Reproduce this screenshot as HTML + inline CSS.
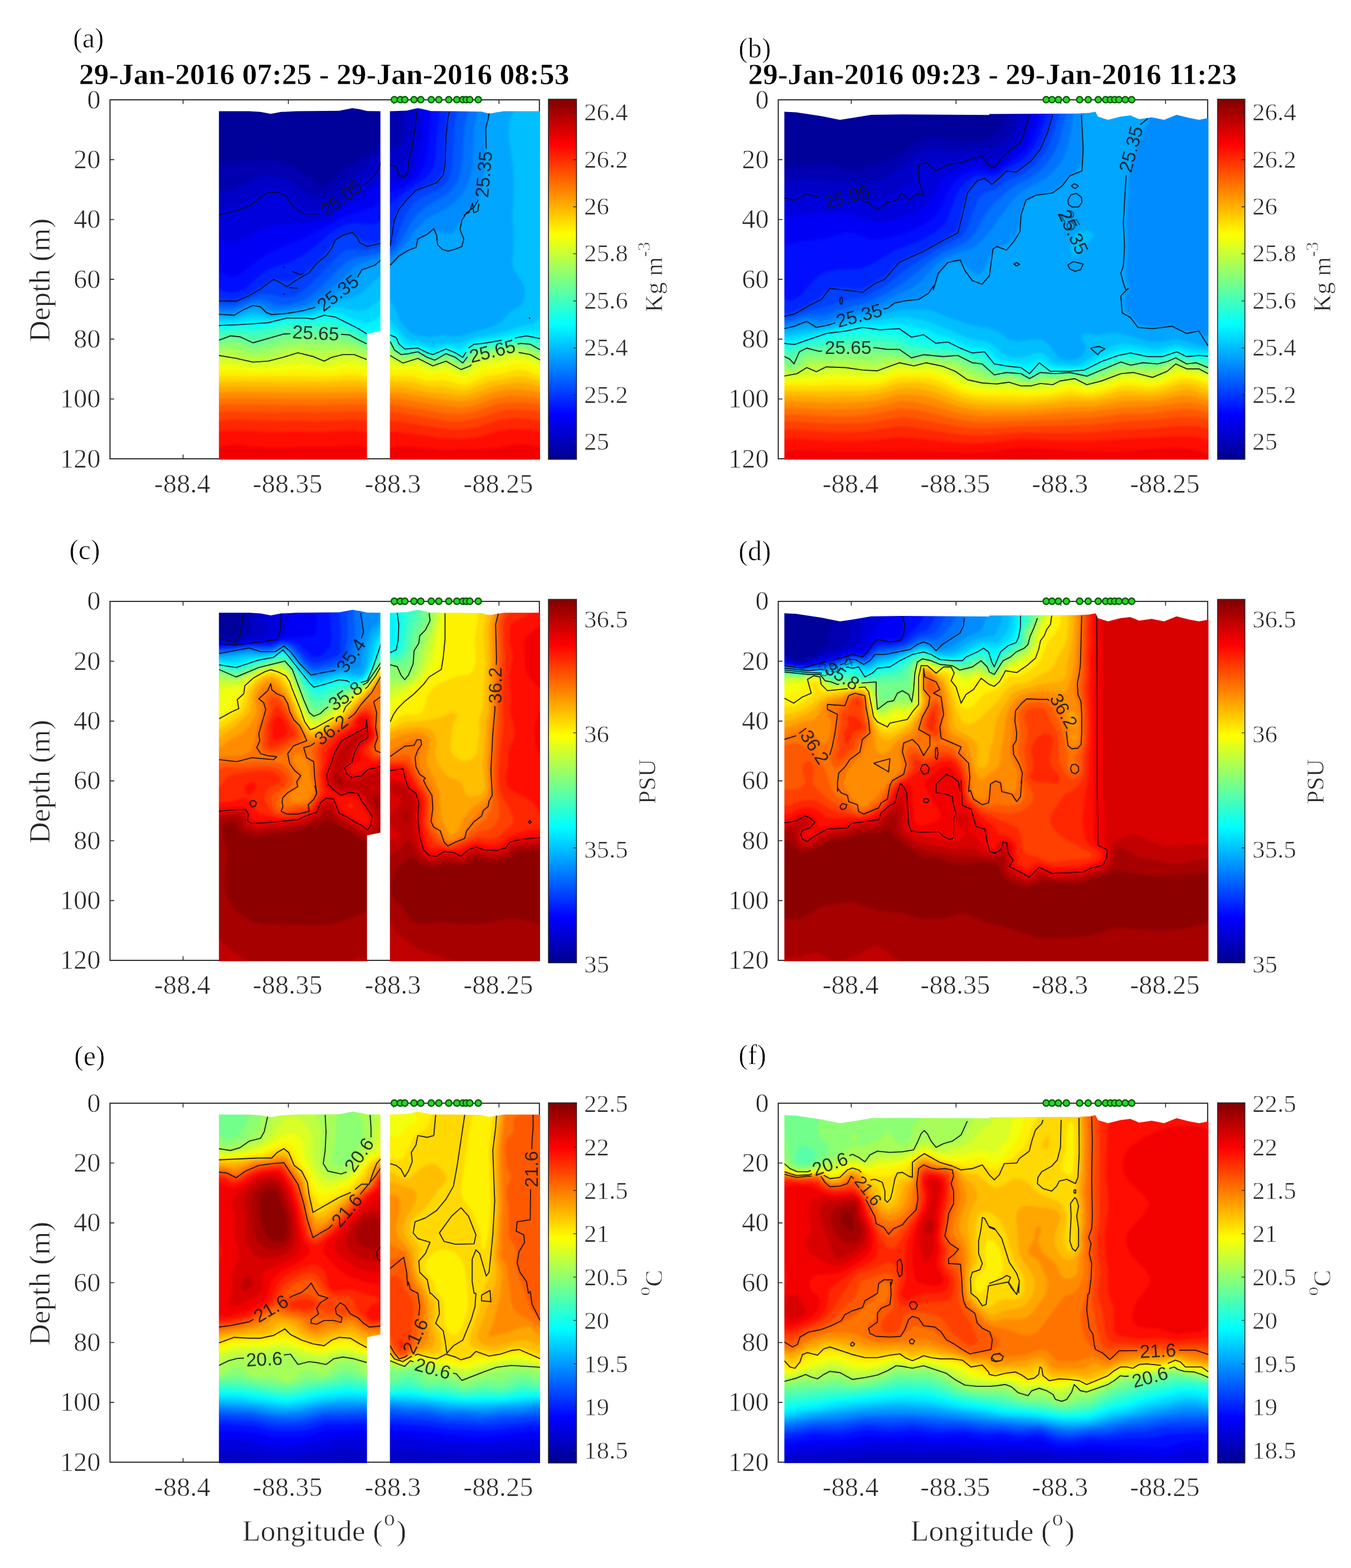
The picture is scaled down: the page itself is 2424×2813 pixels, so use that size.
<!DOCTYPE html>
<html lang="en"><head><meta charset="utf-8"><title>Figure</title>
<style>html,body{margin:0;padding:0;background:#fff}body{width:2424px;height:2813px;overflow:hidden}svg{display:block}text{white-space:pre}.t text{stroke:#fff;stroke-width:.75px;stroke-linejoin:round}.t text.b{stroke-width:.6px}</style></head><body>
<svg width="2424" height="2813" viewBox="0 0 2424 2813">
<defs><linearGradient id="jet" x1="0" y1="0" x2="0" y2="1"><stop offset="0" stop-color="#800000"/><stop offset="0.125" stop-color="#ff0000"/><stop offset="0.375" stop-color="#ffff00"/><stop offset="0.625" stop-color="#00ffff"/><stop offset="0.875" stop-color="#0000ff"/><stop offset="1" stop-color="#00008f"/></linearGradient>
<filter id="sm" x="-5%" y="-5%" width="110%" height="110%" color-interpolation-filters="sRGB"><feGaussianBlur stdDeviation="2.2"/></filter>
<clipPath id="ca0"><path d="M392.8 199.5L447.2 199.5L467.4 200.8L485.9 204.2L504.4 200.8L531.3 199.5L608.6 198.8L622.0 196.1L632.1 194.1L645.5 196.1L659.0 199.2L682.6 199.5L682.6 594.0L658.5 599.0L658.5 824.6L392.8 824.6Z"/></clipPath><clipPath id="ca1"><path d="M699.6 199.5L729.6 198.5L741.3 195.8L749.7 194.1L759.8 196.1L773.3 199.2L817.0 199.5L864.0 200.2L874.1 202.9L880.8 203.5L890.9 201.5L904.4 199.5L969.0 199.5L969.0 824.6L699.6 824.6Z"/></clipPath><clipPath id="caA"><path d="M392.8 199.5L447.2 199.5L467.4 200.8L485.9 204.2L504.4 200.8L531.3 199.5L608.6 198.8L622.0 196.1L632.1 194.1L645.5 196.1L659.0 199.2L682.6 199.5L682.6 594.0L658.5 599.0L658.5 824.6L392.8 824.6ZM699.6 199.5L729.6 198.5L741.3 195.8L749.7 194.1L759.8 196.1L773.3 199.2L817.0 199.5L864.0 200.2L874.1 202.9L880.8 203.5L890.9 201.5L904.4 199.5L969.0 199.5L969.0 824.6L699.6 824.6Z"/></clipPath><clipPath id="cb0"><path d="M1407.3 200.4L1428.6 201.5L1473.4 208.2L1507.0 214.9L1529.5 211.6L1563.1 206.0L1619.1 205.3L1775.1 206.2L1775.0 204.4L1864.6 204.0L1931.9 203.7L1954.3 202.6L1965.5 200.4L1970.0 209.3L1987.9 214.9L2010.3 209.3L2028.2 207.1L2043.9 213.8L2066.3 210.5L2088.7 214.9L2111.1 206.0L2133.5 211.6L2151.5 214.9L2168.3 211.6L2168.3 824.6L1407.3 824.6Z"/></clipPath><clipPath id="cbA"><path d="M1407.3 200.4L1428.6 201.5L1473.4 208.2L1507.0 214.9L1529.5 211.6L1563.1 206.0L1619.1 205.3L1775.1 206.2L1775.0 204.4L1864.6 204.0L1931.9 203.7L1954.3 202.6L1965.5 200.4L1970.0 209.3L1987.9 214.9L2010.3 209.3L2028.2 207.1L2043.9 213.8L2066.3 210.5L2088.7 214.9L2111.1 206.0L2133.5 211.6L2151.5 214.9L2168.3 211.6L2168.3 824.6L1407.3 824.6Z"/></clipPath><clipPath id="cc0"><path d="M392.8 1099.3L447.2 1099.3L467.4 1100.6L485.9 1104.0L504.4 1100.6L531.3 1099.3L608.6 1098.6L622.0 1095.9L632.1 1093.9L645.5 1095.9L659.0 1099.0L682.6 1099.3L682.6 1493.8L658.5 1498.8L658.5 1724.4L392.8 1724.4Z"/></clipPath><clipPath id="cc1"><path d="M699.6 1099.3L729.6 1098.3L741.3 1095.6L749.7 1093.9L759.8 1095.9L773.3 1099.0L817.0 1099.3L864.0 1100.0L874.1 1102.7L880.8 1103.3L890.9 1101.3L904.4 1099.3L969.0 1099.3L969.0 1724.4L699.6 1724.4Z"/></clipPath><clipPath id="ccA"><path d="M392.8 1099.3L447.2 1099.3L467.4 1100.6L485.9 1104.0L504.4 1100.6L531.3 1099.3L608.6 1098.6L622.0 1095.9L632.1 1093.9L645.5 1095.9L659.0 1099.0L682.6 1099.3L682.6 1493.8L658.5 1498.8L658.5 1724.4L392.8 1724.4ZM699.6 1099.3L729.6 1098.3L741.3 1095.6L749.7 1093.9L759.8 1095.9L773.3 1099.0L817.0 1099.3L864.0 1100.0L874.1 1102.7L880.8 1103.3L890.9 1101.3L904.4 1099.3L969.0 1099.3L969.0 1724.4L699.6 1724.4Z"/></clipPath><clipPath id="cd0"><path d="M1407.3 1100.2L1428.6 1101.3L1473.4 1108.0L1507.0 1114.7L1529.5 1111.4L1563.1 1105.8L1619.1 1105.1L1775.1 1106.0L1775.0 1104.2L1864.6 1103.8L1931.9 1103.5L1954.3 1102.4L1965.5 1100.2L1970.0 1109.1L1987.9 1114.7L2010.3 1109.1L2028.2 1106.9L2043.9 1113.6L2066.3 1110.3L2088.7 1114.7L2111.1 1105.8L2133.5 1111.4L2151.5 1114.7L2168.3 1111.4L2168.3 1724.4L1407.3 1724.4Z"/></clipPath><clipPath id="cdA"><path d="M1407.3 1100.2L1428.6 1101.3L1473.4 1108.0L1507.0 1114.7L1529.5 1111.4L1563.1 1105.8L1619.1 1105.1L1775.1 1106.0L1775.0 1104.2L1864.6 1103.8L1931.9 1103.5L1954.3 1102.4L1965.5 1100.2L1970.0 1109.1L1987.9 1114.7L2010.3 1109.1L2028.2 1106.9L2043.9 1113.6L2066.3 1110.3L2088.7 1114.7L2111.1 1105.8L2133.5 1111.4L2151.5 1114.7L2168.3 1111.4L2168.3 1724.4L1407.3 1724.4Z"/></clipPath><clipPath id="ce0"><path d="M392.8 1999.6L447.2 1999.6L467.4 2000.9L485.9 2004.3L504.4 2000.9L531.3 1999.6L608.6 1998.9L622.0 1996.2L632.1 1994.2L645.5 1996.2L659.0 1999.3L682.6 1999.6L682.6 2394.1L658.5 2399.1L658.5 2624.7L392.8 2624.7Z"/></clipPath><clipPath id="ce1"><path d="M699.6 1999.6L729.6 1998.6L741.3 1995.9L749.7 1994.2L759.8 1996.2L773.3 1999.3L817.0 1999.6L864.0 2000.3L874.1 2003.0L880.8 2003.6L890.9 2001.6L904.4 1999.6L969.0 1999.6L969.0 2624.7L699.6 2624.7Z"/></clipPath><clipPath id="ceA"><path d="M392.8 1999.6L447.2 1999.6L467.4 2000.9L485.9 2004.3L504.4 2000.9L531.3 1999.6L608.6 1998.9L622.0 1996.2L632.1 1994.2L645.5 1996.2L659.0 1999.3L682.6 1999.6L682.6 2394.1L658.5 2399.1L658.5 2624.7L392.8 2624.7ZM699.6 1999.6L729.6 1998.6L741.3 1995.9L749.7 1994.2L759.8 1996.2L773.3 1999.3L817.0 1999.6L864.0 2000.3L874.1 2003.0L880.8 2003.6L890.9 2001.6L904.4 1999.6L969.0 1999.6L969.0 2624.7L699.6 2624.7Z"/></clipPath><clipPath id="cf0"><path d="M1407.3 2000.5L1428.6 2001.6L1473.4 2008.3L1507.0 2015.0L1529.5 2011.7L1563.1 2006.1L1619.1 2005.4L1775.1 2006.3L1775.0 2004.5L1864.6 2004.1L1931.9 2003.8L1954.3 2002.7L1965.5 2000.5L1970.0 2009.4L1987.9 2015.0L2010.3 2009.4L2028.2 2007.2L2043.9 2013.9L2066.3 2010.6L2088.7 2015.0L2111.1 2006.1L2133.5 2011.7L2151.5 2015.0L2168.3 2011.7L2168.3 2624.7L1407.3 2624.7Z"/></clipPath><clipPath id="cfA"><path d="M1407.3 2000.5L1428.6 2001.6L1473.4 2008.3L1507.0 2015.0L1529.5 2011.7L1563.1 2006.1L1619.1 2005.4L1775.1 2006.3L1775.0 2004.5L1864.6 2004.1L1931.9 2003.8L1954.3 2002.7L1965.5 2000.5L1970.0 2009.4L1987.9 2015.0L2010.3 2009.4L2028.2 2007.2L2043.9 2013.9L2066.3 2010.6L2088.7 2015.0L2111.1 2006.1L2133.5 2011.7L2151.5 2015.0L2168.3 2011.7L2168.3 2624.7L1407.3 2624.7Z"/></clipPath>
</defs>
<rect width="2424" height="2813" fill="#fff"/>
<g id="panel-a">
<rect x="197.4" y="179.1" width="770.4" height="644" fill="#fff" stroke="#262626" stroke-width="2"/>
<path d="M197.4 286.4h7.5M967.8 286.4h-7.5M197.4 393.8h7.5M967.8 393.8h-7.5M197.4 501.1h7.5M967.8 501.1h-7.5M197.4 608.4h7.5M967.8 608.4h-7.5M197.4 715.8h7.5M967.8 715.8h-7.5M328.5 823.1v-7.5M328.5 179.1v7.5M517.4 823.1v-7.5M517.4 179.1v7.5M706.3 823.1v-7.5M706.3 179.1v7.5M895.3 823.1v-7.5M895.3 179.1v7.5" stroke="#262626" stroke-width="1.6" fill="none"/>
<g clip-path="url(#ca0)"><g filter="url(#sm)">
<rect x="370" y="173" width="334" height="674" fill="#00009a"/>
<path fill="#0000b1" d="M692 213l0 622 -310 0 0-548 15 6 10 2 10-1 30-6 15-1 20 0 20 2 15 5 15 8 39 28 6 2 5 0 5-2 5-4 18-16 13-10 16-10 23-13 10-7 6-10 9-33 5-14z"/>
<path fill="#0000c7" d="M692 267l0 568 -310 0 0-498 20 5 15-1 10-4 25-14 10-4 15-3 15 0 15 3 10 4 11 7 19 15 10 6 10 3 5 0 10-1 15-7 15-11 40-31 25-25 15-12z"/>
<path fill="#0000dd" d="M692 284l0 551 -310 0 0-459 20-1 25-6 15-6 30-19 10-3 10-1 10 2 10 5 5 3 15 16 13 9 7 2 10 1 15-2 10-4 20-13 48-34 15-15 13-20 9-6z"/>
<path fill="#0000f4" d="M687 325l5-4 0 514 -310 0 0-409 25 9 15-1 15-5 35-19 15-6 15-2 40 0 15-2 15-4 15-7 70-39 15-11 15-14z"/>
<path fill="#000dff" d="M687 360l5-3 0 478 -310 0 0-357 25 17 10 2 10-2 10-7 25-21 20-13 70-30 60-33 15-6 35-11 10-4 15-10z"/>
<path fill="#0026ff" d="M687 394l5-2 0 443 -310 0 0-324 15 10 10 3 10 1 10-2 16-8 28-25 11-7 10-4 30-9 20-11 25-18 23-21 17-11 15-7 10-1 10-1 25 3 10-3 10-6z"/>
<path fill="#0040ff" d="M622 419l10-1 5 2 15 13 5 2 5 1 15-3 15-8 0 410 -310 0 0-305 15 6 15 2 10-1 10-3 19-9 36-22 5-2 5 0 15 4 10-2 20-11 10-7 31-30 19-25 10-7 10-4z"/>
<path fill="#0059ff" d="M677 445l15-4 0 394 -310 0 0-294 15 4 20 1 10-3 30-12 15-4 15 1 20 5 10 0 10-2 12-6 13-10 55-56 10-8 10-4 30 2 20-4z"/>
<path fill="#0073ff" d="M692 450l0 385 -310 0 0-286 20 3 15 0 10-3 25-10 10-2 10 0 20 8 10 2 15 0 15-4 15-5 12-8 17-15 36-37 15-11 10-4 25-5 30-8z"/>
<path fill="#008cff" d="M682 460l10-2 0 377 -310 0 0-279 20 2 15 0 10-3 20-9 10-2 10 0 20 10 10 1 25-2 25-5 15-7 16-11 30-25 26-25 7-5 41-15z"/>
<path fill="#00a6ff" d="M687 469l5 0 0 366 -310 0 0-273 20 2 15 0 10-3 20-9 10-2 10 2 15 8 10 1 40-4 25-5 5-2 19-10 46-28 8-7 11-15 5-5 31-14 5-2z"/>
<path fill="#00bfff" d="M687 494l5-1 0 342 -310 0 0-267 35 1 10-2 20-7 10-2 5 1 17 6 8 1 55-6 15-2 40-15 32-8 13-5 10-7 20-20 15-9z"/>
<path fill="#00d9ff" d="M687 533l5-2 0 304 -310 0 0-261 40-1 25-6 10-1 22 4 13 0 25-4 40-3 25-8 15-3 15 0 30 6 10-1 6-2 9-5 20-17z"/>
<path fill="#00f2ff" d="M572 564l15-4 15 1 14 4 31 13 10 2 10-3 25-16 0 274 -310 0 0-256 40-1 35-4 30 1 30-5 40-3 15-3z"/>
<path fill="#0dfff2" d="M572 570l15-3 15 3 50 22 10 2 10-3 20-11 0 255 -310 0 0-250 100-5 35-7 40-1 15-2z"/>
<path fill="#26ffd9" d="M582 575l10 0 15 4 25 10 25 12 5 1 10-2 20-7 0 242 -310 0 0-244 35-3 45 0 20-3 35-7 45 0 20-3z"/>
<path fill="#40ffbf" d="M512 584l15-1 35 1 25-1 15 2 25 8 30 14 15 0 20-4 0 232 -310 0 0-237 35-5 35 3 10-1 20-3 30-8z"/>
<path fill="#59ffa6" d="M502 594l10-2 15-1 60 0 35 5 10 4 20 10 10 3 10 1 20-2 0 223 -310 0 0-230 35-6 15 1 20 4 10 0 40-10z"/>
<path fill="#73ff8c" d="M517 600l60-1 35 2 15 3 25 12 10 3 15 2 15-1 0 215 -310 0 0-223 35-7 10 1 20 6 10 2 10-2 35-9 15-3z"/>
<path fill="#8cff73" d="M512 610l30-3 75 2 10 2 35 14 15 3 15 0 0 207 -310 0 0-216 35-5 10 1 25 8 10 0 50-13z"/>
<path fill="#a6ff59" d="M512 620l25-4 45 3 35-1 15 3 35 12 25 3 0 199 -310 0 0-209 20-2 15-1 10 2 20 6 15 1 15-2 35-10z"/>
<path fill="#bfff40" d="M517 629l10-2 10-1 45 7 25-4 15-1 15 3 30 10 25 4 0 190 -310 0 0-201 15-2 15 1 35 7 15 1 20-2 35-10z"/>
<path fill="#d9ff26" d="M522 639l10-2 10 1 30 7 10 2 30-8 15-1 10 2 30 9 25 5 0 181 -310 0 0-192 10-1 10 0 45 7 15 1 25-2 35-9z"/>
<path fill="#f2ff0d" d="M622 650l15 1 30 7 25 5 0 172 -310 0 0-181 25-1 40 5 15 1 20-1 40-6 15-1 45 7 10-2 20-5 10-1z"/>
<path fill="#fff200" d="M392 665l20-1 35 2 20 1 45-2 35-1 35 3 15-1 20-4 15-1 60 11 0 163 -310 0 0-169 10-1z"/>
<path fill="#ffd900" d="M397 675l20-1 35 1 95 0 35 1 50-4 15 2 45 8 0 153 -310 0 0-159 15-1z"/>
<path fill="#ffbf00" d="M392 685l25-1 160 1 55-3 25 3 35 7 0 143 -310 0 0-149 10-1z"/>
<path fill="#ffa600" d="M387 695l30-2 155 2 65-2 25 2 30 7 0 133 -310 0 0-139 5-1z"/>
<path fill="#ff8c00" d="M392 704l25-1 155 2 70-2 20 2 30 8 0 122 -310 0 0-129 10-2z"/>
<path fill="#ff7300" d="M397 715l20-1 150 2 75-2 20 2 30 9 0 110 -310 0 0-118 15-2z"/>
<path fill="#ff5900" d="M627 725l30 1 10 3 25 10 0 96 -310 0 0-106 25-4 160 2 60-2z"/>
<path fill="#ff4000" d="M392 740l20-2 80 2 40-1 35 1 70-2 15 0 10 3 30 13 0 81 -310 0 0-93 10-2z"/>
<path fill="#ff2600" d="M397 755l20-2 75 2 40 0 35 1 70-3 20 2 13 5 22 13 0 62 -310 0 0-76 15-4z"/>
<path fill="#ff0d00" d="M397 774l20-2 75 3 40-1 40 1 60-3 20 2 6 1 9 5 25 16 0 39 -310 0 0-55 15-6z"/>
<path fill="#f20000" d="M407 799l20-1 35 4 15 1 115-1 35-3 15 0 15 4 10 6 25 21 0 5 -310 0 0-26 15-7 10-3z"/>
</g></g>
<g clip-path="url(#ca1)"><g filter="url(#sm)">
<rect x="678" y="173" width="314" height="674" fill="#0000b1"/>
<path fill="#0000c7" d="M720 185l260 0 0 650 -290 0 0-566 15-1 10-4 5-5 5-9 2-10 -2-25 -2-15 -4-15 1 0z"/>
<path fill="#0000dd" d="M745 185l235 0 0 650 -290 0 0-541 10-1 20 0 5-4 5-9 6-15 3-15 4-45 -2-20 4 0z"/>
<path fill="#0000f4" d="M760 185l220 0 0 650 -290 0 0-509 25 0 10-2 7-4 8-10 6-15 6-25 6-55 1-15 0-15 1 0z"/>
<path fill="#000dff" d="M775 185l205 0 0 650 -290 0 0-487 30-11 15-8 11-9 12-15 6-15 3-15 8-90z"/>
<path fill="#0026ff" d="M795 185l185 0 0 650 -290 0 0-462 29-23 43-30 8-7 5-8 4-10 2-10 4-50 6-50 4 0z"/>
<path fill="#0040ff" d="M810 185l170 0 0 650 -290 0 0-404 5-3 1-3 11-35 7-15 8-10 10-10 13-11 35-18 6-6 4-5 4-10 2-10 3-50 3-35 5-25 3 0z"/>
<path fill="#0059ff" d="M825 185l155 0 0 650 -290 0 0-388 10-3 5-4 3-5 17-45 6-10 9-12 15-13 35-17 9-8 7-10 3-10 2-10 5-75 4-20 4-20 1 0z"/>
<path fill="#0073ff" d="M845 185l135 0 0 650 -290 0 0-379 10-3 5-3 10-10 6-10 14-27 15-20 15-13 35-20 10-9 8-11 5-10 4-15 2-15 3-45 2-20 9-40 2 0z"/>
<path fill="#008cff" d="M865 185l115 0 0 650 -290 0 0-368 15-8 17-14 8-10 15-22 15-16 10-7 25-13 15-9 14-13 8-10 8-15 4-15 4-25 2-50 1-15 6-25 6-15 2 0z"/>
<path fill="#00a6ff" d="M890 185l90 0 0 650 -290 0 0-350 5-3 24-22 22-15 5-5 9-12 20-13 5-1 5 0 15 5 5 1 5-1 5-5 19-29 18-20 11-20 5-25 3-40 0-45 2-15 3-10 4-10 8-15 2 0z"/>
<path fill="#00bfff" d="M940 187l2-2 38 0 0 650 -290 0 0-306 5 3 5 6 7 12 11 25 7 10 10 10 10 6 25 4 25-4 20 2 10 0 61-18 9-5 5-4 15-16 16-10 5-5 4-7 2-13 -2-11 -5-11 -12-18 -4-10 3-45 -3-45 3-35 0-25 -2-30 -6-40 -2-20 1-15 3-10 2-5 4-5 18-13z"/>
<path fill="#00d9ff" d="M693 565l16 20 21 23 5 3 20 3 20 6 5 0 20-5 25 1 25-10 32-6 21-5 27-8 25-6 10-6 15-14 0 274 -290 0 0-273 3 3z"/>
<path fill="#00f2ff" d="M695 584l18 16 12 15 5 2 5 1 20 2 20 7 5 0 15-5 5-1 10 1 10 3 5 0 5-2 15-9 10-3 38-6 42-9 30-1 15-6 0 246 -290 0 0-255 5 4z"/>
<path fill="#0dfff2" d="M695 594l15 11 10 13 5 4 5 1 15-1 10 2 15 7 5 1 5 0 15-6 5-1 10 1 15 6 5-2 15-11 10-4 38-5 47-8 10 0 20 2 10-2 0 233 -290 0 0-244 5 3z"/>
<path fill="#26ffd9" d="M694 600l11 7 11 13 6 5 8 2 20-1 5 1 15 7 5 2 5 0 20-7 10 1 15 7 5-1 15-13 10-4 30-4 50-8 15 0 20 4 10 0 0 224 -290 0 0-237 4 2z"/>
<path fill="#40ffbf" d="M694 605l9 5 13 15 9 5 25-1 25 10 5 0 15-6 10-1 20 9 5 0 5-3 10-11 10-5 85-12 10 1 20 6 10 0 0 218 -290 0 0-231 4 1z"/>
<path fill="#59ffa6" d="M695 610l5 3 15 16 5 3 10 1 20-2 25 11 5 0 20-7 5 0 5 2 15 8 5 0 5-2 10-13 5-3 10-2 25-3 45-8 10 0 10 1 20 7 10 1 0 212 -290 0 0-226 5 1z"/>
<path fill="#73ff8c" d="M694 615l6 4 11 11 9 5 10 1 15-2 5 0 25 10 10-1 15-5 5 0 5 2 15 8 5 1 7-4 8-10 5-4 5-2 30-4 40-7 10 0 10 0 10 3 15 6 10 1 0 207 -290 0 0-221 4 1z"/>
<path fill="#8cff73" d="M691 620l4 2 17 13 8 4 5 0 20-2 5 0 25 10 10-1 15-5 5 0 20 11 5 1 6-3 14-15 5-2 30-4 40-7 10-1 10 1 10 3 15 7 10 2 0 201 -290 0 0-215 1 0z"/>
<path fill="#a6ff59" d="M930 625l10 1 10 2 20 9 10 2 0 196 -290 0 0-209 5 2 15 10 10 4 5 1 20-3 5 0 20 9 5 1 10-1 15-5 5 1 15 8 5 2 5 1 5-1 5-4 10-11 5-3 75-12z"/>
<path fill="#bfff40" d="M920 630l10-1 15 2 10 4 15 7 10 3 0 190 -290 0 0-202 5 1 25 12 5 1 20-4 5 1 20 8 5 2 10-1 15-5 8 2 12 7 10 3 5-1 5-3 11-11 9-4 25-4 35-7z"/>
<path fill="#d9ff26" d="M920 635l10 0 15 2 35 15 0 183 -290 0 0-195 10 3 20 8 5 1 20-4 5 0 20 9 5 1 5 0 20-5 7 2 13 7 10 3 5-1 5-2 15-13 5-2 30-5 30-7z"/>
<path fill="#f2ff0d" d="M910 645l15-3 15 1 10 3 20 10 10 4 0 175 -290 0 0-186 5 1 25 8 10-1 15-3 5 0 20 9 5 1 25-4 5 1 15 8 10 2 10-2 21-14 34-6 15-4z"/>
<path fill="#fff200" d="M915 654l10-2 15 1 10 3 20 10 10 2 0 167 -290 0 0-173 30 3 25-1 7 1 13 6 5 1 25-3 5 1 20 8 10 2 10-1 25-14 10-3 25-3 15-5z"/>
<path fill="#ffd900" d="M920 665l10-2 10 1 30 11 10 2 0 158 -290 0 0-161 50 1 25 8 10 0 20-1 10 2 20 6 10 0 10-3 25-12 10-2 20-2 20-6z"/>
<path fill="#ffbf00" d="M905 680l20-4 10 0 10 1 35 10 0 148 -290 0 0-151 40 1 10 1 25 7 30 1 35 6 15-3 30-12 30-5z"/>
<path fill="#ffa600" d="M905 690l20-3 15 0 40 9 0 139 -290 0 0-141 35 1 40 8 65 7 15-3 35-12 25-5z"/>
<path fill="#ff8c00" d="M910 699l15-1 15 1 15 2 25 5 0 129 -290 0 0-130 30 0 50 9 45 5 15 1 15-2 40-14 25-5z"/>
<path fill="#ff7300" d="M915 710l30 1 35 6 0 118 -290 0 0-119 15-1 15 1 65 11 40 4 20-2 45-15 25-4z"/>
<path fill="#ff5900" d="M895 724l15-2 25 0 25 2 20 5 0 106 -290 0 0-108 15-1 10 1 80 14 30 2 25-4 45-15z"/>
<path fill="#ff4000" d="M910 735l40 1 15 2 15 4 0 93 -290 0 0-94 15-2 9 1 81 14 30 2 25-4 15-4 30-10 15-3z"/>
<path fill="#ff2600" d="M920 750l35 2 25 6 0 77 -290 0 0-78 15-2 10 1 75 12 20 2 20 1 25-4 45-15 20-2z"/>
<path fill="#ff0d00" d="M915 770l20 0 20 1 10 2 15 6 0 56 -290 0 0-57 15-4 10 1 75 11 40 2 30-4 40-12 15-2z"/>
<path fill="#f20000" d="M915 799l20-2 15 1 15 3 15 7 0 27 -290 0 0-28 20-6 20 0 35 3 25 3 15 1 30-3 20 1 20-1 20-2 20-4z"/>
</g></g>
<g clip-path="url(#caA)"><path d="M392.8 385.7l30.9-7.4 26.9-10.1 16.8-15.1 13.4-7.7 16.8-.7 15.2 6.7 8.4 12.8 10.1 10.8 13.4 8.4 23.5 .6 5.4-1.6M654.1 331.3l4.9-3.4 13.4-13.4 8.4-15.2 3.4-11.7M392.8 539.7l30.9 .6 23.5-10 20.2-11.8 23.5-17.5 13.5 6.7 10.1 6.8 16.8-11.8 23.5-13.5 13.4-16.8 16.8-13.4 10.1-13.5 6.7-15.1 13.5-8.4 16.8-5 8.4 8.4 5 10.1 13.5 6.7 25.2-6.1M392.8 563.9l27.5 1.6 16.8-10 16.8-7.4 13.5 2.3 10.1 10.1 10.1 4 26.9-2.3 26.8-4.4 21.9-5.7 2.5-1.5M641.4 497.6l7.5-13.4 23.5-8.4 11.8-10.1M392.8 584l37.6-1.6 50.4-3.4 33.7-8.4 33.6 0 13.4 1.7 20.2-6.8 20.1 3.4 40.4 20.2 16.1 10.1M392.8 610.3l20.8-7.8 16.8 1.7 23.5 10.8 55.5-15.8 11.9-.6M611.9 599.7l15.2 1.1 15.1 8.4 16.1 7.8M392.8 637.8l30.9 5.1 30.2 6.7 26.9-1.7 26.9-6.7 26.9-8.4 26.9 6.7 20.2 8.4 13.4-6.7 20.2-5.1 20.2 0 22.8 9.1M700 296l11.1 3.3 5 13.5 10.1 5 5.1-6.7 1.6-20.2 6.8-26.9 5-33.6 3.4-30.2M700 440.5l7.7-45.4 8.4-20.1 16.8-20.2 13.5-13.5 37-13.4 11.7-13.4 3.4-20.2 1.7-47.1 3.3-33.6 2.7-13.4M700 475.8l16.1-16.8 16.8-10.1 13.5-5 3.3-15.2 16.9-8.4 11.7-10 5.1 11.7 1.6 16.8 8.4 8.4 10.1 3.4 13.5-3.4 11.7-5 3.4-13.5 -6.7-16.8 3.3-16.8 8.4-13.4 13.5-10.1 7.5-13.1M872.3 266.6l-.9-36.2 4.4-16.8 1.7-10.1M700 600.8l11.1 5.1 5 11.7 10.1 8.5 23.5-1.7 16.9 8.4 10 3.3 23.6-10 16.8 6.7 13.4 8.4 5.8-9.6M840.5 624.4l10.1-6.8 16.8-1.6 32.6-5.5M923.8 606.4l20.9-3.9 25.2 5.1M700 612.6l7.7 15.1 11.8 8.4 13.4-1.6 16.8-3.4 16.9 10.1 13.4 5 20.2-11.7 16.8 6.7 13.4 10.1 8.4-11.2M928.7 617l5.9-1 16.8 1.6 18.5 10.1M700 637.8l22.9 13.5 26.8-8.4 26.9 13.4 23.6-8.4 26.9 15.1 16.8-6.7 1.6-2.5M930.5 632.2l20.9 3.9 18.5 10.1M832.1 385.7l10.1-5 5.7-16.5M847.9 364.2l2 17.5 7.4-2.7 2-13.5M508.7 478.5l2.1 2M523.9 486.6l14.1 6 6.7-1.7M518.5 516.1l16.1 .7M508.7 526.2l2.4 2M949.1 569.9l2.3 2" fill="none" stroke="#0c0c14" stroke-width="1.9" stroke-linejoin="round" stroke-opacity="0.9"/></g>
<text transform="translate(611.9 354.8) rotate(-38)" font-size="33.5" text-anchor="middle" fill="#15151c" fill-opacity="0.88" stroke="none" font-family="'Liberation Sans','DejaVu Sans',sans-serif" y="12.1">25.05</text>
<text transform="translate(605.9 525.2) rotate(-38)" font-size="33.5" text-anchor="middle" fill="#15151c" fill-opacity="0.88" stroke="none" font-family="'Liberation Sans','DejaVu Sans',sans-serif" y="12.1">25.35</text>
<text transform="translate(867.4 312.8) rotate(-85)" font-size="33.5" text-anchor="middle" fill="#15151c" fill-opacity="0.88" stroke="none" font-family="'Liberation Sans','DejaVu Sans',sans-serif" y="12.1">25.35</text>
<text transform="translate(566.6 596.8) rotate(3)" font-size="33.5" text-anchor="middle" fill="#15151c" fill-opacity="0.88" stroke="none" font-family="'Liberation Sans','DejaVu Sans',sans-serif" y="12.1">25.65</text>
<text transform="translate(883.2 629.4) rotate(-14)" font-size="33.5" text-anchor="middle" fill="#15151c" fill-opacity="0.88" stroke="none" font-family="'Liberation Sans','DejaVu Sans',sans-serif" y="12.1">25.65</text>
<g class="t">
<text x="180.6" y="194.6" font-size="48.5" text-anchor="end" fill="#262626" font-family="'Liberation Serif','DejaVu Serif',serif">0</text>
<text x="180.6" y="301.9" font-size="48.5" text-anchor="end" fill="#262626" font-family="'Liberation Serif','DejaVu Serif',serif">20</text>
<text x="180.6" y="409.3" font-size="48.5" text-anchor="end" fill="#262626" font-family="'Liberation Serif','DejaVu Serif',serif">40</text>
<text x="180.6" y="516.6" font-size="48.5" text-anchor="end" fill="#262626" font-family="'Liberation Serif','DejaVu Serif',serif">60</text>
<text x="180.6" y="623.9" font-size="48.5" text-anchor="end" fill="#262626" font-family="'Liberation Serif','DejaVu Serif',serif">80</text>
<text x="180.6" y="731.3" font-size="48.5" text-anchor="end" fill="#262626" font-family="'Liberation Serif','DejaVu Serif',serif">100</text>
<text x="180.6" y="838.6" font-size="48.5" text-anchor="end" fill="#262626" font-family="'Liberation Serif','DejaVu Serif',serif">120</text>
<text x="327" y="883.6" font-size="48.5" text-anchor="middle" fill="#262626" font-family="'Liberation Serif','DejaVu Serif',serif">-88.4</text>
<text x="515.9" y="883.6" font-size="48.5" text-anchor="middle" fill="#262626" font-family="'Liberation Serif','DejaVu Serif',serif">-88.35</text>
<text x="704.8" y="883.6" font-size="48.5" text-anchor="middle" fill="#262626" font-family="'Liberation Serif','DejaVu Serif',serif">-88.3</text>
<text x="893.8" y="883.6" font-size="48.5" text-anchor="middle" fill="#262626" font-family="'Liberation Serif','DejaVu Serif',serif">-88.25</text>
<rect x="984" y="178" width="50.4" height="646" fill="url(#jet)" stroke="#262626" stroke-width="1.6"/>
<text x="1047.9" y="807.2" font-size="45" text-anchor="start" fill="#262626" font-family="'Liberation Serif','DejaVu Serif',serif">25</text>
<text x="1047.9" y="722.7" font-size="45" text-anchor="start" fill="#262626" font-family="'Liberation Serif','DejaVu Serif',serif">25.2</text>
<text x="1047.9" y="638.3" font-size="45" text-anchor="start" fill="#262626" font-family="'Liberation Serif','DejaVu Serif',serif">25.4</text>
<text x="1047.9" y="553.8" font-size="45" text-anchor="start" fill="#262626" font-family="'Liberation Serif','DejaVu Serif',serif">25.6</text>
<text x="1047.9" y="469.4" font-size="45" text-anchor="start" fill="#262626" font-family="'Liberation Serif','DejaVu Serif',serif">25.8</text>
<text x="1047.9" y="385" font-size="45" text-anchor="start" fill="#262626" font-family="'Liberation Serif','DejaVu Serif',serif">26</text>
<text x="1047.9" y="300.5" font-size="45" text-anchor="start" fill="#262626" font-family="'Liberation Serif','DejaVu Serif',serif">26.2</text>
<text x="1047.9" y="216.1" font-size="45" text-anchor="start" fill="#262626" font-family="'Liberation Serif','DejaVu Serif',serif">26.4</text>
<path d="M1034.4 793.2h-6M1034.4 708.7h-6M1034.4 624.3h-6M1034.4 539.8h-6M1034.4 455.4h-6M1034.4 371h-6M1034.4 286.5h-6M1034.4 202.1h-6" stroke="#262626" stroke-width="1.3" fill="none"/>
<text transform="translate(1187.7 497) rotate(-90)" font-size="44" text-anchor="middle" fill="#262626" font-family="'Liberation Serif','DejaVu Serif',serif">Kg m<tspan dy="-22" font-size="32.5">-3</tspan></text>
<text transform="translate(88.7 502.7) rotate(-90)" font-size="53.7" text-anchor="middle" fill="#262626" font-family="'Liberation Serif','DejaVu Serif',serif">Depth (m)</text>
<text x="131" y="85" font-size="50" text-anchor="start" fill="#000" font-family="'Liberation Serif','DejaVu Serif',serif">(a)</text>
<text x="581.6" y="150.6" font-size="53.5" text-anchor="middle" font-weight="bold" fill="#000" font-family="'Liberation Serif','DejaVu Serif',serif" class="b">29-Jan-2016 07:25 - 29-Jan-2016 08:53</text>
</g>
<g fill="#25d825" stroke="#0b5a0b" stroke-width="2.4"><circle cx="707.5" cy="178.8" r="5.6"/><circle cx="718.3" cy="178.8" r="5.6"/><circle cx="726.3" cy="178.8" r="5.6"/><circle cx="742.8" cy="178.8" r="5.6"/><circle cx="755" cy="178.8" r="5.6"/><circle cx="773.8" cy="178.8" r="5.6"/><circle cx="787.3" cy="178.8" r="5.6"/><circle cx="805.2" cy="178.8" r="5.6"/><circle cx="819.6" cy="178.8" r="5.6"/><circle cx="830.3" cy="178.8" r="5.6"/><circle cx="836.5" cy="178.8" r="5.6"/><circle cx="842.9" cy="178.8" r="5.6"/><circle cx="858.1" cy="178.8" r="5.6"/></g>
</g>
<g id="panel-b">
<rect x="1396.4" y="179.1" width="770.4" height="644" fill="#fff" stroke="#262626" stroke-width="2"/>
<path d="M1396.4 286.4h7.5M2166.8 286.4h-7.5M1396.4 393.8h7.5M2166.8 393.8h-7.5M1396.4 501.1h7.5M2166.8 501.1h-7.5M1396.4 608.4h7.5M2166.8 608.4h-7.5M1396.4 715.8h7.5M2166.8 715.8h-7.5M1527.4 823.1v-7.5M1527.4 179.1v7.5M1715.4 823.1v-7.5M1715.4 179.1v7.5M1903.3 823.1v-7.5M1903.3 179.1v7.5M2091.3 823.1v-7.5M2091.3 179.1v7.5" stroke="#262626" stroke-width="1.6" fill="none"/>
<g clip-path="url(#cb0)"><g filter="url(#sm)">
<rect x="1384" y="173" width="809" height="674" fill="#00009a"/>
<path fill="#0000b1" d="M1806 185l375 0 0 650 -785 0 0-534 10 1 10 0 30-7 20-2 20 2 35 8 15 0 30-8 40-13 12-7 23-19 10-5 10-3 10-2 15 0 55 8 21-4 19-7 10-7 5-6 5-10 3-10 0-10 -2-15 4 0z"/>
<path fill="#0000c7" d="M1826 185l355 0 0 650 -785 0 0-510 20 0 40-4 75 6 30-1 20-5 20-10 15-10 25-23 15-7 15-2 50 2 35-4 20 0 10-2 10-6 10-8 6-6 6-10 4-10 3-15 0-25 1 0z"/>
<path fill="#0000dd" d="M1846 185l335 0 0 650 -785 0 0-485 25 1 24-6 6 0 30 4 40 1 50 9 5 0 10-3 14-6 31-20 5-7 8-23 4-5 8-4 10-1 10 3 10 1 35-6 25-6 10-2 5 0 5 2 10 7 5 1 5-2 10-8 25-21 7-9 7-15 6-20 2-10 -1-20 4 0z"/>
<path fill="#0000f4" d="M1861 185l320 0 0 650 -785 0 0-446 25-1 45-5 45-2 20 3 35 12 15 2 25-4 20-6 15-5 15-9 10-9 7-10 12-25 9-10 13-10 19-8 20-7 10 0 20 7 5 0 5-2 44-35 9-10 6-15 9-30 2-25 5 0z"/>
<path fill="#000dff" d="M1871 185l310 0 0 650 -785 0 0-395 15-1 25-6 40-4 45-13 10 1 25 11 10 1 15 0 15-3 25-7 20-8 13-6 15-10 10-10 7-11 14-29 6-10 8-10 7-6 15-9 15-5 10 0 15 4 10-1 40-27 13-11 10-15 7-15 8-25 5-30 2 0z"/>
<path fill="#0026ff" d="M1881 185l300 0 0 650 -785 0 0-312 15 14 5 2 5 0 8-4 7-5 27-30 8-7 10-5 10-3 10-2 35 0 15-3 15-7 38-23 50-20 26-15 12-10 7-10 19-50 6-10 10-10 12-8 10-3 10 0 10 2 10-2 5-2 15-11 20-9 10-7 11-10 10-15 9-20 7-20 8-35z"/>
<path fill="#0040ff" d="M1896 185l285 0 0 650 -785 0 0-278 10 4 5 1 10-2 5-2 43-23 15-15 7-4 10-1 35 4 10-1 5-2 35-20 20-21 10-8 45-21 46-26 6-5 4-5 5-15 11-45 6-10 8-10 7-5 7-2 15 3 5 0 5-2 20-14 15-4 10-5 15-11 10-10 10-15 7-15 8-20 12-45 3 0z"/>
<path fill="#0059ff" d="M1906 186l0-1 275 0 0 650 -785 0 0-266 10 2 10-1 30-11 35-9 25-9 40-7 11-4 36-20 33-27 19-13 36-22 35-18 8-5 5-5 6-10 17-45 4-9 5-5 5-4 20-7 25-18 15-5 10-5 20-15 15-17 9-15 6-15 20-64z"/>
<path fill="#0073ff" d="M1921 185l260 0 0 650 -785 0 0-258 10 0 10-1 25-9 10-2 20 1 10-1 35-12 35-9 15-6 20-9 31-19 19-14 31-26 19-14 15-7 25-11 10-6 7-7 8-10 20-35 12-15 28-25 7-5 28-15 15-10 12-10 8-10 10-15 7-15 5-15 8-35 10-25z"/>
<path fill="#008cff" d="M1936 188l2-3 243 0 0 650 -785 0 0-252 10 0 10-1 30-9 5-1 20 4 10-1 100-31 25-13 25-11 10-6 11-9 27-30 17-13 15-6 30-9 10-6 12-11 17-20 28-40 13-16 15-12 40-22 12-10 13-15 6-10 7-15 5-20 6-40 4-10 7-12z"/>
<path fill="#00a6ff" d="M1971 190l13-5 27 1 23 9 19 10 6 5 2 5 0 5 -10 17 -10 25 -10 30 -5 23 -5 80 2 50 -3 45 1 9 5 16 -1 5 -5 10 -2 10 0 10 2 5 3 5 18 19 5 3 9 3 16 1 20-2 10 0 30 10 20 1 10 6 5 1 15-19 0 252 -785 0 0-246 20-1 30-8 20 4 15-2 60-18 45-11 25-11 40-8 10-6 9-8 4-5 12-25 8-10 7-6 10-4 12 0 8 5 15 14 5 2 5 1 5-2 5-5 2-5 13-30 5-5 20-7 9-8 6-7 5-13 6-30 4-10 7-10 7-5 6-3 30-8 7-4 8-6 15-15 17-14 3-4 3-11 2-15 0-55 1-10 3-5 6-5 20-10z"/>
<path fill="#00bfff" d="M1936 415l10-2 10 2 7 5 -1 5 -31 35 -5 0 -5-10 0-15 5-11 3-4 7-5zM1626 555l35 1 15 3 26 11 31 10 13 4 25 4 10 3 10 4 20 14 5 2 10 1 30-4 10 1 10 4 5 4 17 23 8 4 10 2 10 0 5-1 8-5 4-5 5-10 0-5 -7-10 -1-5 1-3 5-4 5-1 15 4 30-4 10 0 55 15 15 1 35-4 10 1 33 10 12 2 5 0 10-5 0 218 -785 0 0-239 20-1 30-6 15 1 10-1 19-4 51-14 45-8 25-6 15-2z"/>
<path fill="#00d9ff" d="M1606 570l20-1 35 6 45 18 30 13 10 3 25 4 10 5 19 17 11 5 10 1 15 0 6-1 14-6 10-1 5 1 5 3 8 8 7 5 10 3 15 1 10 1 15-3 30-19 10-5 15-7 15-4 20 1 30 6 10 2 11-1 19-5 10-1 10 2 15 4 25 3 10 0 10-2 0 209 -785 0 0-233 20 1 10-2 20-4 25-3 75-18 35-3 25-3z"/>
<path fill="#00f2ff" d="M1536 584l15-2 30 0 25-2 15 2 15 4 25 5 20 9 25 6 30 14 10 2 20 2 5 2 5 3 10 11 10 6 18 4 27 3 5 0 15-7 5-1 5 2 13 8 12 3 30 1 15-1 8-3 22-12 25-11 15-4 10-1 10 0 25 4 15 2 15-1 15-5 10-1 5 0 20 6 30 2 15-1 0 202 -785 0 0-226 20 1 10-1 60-14 50-11z"/>
<path fill="#0dfff2" d="M1541 590l10-1 30 2 30 0 5 2 20 9 20 1 25 10 15 1 10 2 35 14 25 3 5 3 15 14 5 2 40 6 15 4 5-1 10-6 5-1 18 6 7 1 40 1 15-1 30-14 20-8 10-3 15-2 10 0 30 4 15 0 10-1 15-5 10-1 5 0 15 6 5 0 15 1 15 1 15-1 0 197 -785 0 0-220 20 1 10 0 58-16 57-10z"/>
<path fill="#26ffd9" d="M1526 600l25-3 55 4 10 3 20 9 20 3 20 5 25 1 10 2 30 11 20 4 5 2 15 12 5 3 10 2 30 3 20 6 5-1 10-5 5-2 25 6 20-1 35 1 10-3 20-10 25-10 15-3 15 0 45 4 10-2 15-5 10-1 5 1 15 5 20 1 20 2 10 0 0 191 -785 0 0-213 25 0 25-7 40-10 40-5z"/>
<path fill="#40ffbf" d="M1506 610l45-4 45 4 15 2 20 9 10 3 70 6 10 2 20 8 20 5 5 2 15 12 5 3 40 3 20 7 5-1 15-7 5 0 20 4 20-1 30 1 10-1 50-20 15-3 60 2 10-1 15-5 10-2 20 7 20 1 15 3 15 0 0 186 -785 0 0-207 25 0 25-9 60-9z"/>
<path fill="#59ffa6" d="M1491 620l40-4 35 0 45 5 25 11 5 0 20-1 25 3 30 1 25 10 20 5 20 15 5 1 35 2 10 2 10 4 5 1 5-1 15-6 5-1 20 3 25-1 25 2 10 0 55-22 10-1 15 1 20 0 25 1 10-1 20-7 10 1 15 5 15 0 25 6 10 0 0 181 -785 0 0-200 25 0 25-11 25-1 20-3z"/>
<path fill="#73ff8c" d="M1541 625l25 0 40 2 10 3 20 9 25-3 25 3 30 1 25 10 20 7 20 13 10 1 15-1 15 1 10 3 10 4 5 1 5-1 15-7 5 0 20 2 30-2 30 3 10-3 45-18 10-1 15 2 20-1 25 1 10-2 20-7 5-1 5 2 15 5 20 1 15 5 15 2 0 176 -785 0 0-192 10 0 15 3 5-2 9-9 6-3 10-3 25 1 40-4 25-1z"/>
<path fill="#8cff73" d="M1511 635l95 0 10 2 20 7 25-3 50 4 10 3 20 9 15 5 25 13 5 1 20-2 10 0 10 2 15 6 5 0 5-1 15-5 5-1 20 1 30-2 30 4 10-3 40-15 10-3 65 1 10-2 20-8 5 0 20 6 20 1 15 6 15 2 0 172 -785 0 0-184 25 5 5-1 7-5 8-9 5-3 5-1 25 0 35-2z"/>
<path fill="#a6ff59" d="M1476 645l40-2 50 3 40-5 10 2 20 5 20-2 10-1 40 6 10 2 25 12 30 12 10 3 10 0 15-2 10 1 20 5 10 2 25-7 20 1 25-4 10 0 20 5 10 0 15-5 30-12 10-2 35 0 25 1 15-3 20-9 5 0 20 6 20 2 15 5 15 4 0 167 -785 0 0-175 20 2 10-1 5-2 15-11 5-2 25-1z"/>
<path fill="#bfff40" d="M1601 649l10-1 5 0 20 5 25-4 10 1 27 5 13 4 30 15 30 9 15 2 25-2 30 7 10-1 20-5 20 0 25-5 10 0 20 6 10 0 15-4 30-11 10-3 25-1 25 3 10 0 15-4 20-10 5-1 15 5 25 3 15 6 15 4 0 163 -785 0 0-168 15 1 15-1 5-2 15-8 5-2 50-3 65 4 10-1 25-6z"/>
<path fill="#d9ff26" d="M1606 655l10-1 20 3 25-3 10 1 22 5 13 5 27 15 15 5 18 4 15 1 30-1 30 5 10 0 20-4 15 0 20-5 15-2 10 1 15 5 10 1 15-4 35-12 10-2 20-1 25 5 10 0 15-5 20-11 5-1 15 4 20 2 5 1 15 6 15 5 0 158 -785 0 0-161 25-1 10-2 20-6 15 1 15-4 10-1 25 0 35 4 20 1 10-3 25-8z"/>
<path fill="#f2ff0d" d="M1601 664l15-4 20 3 30-2 20 4 10 4 35 19 15 5 30 3 35-1 30 4 30-3 15 0 25-7 10-1 10 1 15 5 10 1 20-5 30-11 15-2 15 0 25 5 10 0 15-5 25-12 5 0 33 5 32 13 0 152 -785 0 0-155 30-1 25-4 15 0 30-4 20 0 35 3 15 0 15-2 20-8z"/>
<path fill="#fff200" d="M1611 669l10-1 20 1 20-1 13 2 22 8 32 17 23 6 25 2 35-1 30 3 45-3 25-7 10-1 10 1 15 5 10 0 20-4 30-10 10-2 15 0 25 4 10 1 15-3 30-14 10 0 25 3 35 15 0 145 -785 0 0-149 10-1 60-1 35-3 45 2 20-1 20-4 25-9z"/>
<path fill="#ffd900" d="M1606 679l15-3 45 2 20 6 40 19 20 5 20 2 40 0 35 2 45-3 35-7 25 4 15 0 15-3 30-9 10-2 15 0 30 3 10 0 15-4 30-11 10-1 15 2 10 3 30 13 0 138 -785 0 0-141 15-2 50 1 40-2 55 1 25-4 25-9z"/>
<path fill="#ffbf00" d="M1606 689l10-2 15-1 20 0 15 3 15 4 45 19 25 5 20 2 65 1 45-3 40-6 25 2 15 0 15-3 30-8 10-2 15 0 25 3 15-1 15-3 30-10 10-1 15 2 40 15 0 130 -785 0 0-133 15-1 55 1 85-1 25-3 30-9z"/>
<path fill="#ffa600" d="M1606 699l10-2 15-1 15 1 15 2 20 6 40 15 15 4 15 2 20 1 60 1 45-3 40-5 45 0 15-2 40-8 50 0 15-1 40-10 10-1 10 2 40 14 0 121 -785 0 0-123 20-2 60 2 70-1 30-4 30-8z"/>
<path fill="#ff8c00" d="M1611 709l20-1 25 2 20 5 40 14 30 6 25 2 55 0 40-2 50-5 45-1 55-9 55-1 50-9 10 0 15 2 35 11 0 112 -785 0 0-112 25-3 70 3 50-1 30-3 40-10z"/>
<path fill="#ff7300" d="M1626 720l15 1 20 4 50 14 20 4 20 3 25 1 60-1 80-6 40-1 60-8 55-2 50-7 10 0 15 1 15 4 20 7 0 101 -785 0 0-101 25-3 70 4 45-1 25-2 50-11 15-1z"/>
<path fill="#ff5900" d="M1611 734l15 0 15 1 20 4 60 14 25 3 25 1 95-3 90-4 55-7 55-2 55-7 15 0 15 2 15 4 15 5 0 90 -785 0 0-89 15-2 15-1 65 4 40 0 35-4 45-9z"/>
<path fill="#ff4000" d="M1606 750l15-2 15 2 85 16 20 2 25 1 65-4 50 0 75-3 55-6 55-3 55-5 30 1 15 4 15 6 0 76 -785 0 0-76 15-3 10 0 70 4 40 0 30-2 45-8z"/>
<path fill="#ff2600" d="M2106 765l25-1 20 1 15 4 15 7 0 59 -785 0 0-61 20-4 20 1 60 4 30 0 30-2 50-7 15-1 25 3 70 11 25 2 20 0 25-1 45-4 60 1 65-1 55-5 50-2 45-4z"/>
<path fill="#ff0d00" d="M1611 785l25 1 75 8 35 2 35-2 50-6 65 3 60 0 150-8 35 0 20 4 20 10 0 38 -785 0 0-42 15-5 20-1 60 4 35 1 35-2 50-5z"/>
<path fill="#f20000" d="M1816 805l25-2 60 4 100 4 80-6 25-1 20 1 15 2 13 3 27 13 0 12 -785 0 0-19 15-6 15-2 95 3 125-2 90 3 40-2 40-5z"/>
<path fill="#d90000" d="M1801 825l25-3 20 0 113 8 38 5 -365 0 29-2 80-2 60-6zM2061 830l25-1 20 1 24 5 -113 0 44-5zM1461 835l16 0 -16 0z"/>
</g></g>
<g clip-path="url(#cbA)"><path d="M1405.9 354.8l19.7 4.4 21.8-11 23.3 5.9M1547 361l11.9 2.5 15.3 13.1 17.4-13.1 17.5-4.3 8.8-13.1 13.1 13.1 13.1-11 13.1 2.2 -8.8-26.2 0-28.4 13.2-4.4 17.4 15.3 21.9-10.9 26.2-4.4 17.5-6.5 17.5-4.4 13.1 17.5 8.7 2.2 13.1-15.3 13.1-13.1 21.9-17.5 15.3-48.1M1405.9 567.7l19.7-4.3 26.2-15.3 21.9-11 15.2-19.6 59 6.5 21.9-15.3 17.5-7.5 26.2-30.6 43.7-19.7 34.9-19.6 26.3-13.1 8.7-32.8 8.7-39.3 17.5-21.9 13.1-4.4 13.1 11 13.1-11 13.2-13.1 17.4 2.2 26.3-19.7 17.4-21.8 13.1-30.6 8.8-30.6M1405.9 589.6l19.7-4.4 21.8-8.7 17.5 10.9 21.9-4.4 11.6-3.9M1585.2 554.5l8.6-2.1 10.9-8.7 21.9-4.4 21.8-2.2 17.5-10.9 8.8-13.1 0 6.9 8.7-29.7 17.5-19.7 21.8-4.4 8.8 19.7 13.1 17.5 17.5 6.5 13.1-15.3 6.5-48 6.6-4.4 17.5 6.5 13.1-15.3 10.9-17.4 2.2-30.6 8.7-26.2 17.5-8.8 30.6-4.3 17.5-13.2 13.1-17.4 21.8-8.8 2.2-39.3 -3.1-61.2M2059.2 212.8l-13.1 10.9M2020.6 314l-5.1 84.5 2.2 43.7 -2.2 34.9 -4.4 13.2 4.4 17.4 4.4 12.3 4.3-2.5 -13.1 13.1 2.2 30.6 15.3 8.7 13.1 17.5 26.2 2.2 35-4.4 26.2 13.1 21.9-4.4 16.6 26.3M1405.9 615.8l19.7 2.2 56.8-19.7 35-4.4 30.5-6.5 30.6 4.4 35-2.2 21.8 15.3 21.9-4.4 21.8 15.3 21.9-2.2 21.8 10.9 21.9 8.8 21.8-2.2 17.5 21.8 26.2 4.4 21.9 2.2 15.3 10.9 17.4-19.6 19.7 15.3 35 0 26.2-2.2 30.6-15.3 30.6-11 21.8-4.3 30.6 6.5 26.2 0 26.2-8.7 17.5 8.7 21.9-2.2 16.6 1.4M1405.9 639l10.9 5.2 7.9 8.7 9.6-21.8 13.1-6.6 21.9 5.7 5.8-.6M1566.8 623.7l3 0 21.8 3 21.9 0 21.8 15.3 21.9-5.7 34.9 3.5 26.3-2.2 26.2 13.2 17.5 2.1 21.8 19.7 21.9-4.4 26.2 2.2 15.3 8.8 19.6-11 26.3 2.2 26.2-2.2 30.6 6.6 61.1-25.4 17.5 5.7 21.9-4.3 26.2 2.1 17.5-4.3 15.3-6.6 19.6 10.9 17.5-2.1 21 8.7M1405.9 674.8l24.1-4.4 17.4-10.9 17.5 7.4 17.5-8.7 35 1.3 30.5 4.4 26.3 1.3 39.3-14.4 26.2 5.6 21.9-5.6 30.5 6.5 21.9 8.8 21.8 15.2 26.3 5.7 26.2 1.8 21.8-3.1 21.9 6.6 17.5 0 17.4-4.4 21.9 2.2 13.1-6.6 26.2-4.3 21.9 10.9 26.2-6.6 34.9-13.1 21.9-2.2 34.9 8.8 26.3-10.9 15.3-13.2 19.6 8.8 21.9 0 16.6 8.7M1921.6 333.8l6.5-4.4 7 4.4 -6.1 4.4 -7.4-4.4M1915.9 359.2l5.7-9.7 10-2.6 8.7 7 .9 9.6 -6.5 7.9 -11 0 -6.5-4.4 -1.3-7.8M1915.9 475l10-5.7 17.5 4.3 -4.4 10.1 -10 3.1 -9.6-4.4 -3.5-7.4M1818.9 473.6l5.2-2.6 5.3 3.1 -5.3 3 -5.2-3.5M1507.3 535l2.6-2.2 2.2 6.5 -2.2 6.6 -2.6-2.2 0-8.7M1956.5 624.5l15.3-3 10.9 4.3 -8.7 5.3 -4.4 5.2 -13.1-11.8" fill="none" stroke="#0c0c14" stroke-width="1.9" stroke-linejoin="round" stroke-opacity="0.9"/></g>
<text transform="translate(1921.0 395.0) rotate(60)" font-size="33.5" text-anchor="middle" fill="#15151c" fill-opacity="0.5" stroke="none" font-family="'Liberation Sans','DejaVu Sans',sans-serif" y="12.1">25</text>
<text transform="translate(1519.5 352.6) rotate(-15)" font-size="33.5" text-anchor="middle" fill="#15151c" fill-opacity="0.88" stroke="none" font-family="'Liberation Sans','DejaVu Sans',sans-serif" y="12.1">25.05</text>
<text transform="translate(1925.9 416.0) rotate(65)" font-size="33.5" text-anchor="middle" fill="#15151c" fill-opacity="0.88" stroke="none" font-family="'Liberation Sans','DejaVu Sans',sans-serif" y="12.1">25.35</text>
<text transform="translate(2028.6 267.4) rotate(-75)" font-size="33.5" text-anchor="middle" fill="#15151c" fill-opacity="0.88" stroke="none" font-family="'Liberation Sans','DejaVu Sans',sans-serif" y="12.1">25.35</text>
<text transform="translate(1541.4 565.5) rotate(-15)" font-size="33.5" text-anchor="middle" fill="#15151c" fill-opacity="0.88" stroke="none" font-family="'Liberation Sans','DejaVu Sans',sans-serif" y="12.1">25.35</text>
<text transform="translate(1521.7 622.4) rotate(0)" font-size="33.5" text-anchor="middle" fill="#15151c" fill-opacity="0.88" stroke="none" font-family="'Liberation Sans','DejaVu Sans',sans-serif" y="12.1">25.65</text>
<g class="t">
<text x="1379.6" y="194.6" font-size="48.5" text-anchor="end" fill="#262626" font-family="'Liberation Serif','DejaVu Serif',serif">0</text>
<text x="1379.6" y="301.9" font-size="48.5" text-anchor="end" fill="#262626" font-family="'Liberation Serif','DejaVu Serif',serif">20</text>
<text x="1379.6" y="409.3" font-size="48.5" text-anchor="end" fill="#262626" font-family="'Liberation Serif','DejaVu Serif',serif">40</text>
<text x="1379.6" y="516.6" font-size="48.5" text-anchor="end" fill="#262626" font-family="'Liberation Serif','DejaVu Serif',serif">60</text>
<text x="1379.6" y="623.9" font-size="48.5" text-anchor="end" fill="#262626" font-family="'Liberation Serif','DejaVu Serif',serif">80</text>
<text x="1379.6" y="731.3" font-size="48.5" text-anchor="end" fill="#262626" font-family="'Liberation Serif','DejaVu Serif',serif">100</text>
<text x="1379.6" y="838.6" font-size="48.5" text-anchor="end" fill="#262626" font-family="'Liberation Serif','DejaVu Serif',serif">120</text>
<text x="1525.9" y="883.6" font-size="48.5" text-anchor="middle" fill="#262626" font-family="'Liberation Serif','DejaVu Serif',serif">-88.4</text>
<text x="1713.9" y="883.6" font-size="48.5" text-anchor="middle" fill="#262626" font-family="'Liberation Serif','DejaVu Serif',serif">-88.35</text>
<text x="1901.8" y="883.6" font-size="48.5" text-anchor="middle" fill="#262626" font-family="'Liberation Serif','DejaVu Serif',serif">-88.3</text>
<text x="2089.8" y="883.6" font-size="48.5" text-anchor="middle" fill="#262626" font-family="'Liberation Serif','DejaVu Serif',serif">-88.25</text>
<rect x="2184.6" y="178" width="49" height="646" fill="url(#jet)" stroke="#262626" stroke-width="1.6"/>
<text x="2247.1" y="807.2" font-size="45" text-anchor="start" fill="#262626" font-family="'Liberation Serif','DejaVu Serif',serif">25</text>
<text x="2247.1" y="722.7" font-size="45" text-anchor="start" fill="#262626" font-family="'Liberation Serif','DejaVu Serif',serif">25.2</text>
<text x="2247.1" y="638.3" font-size="45" text-anchor="start" fill="#262626" font-family="'Liberation Serif','DejaVu Serif',serif">25.4</text>
<text x="2247.1" y="553.8" font-size="45" text-anchor="start" fill="#262626" font-family="'Liberation Serif','DejaVu Serif',serif">25.6</text>
<text x="2247.1" y="469.4" font-size="45" text-anchor="start" fill="#262626" font-family="'Liberation Serif','DejaVu Serif',serif">25.8</text>
<text x="2247.1" y="385" font-size="45" text-anchor="start" fill="#262626" font-family="'Liberation Serif','DejaVu Serif',serif">26</text>
<text x="2247.1" y="300.5" font-size="45" text-anchor="start" fill="#262626" font-family="'Liberation Serif','DejaVu Serif',serif">26.2</text>
<text x="2247.1" y="216.1" font-size="45" text-anchor="start" fill="#262626" font-family="'Liberation Serif','DejaVu Serif',serif">26.4</text>
<path d="M2233.6 793.2h-6M2233.6 708.7h-6M2233.6 624.3h-6M2233.6 539.8h-6M2233.6 455.4h-6M2233.6 371h-6M2233.6 286.5h-6M2233.6 202.1h-6" stroke="#262626" stroke-width="1.3" fill="none"/>
<text transform="translate(2386.7 497) rotate(-90)" font-size="44" text-anchor="middle" fill="#262626" font-family="'Liberation Serif','DejaVu Serif',serif">Kg m<tspan dy="-22" font-size="32.5">-3</tspan></text>
<text x="1325" y="103" font-size="50" text-anchor="start" fill="#000" font-family="'Liberation Serif','DejaVu Serif',serif">(b)</text>
<text x="1780.6" y="150.6" font-size="53.5" text-anchor="middle" font-weight="bold" fill="#000" font-family="'Liberation Serif','DejaVu Serif',serif" class="b">29-Jan-2016 09:23 - 29-Jan-2016 11:23</text>
</g>
<g fill="#25d825" stroke="#0b5a0b" stroke-width="2.4"><circle cx="1877.1" cy="178.8" r="5.6"/><circle cx="1887.6" cy="178.8" r="5.6"/><circle cx="1899" cy="178.8" r="5.6"/><circle cx="1913.3" cy="178.8" r="5.6"/><circle cx="1937.1" cy="178.8" r="5.6"/><circle cx="1952.4" cy="178.8" r="5.6"/><circle cx="1970.5" cy="178.8" r="5.6"/><circle cx="1983.8" cy="178.8" r="5.6"/><circle cx="1992.4" cy="178.8" r="5.6"/><circle cx="2000" cy="178.8" r="5.6"/><circle cx="2007.6" cy="178.8" r="5.6"/><circle cx="2019" cy="178.8" r="5.6"/><circle cx="2030.5" cy="178.8" r="5.6"/></g>
</g>
<g id="panel-c">
<rect x="197.4" y="1078.9" width="770.4" height="644" fill="#fff" stroke="#262626" stroke-width="2"/>
<path d="M197.4 1186.2h7.5M967.8 1186.2h-7.5M197.4 1293.6h7.5M967.8 1293.6h-7.5M197.4 1400.9h7.5M967.8 1400.9h-7.5M197.4 1508.2h7.5M967.8 1508.2h-7.5M197.4 1615.6h7.5M967.8 1615.6h-7.5M328.5 1722.9v-7.5M328.5 1078.9v7.5M517.4 1722.9v-7.5M517.4 1078.9v7.5M706.3 1722.9v-7.5M706.3 1078.9v7.5M895.3 1722.9v-7.5M895.3 1078.9v7.5" stroke="#262626" stroke-width="1.6" fill="none"/>
<g clip-path="url(#cc0)"><g filter="url(#sm)">
<rect x="370" y="1072" width="334" height="674" fill="#00009a"/>
<path fill="#0000b1" d="M432 1088l1-3 259 0 0 650 -310 0 0-612 12 12 7 5 11 2 5 0 6-2 4-5 1-5 2-30 2-12z"/>
<path fill="#0000c7" d="M457 1086l0-1 235 0 0 650 -310 0 0-597 15 8 20 3 10-2 18-7 5-5 1-5 -1-15 1-10 6-19z"/>
<path fill="#0000dd" d="M482 1089l3-4 207 0 0 650 -310 0 0-589 15 5 25 1 36-7 16-5 8-5 0-5 -7-10 -3-10 2-10 8-11z"/>
<path fill="#0000f4" d="M537 1086l0-1 155 0 0 650 -310 0 0-584 15 4 25 0 25-4 35-4 11-2 11-5 7-5 3-5 5-20 13-16 5-8z"/>
<path fill="#000dff" d="M572 1085l120 0 0 650 -310 0 0-580 15 3 25 0 30-5 30-1 10-2 15-4 10-2 40-2 5-2 3-5 2-5 1-30 2-15 2 0z"/>
<path fill="#0026ff" d="M597 1085l95 0 0 650 -310 0 0-576 10 1 15 0 15 0 25-4 35 0 25-6 10 0 10 2 8 3 23 20 9 3 5-1 5-2 7-5 5-5 5-10 1-15 -4-40 2-15 4 0z"/>
<path fill="#0040ff" d="M612 1085l80 0 0 650 -310 0 0-573 15 1 20-1 35-4 30 2 5-1 15-6 10-1 10 3 8 5 17 18 10 8 10 3 17-4 23-9 3-6 2-35 -3-35 1-15 2 0z"/>
<path fill="#0059ff" d="M627 1085l65 0 0 650 -310 0 0-569 20 0 45-5 35 2 10-3 10-4 10-1 5 1 6 4 6 5 18 21 10 8 5 2 10 0 22-6 18-7 3-3 3-5 6-35 -1-40 2-15 2 0z"/>
<path fill="#0073ff" d="M642 1085l50 0 0 650 -310 0 0-566 20 0 45-6 35 3 10-3 10-5 10 0 6 2 6 5 18 22 15 13 5 2 5 0 30-6 20-10 5-6 3-5 9-25 2-10 1-10 -2-20 0-10 5-15 2 0z"/>
<path fill="#008cff" d="M662 1088l1-3 29 0 0 650 -310 0 0-562 20-1 45-6 25 2 10 0 10-2 10-5 5-1 5 0 5 2 5 5 20 24 15 14 5 2 5 1 30-7 25-11 6-5 3-5 12-25 5-15 2-10 0-20 0-5 1-5 11-12z"/>
<path fill="#00a6ff" d="M687 1085l5 0 0 650 -310 0 0-559 20-1 45-6 20 2 15 0 10-3 10-5 5-1 5 0 5 3 30 35 10 9 5 3 5 0 10-1 24-6 21-6 20 1 5-5 4-25 7-25 7-15 13-15 3-10 5-20 1 0z"/>
<path fill="#00bfff" d="M692 1111l0 624 -310 0 0-555 30-2 35-5 20 1 15-1 10-2 10-6 5-1 5 1 5 3 30 36 10 9 5 3 10 0 45-10 10 1 10 3 9 0 6-5 5-10 4-30 6-20 6-10 19-24z"/>
<path fill="#00d9ff" d="M687 1130l5-5 0 610 -310 0 0-552 35 0 30-5 35-2 10-3 10-5 5-2 5 2 5 3 30 37 10 9 5 3 10 1 40-10 10 1 10 3 10 1 5-1 5-3 5-7 5-13 9-37 6-13 10-12z"/>
<path fill="#00f2ff" d="M692 1136l0 599 -310 0 0-548 40 2 30-7 35-5 20-8 5 1 5 5 35 42 10 7 5 2 5 0 30-8 10-2 10 1 10 3 10 0 10-4 5-6 9-20 11-35 6-10 9-9z"/>
<path fill="#0dfff2" d="M687 1150l5-5 0 590 -310 0 0-545 15 0 20 4 10-1 30-8 30-6 20-7 5 1 5 5 35 44 10 8 5 1 5 1 30-10 10-2 20 4 5 0 13-4 7-6 10-19 15-37 5-8z"/>
<path fill="#26ffd9" d="M692 1154l0 581 -310 0 0-542 15 0 20 5 10 0 35-11 25-5 15-6 5-1 5 1 10 10 35 47 5 4 5 2 5 0 35-13 10 0 10 1 10 0 15-6 5-4 5-7 20-41 5-9 5-6z"/>
<path fill="#40ffbf" d="M692 1163l0 572 -310 0 0-539 15 0 20 5 10 0 35-11 25-6 15-6 5 0 5 2 5 4 9 11 31 46 5 4 5 2 5 1 5-2 20-10 10-3 10-2 15-1 10-2 10-5 5-4 5-6 15-29 10-16 5-5z"/>
<path fill="#59ffa6" d="M687 1175l5-5 0 565 -310 0 0-536 15 0 20 6 10 0 35-13 45-11 5 2 5 4 11 13 29 51 5 5 5 2 5 0 10-4 25-15 10-3 20-5 15-6 5-4 5-6 15-27 10-13z"/>
<path fill="#73ff8c" d="M687 1180l5-5 0 560 -310 0 0-532 10-1 5 0 20 6 10 0 40-15 35-9 5 0 5 2 5 5 10 12 7 12 13 29 10 18 5 6 5 2 5-1 5-3 35-23 30-11 15-9 7-8 13-23 10-12z"/>
<path fill="#8cff73" d="M692 1180l0 555 -310 0 0-527 10-3 5 1 20 6 10 0 43-17 32-7 5 0 5 2 5 4 9 11 7 15 19 44 5 9 5 5 5 1 10-5 35-26 35-17 10-6 5-5 19-30 6-7 5-3z"/>
<path fill="#a6ff59" d="M692 1183l0 552 -310 0 0-521 10-4 5 0 20 6 10 0 45-19 25-6 10 0 5 3 5 4 8 12 22 52 9 18 6 5 5 0 11-5 39-30 40-23 7-7 18-29 10-8z"/>
<path fill="#bfff40" d="M687 1189l5-3 0 549 -310 0 0-513 10-4 5-1 20 3 10 0 31-15 14-6 20-4 10-1 5 1 5 3 5 4 5 8 30 71 5 6 5 3 5 0 5-2 10-5 20-15 21-18 34-21 8-9 16-25 6-6z"/>
<path fill="#d9ff26" d="M692 1189l0 546 -310 0 0-500 10-7 7-3 8 0 10 1 10-1 30-17 20-8 15-2 10 0 5 1 8 6 7 10 24 60 6 12 5 5 5 2 5 0 11-4 23-15 28-25 28-19 10-11 15-24 5-4 5-3z"/>
<path fill="#f2ff0d" d="M687 1194l5-2 0 543 -310 0 0-475 6-5 9-15 6-5 4-1 15-1 5-1 24-17 21-11 15-3 15 1 5 1 5 4 6 8 5 10 22 55 5 10 7 7 5 2 5 0 15-7 25-16 21-21 29-22 8-8 17-26 5-5z"/>
<path fill="#fff200" d="M692 1195l0 540 -310 0 0-450 15-5 15-10 4-5 3-10 3-5 10-10 7-10 11-10 16-10 11-5 15-2 8 2 7 3 7 7 8 15 20 50 5 11 5 7 5 4 5 2 5-1 15-7 30-19 20-22 30-25 20-28 5-5 5-2z"/>
<path fill="#ffd900" d="M692 1198l0 537 -310 0 0-435 10-3 10-5 25-17 5-6 9-29 6-10 10-10 7-5 13-6 10-2 5 0 9 3 6 4 5 5 5 9 21 52 8 15 6 8 5 4 5 2 5-1 10-5 38-23 22-25 25-22 20-28 5-5 5-2z"/>
<path fill="#ffbf00" d="M687 1203l5-2 0 534 -310 0 0-422 15-6 15-9 22-18 5-5 2-5 7-30 4-8 6-7 6-5 13-8 10-2 5 1 8 4 7 6 10 16 18 43 8 15 9 13 5 4 5 1 5-1 10-5 40-25 24-27 22-20 19-27 5-5z"/>
<path fill="#ffa600" d="M692 1204l0 531 -310 0 0-407 10-4 30-20 24-24 4-10 2-20 5-14 9-11 11-8 10-2 5 1 6 4 5 5 14 20 17 40 5 10 13 18 5 4 5 1 5-1 10-5 42-27 27-30 20-20 16-23 5-5 5-3z"/>
<path fill="#ff8c00" d="M692 1208l0 89 -1 3 1 7 0 428 -310 0 0-391 10-3 10-5 13-11 17-8 10-9 13-18 4-10 1-10 -2-15 2-10 7-12 10-9 5-2 5-1 5 2 15 16 10 14 13 32 17 28 5 6 5 3 5 1 5-1 10-5 45-30 25-29 20-20 15-22 5-5 5-3z"/>
<path fill="#ff7300" d="M692 1213l0 55 -5 2 -2 5 -5 25 4 15 1 20 2 5 5 0 0 395 -310 0 0-375 15-3 25 0 10-1 15-6 5-5 5-16 4-24 8-25 1-10 -4-15 1-5 5-9 5-6 5-4 5 0 5 3 18 16 6 10 13 30 10 15 11 20 2 3 5 2 5-1 10-4 50-34 25-27 20-19 15-24 5-6 5-2zM529 1355l-3 5 0 5 5 10 9 10 2 5 0 5 -6 15 -15 15 -2 5 1 5 7 3 10 1 10-1 5-3 5-7 3-8 0-10 -4-20 0-15 -4-9 -10-11 -5-3 -5 0 -3 3z"/>
<path fill="#ff5900" d="M692 1219l0 26 -5-1 -5-4 -1-5 2-5 3-5 6-6zM487 1244l10 2 5 3 5 6 18 35 13 20 3 10 0 5 -3 5 -16 10 -10 8 -10 6 -15 1 -10-2 -5-3 -4-5 -2-10 2-30 9-30 -1-20 2-5 4-5 5-1zM657 1263l5-1 5 1 5 7 4 10 1 5 -2 15 5 15 0 5 -2 10 -4 10 0 5 3 3 5 2 10 0 0 385 -310 0 0-362 20-6 25 2 35-3 30 1 15 4 10 8 4 6 3 5 2 10 -1 5 -3 5 -20 20 -3 5 0 5 1 5 2 3 5 2 15-4 25-2 5-1 5-5 5-8 5-10 0-4 -3-26 1-20 -6-20 1-5 2-5 5-5 30-23 25-17 25-25 10-7z"/>
<path fill="#ff4000" d="M487 1253l5-1 5 1 7 7 19 35 10 15 2 5 0 5 -3 5 -25 16 -10 5 -10 2 -5-1 -5-3 -3-4 -1-5 2-35 9-25 0-15 1-5 2-2zM647 1275l5-4 5-1 5 1 5 3 4 6 1 5 0 15 4 15 0 5 -2 10 -6 10 -1 5 2 5 3 3 6 2 14 1 0 379 -310 0 0-346 15-10 10-3 20 2 50-3 10 1 10 2 10 6 5 6 3 5 1 5 -1 5 -4 5 -4 4 -15 9 -2 2 -2 5 0 5 2 10 2 5 4 5 6 3 5 0 10-2 17-6 18-1 5-4 3-5 9-15 2-5 -2-30 2-20 -3-20 1-5 2-5 4-5 24-20 23-15 15-16 10-9z"/>
<path fill="#ff2600" d="M497 1267l5 4 10 13 8 16 7 10 2 5 -2 5 -7 5 -23 13 -10 3 -5-2 -2-4 1-35 11-29 5-4zM647 1279l5-3 5 0 5 2 6 7 1 15 5 15 0 5 -2 6 -10 14 -1 5 1 5 5 7 5 2 20 2 0 374 -310 0 0-317 10-4 5-5 10-15 5-3 20-4 35-4 10 0 10 1 11 6 5 5 1 5 -2 5 -15 6 -5 3 -5 6 -2 5 0 10 11 20 6 5 5 2 10 1 15-1 10-2 10-4 10-1 6-5 17-25 1-5 -3-30 4-20 -1-20 1-6 3-4 22-21 25-17 13-17 7-6z"/>
<path fill="#ff0d00" d="M647 1283l5-2 5 1 5 3 2 5 1 10 6 15 0 5 -2 5 -13 15 -3 5 0 5 3 5 6 8 5 2 25 1 0 369 -310 0 0-295 10 0 20-2 13-3 7-3 10-1 10 10 10 17 35 9 20 1 15-2 25-9 5-5 10-17 9-10 1-5 -4-30 5-20 3-20 2-5 19-24 15-9 10-7 3-5 4-10 8-7zM624 1445l4 5 4 1 3-1 -1-5 -2-3 -5-2 -3 5zM497 1286l5 0 5 4 5 9 4 11 0 5 -5 5 -9 5 -10 3 -3-3 0-5 -1-20 4-9 5-5zM447 1404l5-1 5 1 1 1 2 5 -3 8 -5 6 -5 2 -5-1 -2-5 -1-5 1-5 7-6z"/>
<path fill="#f20000" d="M647 1288l5-1 5 3 2 10 8 12 1 3 -1 5 -5 7 -14 13 -3 5 -1 5 4 10 -1 5 -10 5 -7 5 -3 5 1 5 4 3 5 1 10-4 10-7 5-2 15-4 15-1 0 364 -310 0 0-284 45-4 10 0 5 3 5 5 5 15 5 3 20-2 25 1 20-1 15-2 22-9 6-5 7-13 5-6 5-4 10-4 5 1 5 3 8 18 7 7 35 22 5 1 5-5 1-5 -1-5 -20-31 -5-5 -5-1 -20 1 -15-7 -5-4 -5-7 -2-6 -2-10 1-10 4-10 5-20 5-10 9-14 5-6 30-20 1-5 -1-5 3-5 2-2z"/>
<path fill="#d90000" d="M652 1309l5 0 5 4 1 2 -1 5 -22 20 -4 10 -2 10 -3 5 -9 10 -3 5 1 5 2 5 5 4 5 2 5 0 10-3 11-8 9-4 15-3 10-1 0 358 -310 0 0-277 45-5 10 1 5 6 5 15 5 3 5 1 70-4 10-2 25-11 4-2 4-5 5-10 4-5 8-4 5 0 6 4 8 15 6 7 40 24 5 1 5-1 5-6 2-5 -1-10 -4-10 -11-15 -6-11 -5-5 -5-2 -5-1 -15 2 -5-1 -10-5 -5-4 -5-5 -3-8 -1-5 1-5 11-35 11-20 6-6 15-11 10-5 10-4z"/>
<path fill="#c00000" d="M642 1319l5-1 5 2 -3 5 -13 10 -7 15 -3 10 -3 5 -9 10 -1 5 0 5 6 10 3 3 5 3 10 2 10-4 15-10 5-2 15-4 10 0 0 352 -310 0 0-269 20-5 30-2 5 3 2 3 2 10 3 5 8 4 5 1 10 0 60-6 10-2 30-13 5-4 9-15 6-4 5 1 3 3 8 15 9 8 40 24 5 1 5 0 5-3 6-10 1-10 0-5 -4-10 -13-19 -5-12 -5-5 -10-4 -20 2 -5-1 -11-6 -5-5 -2-5 -1-5 1-5 5-10 4-15 4-12 12-18 23-16zM666 1410l-3 5 4 3 5-1 2-2 -2-5 -5-1 -1 1z"/>
<path fill="#a60000" d="M602 1391l5-1 5 7 4 8 -4 3 -7-3 -4-5 -1-5 2-4zM682 1393l5-1 5 0 0 343 -38 0 1-15 -3-4 -31 9 -8 5 -5 5 -80 0 -7-5 -9-3 -25 7 -15 0 -15-5 -15-7 -25-16 -15-12 -20-21 0-196 10-7 5-2 15-2 15-1 5 2 5 14 3 4 7 3 15 4 20-4 20-1 35-5 30-12 8-5 12-15 5 3 7 12 8 6 30 17 15 10 10 2 5-2 5-3 3-5 4-10 1-10 -3-15 -11-20 1-3 2-2 13-5 6-5 3-5 0-5 -3-5 -6-5 -3-5 3-2z"/>
<path fill="#8d0000" d="M692 1450l0 14 -1-9 1-5zM577 1475l10-4 5 1 34 18 26 18 15 2 5-1 5-2 5-6 3-6 7-19 0 147 -20 6 -36 16 -19 7 -25 6 -20 2 -15 0 -85-3 -15-3 -10-4 -10-6 -10-7 -10-11 -5-8 -5-10 -3-13 -1-20 6-40 -3-15 -7-30 0-5 3-5 10-4 5 0 5 2 7 12 3 3 10 4 20 4 20-4 20-1 35-7 35-12 5-2z"/>
</g></g>
<g clip-path="url(#cc1)"><g filter="url(#sm)">
<rect x="678" y="1072" width="314" height="674" fill="#00f2ff"/>
<path fill="#0dfff2" d="M695 1085l285 0 0 650 -290 0 0-574 10 1 6-2 3-10 1-15 0-15 -4-15 -6-8 -10-6 0-6 5 0z"/>
<path fill="#26ffd9" d="M720 1085l260 0 0 650 -290 0 0-564 10 1 9-2 6-5 2-5 2-10 4-40 -1-10 -4-15 2 0z"/>
<path fill="#40ffbf" d="M735 1085l245 0 0 650 -290 0 0-557 10 0 10-2 5-2 5-4 3-5 3-10 2-25 6-25 -2-20 3 0z"/>
<path fill="#59ffa6" d="M745 1085l235 0 0 650 -290 0 0-551 25-3 5-2 4-4 3-5 6-15 3-25 8-20 2-10 -2-15 1 0z"/>
<path fill="#73ff8c" d="M760 1085l220 0 0 650 -290 0 0-545 30-3 5-2 5-5 8-20 6-25 9-15 4-10 0-10 -2-15 5 0z"/>
<path fill="#8cff73" d="M765 1085l215 0 0 650 -290 0 0-536 10-3 5 0 10 2 10 5 5-3 5-6 18-54 8-15 5-10 1-10 -2-20z"/>
<path fill="#a6ff59" d="M775 1085l205 0 0 650 -290 0 0-520 10 0 20 5 5-1 8-4 7-10 5-11 6-24 9-25 10-22 3-8 1-10 -1-20 2 0z"/>
<path fill="#bfff40" d="M785 1085l195 0 0 650 -290 0 0-503 35-6 11-6 9-10 8-15 7-25 17-50 2-10 2-25 4 0z"/>
<path fill="#d9ff26" d="M790 1085l190 0 0 650 -290 0 0-489 25-9 20-10 10-7 8-10 8-15 11-35 12-45 4-30 2 0z"/>
<path fill="#f2ff0d" d="M800 1085l180 0 0 650 -290 0 0-472 10-5 48-33 10-10 10-15 7-15 5-20 5-30 8-40 4-10 3 0z"/>
<path fill="#fff200" d="M815 1086l1-1 164 0 0 650 -290 0 0-449 5-2 5-4 20-20 35-30 28-30 3-5 3-10 3-15 3-35 5-32 5-8 10-9z"/>
<path fill="#ffd900" d="M855 1085l125 0 0 650 -290 0 0-435 10-2 5-3 10-8 10-5 10-1 10 1 5 0 4-2 5-5 2-5 5-20 6-10 8-8 10-7 25-10 10-3 15-2 7-5 3-5 4-15 -2-40 6-35 -3-25z"/>
<path fill="#ffbf00" d="M875 1085l105 0 0 650 -290 0 0-426 10-2 25-11 10-1 20-1 10-2 25-5 20-9 5 0 3 2 2 5 -2 5 -5 10 -2 10 -3 30 2 10 3 5 6 5 11 5 10-1 5-1 5-4 5-7 2-7 1-15 2-15 -1-20 6-20 2-20 4-70 -3-50 5-35 -1-15 3 0z"/>
<path fill="#ffa600" d="M885 1085l95 0 0 650 -290 0 0-415 25-11 20-4 25 0 10 3 4 2 5 5 4 10 0 10 -2 15 1 10 4 10 9 14 10 10 15 6 7 5 3 5 5 15 5 3 5 1 10-1 10-4 2-4 2-5 0-10 -3-35 3-20 0-20 2-15 0-20 4-18 1-22 3-75 -2-50 5-35 0-10 3 0z"/>
<path fill="#ff8c00" d="M890 1085l90 0 0 650 -290 0 0-402 5-2 19-11 21-5 10-1 10 1 5 1 5 4 4 5 1 10 -4 25 1 10 3 9 8 16 10 25 2 15 1 30 1 5 8 15 5 12 5 2 7-4 4-5 10-20 7-10 10-10 22-18 4-7 2-10 -2-45 2-20 2-50 3-20 1-25 2-75 -1-55 7-40z"/>
<path fill="#ff7300" d="M900 1085l80 0 0 650 -290 0 0-387 10-1 5-2 15-10 20-8 10-2 5 3 2 2 1 5 -1 5 -5 15 0 15 3 10 12 20 11 25 2 15 -1 25 1 10 3 5 8 10 8 15 6 3 5 0 8-3 9-5 5-5 12-20 26-29 7-11 3-10 -1-55 7-95 3-90 -1-60 2-15 6-25 4 0z"/>
<path fill="#ff5900" d="M905 1085l75 0 0 650 -290 0 0-377 15 0 20-5 5 1 5 3 2 3 13 27 14 23 7 15 3 15 -1 30 2 12 17 23 8 7 5 2 5-1 20-8 7-5 13-14 21-16 9-15 3-10 2-15 -1-50 3-65 3-25 4-100 -2-65 1-10 3-10 7-20 2 0z"/>
<path fill="#ff4000" d="M910 1090l3-5 67 0 0 650 -290 0 0-370 35-1 5 2 5 4 15 29 11 16 7 15 1 10 -1 35 2 10 5 9 5 7 5 5 12 9 8 3 5-1 15-5 15-7 15-10 25-8 9-7 5-10 2-10 -1-15 -5-30 -1-30 4-70 3-20 -1-15 4-110 -2-50 4-15 4-8 5-7z"/>
<path fill="#ff2600" d="M930 1087l2-2 48 0 0 650 -290 0 0-364 30-2 5 1 5 3 5 7 10 21 14 19 4 10 2 10 -2 35 2 10 8 20 2 4 5 4 20 8 10 0 15-4 30-13 5-1 20 2 10-2 6-3 22-20 3-5 0-5 0-5 -10-20 -11-19 -2-6 -3-20 0-15 3-20 -1-15 7-50 -2-25 2-65 3-35 -3-25 0-30 1-7 5-10 20-16z"/>
<path fill="#ff0d00" d="M970 1087l2-2 8 0 0 650 -290 0 0-357 20-4 10 1 5 2 5 5 11 23 12 15 5 10 2 10 -2 35 2 13 8 27 4 5 3 2 5 1 10-1 15 3 20-2 20-9 10-3 25 4 10 0 10-4 10-9 10-5 15-4 15-6 15 1 6-3 3-5 0-5 -2-10 -7-15 -5-6 -10-9 -35-20 -5-7 -2-13 4-25 0-20 3-10 7-15 2-10 -1-10 -8-30 2-25 -2-20 -1-20 6-30 -1-10 -5-20 1-25 2-5 3-4 20-9 30-20z"/>
<path fill="#f20000" d="M980 1119l0 257 -9-16 -7-15 -3-10 -1-15 0-15 3-15 12-30 2-10 -4-10 -23-25 -5-8 -2-12 -3-35 1-10 2-5 4-5 18-14 15-7zM695 1384l15-2 10 2 5 6 12 20 13 15 3 5 2 10 -2 35 3 20 7 25 3 5 7 5 7 1 15-3 30 1 5-1 15-9 10-2 25 5 15-1 10-5 10-9 10-4 40-4 15-5 0 241 -290 0 0-349 5-2z"/>
<path fill="#d90000" d="M695 1398l5-1 5 0 15 4 5 2 9 12 10 10 3 5 2 10 -1 45 5 25 6 15 6 7 5 3 10 2 15-5 5 0 10 0 15 3 5-1 15-9 10-3 25 5 15 0 10-4 10-9 10-5 35-3 20-4 0 233 -290 0 0-334 5-3z"/>
<path fill="#c00000" d="M705 1407l5-2 5 0 5 2 21 23 3 10 -3 40 1 10 3 10 3 15 5 10 8 10 9 6 10 1 20-6 10 0 15 4 5 0 5-3 10-7 5-2 5 0 20 4 10 1 10-1 10-3 15-12 5-2 10-2 20-1 25-3 0 226 -290 0 0-227 20-1 5-2 2-5 -2-7 -10-8 -4-5 -2-5 0-5 3-10 13-13 4-7 0-5 -2-5 -12-7 -3-3 -2-5 2-5 3-3z"/>
<path fill="#a60000" d="M735 1438l0 6 -3-4 3-2zM730 1451l4 14 -1 5 -3 4 -5-2 -2-7 2-6 4-4 1-4zM735 1505l6 15 14 18 10 7 10 3 10-1 15-6 5 0 15 4 5 1 5 0 5-2 13-9 7-2 20 5 10 0 10 0 10-3 5-3 10-8 5-4 5-1 25 0 15-3 10 0 0 219 -34 0 -1-6 -4-4 -6-1 -15 0 -25 3 -15 1 -25-3 -25 0 -15-2 -60-18 -15-9 -20-16 -10-10 -15-20 -5-3 0-106 31-21 6-5 8-10z"/>
<path fill="#8d0000" d="M925 1529l10-3 20 1 15-1 10 1 0 134 -40-10 -20-3 -15 2 -35 6 -20 2 -20 0 -40-4 -30 4 -10-1 -10-5 -5-5 -11-17 -15-15 -7-10 -1-5 -1-10 5-16 8-14 8-10 9-8 5-2 5 0 20 12 15 4 10-2 15-5 5-1 20 5 10-2 15-9 5-2 25 6 25-2 10-6 10-9z"/>
</g></g>
<g clip-path="url(#ccA)"><path d="M392.8 1145.5l30.9 6.8 6.7-11.8 6.7-40.3M392.8 1154.6l30.9 2 40.3-4.3 33.6-5.1 5.1-16.8 1.7-30.2M392.8 1172.4l54.4-10 20.2 6.7 26.9 0 15.1-10.1 11.8 10.1 16.8 21.8 20.2 20.2 23.5-5 20.1-3.4M648.4 1145.3l3.9-11.5 -5.1-33.6M392.8 1192.6l30.9 5 40.3-13.4 26.9-5 16.8-13.5 10.1 11.8 37 47 8.4 8.4 18.5-5 26.9-8.4 13.4 1.7 5.4 2.7M647.2 1224.5l11.8-3.3 10.1-23.6 15.1-43.7M392.8 1201l30.9 13.5 40.3-16.9 47.1-11.7 13.4 15.1 20.2 53.8 10.1 23.5 8.4 6.7 11.8-5 6.7-6.7 7.2-5.4M651.3 1228.7l7.7-4.2 25.2-36.9M393.4 1289.4l22.5-12.6 12.5-5.4 -2.7-16.1 11.7-10.8 1.8-14.3 16.1-14.3 19.7-10.8 10.8-3.6 12.5 3.6 14.4 7.2 7.1 10.7 3.6 10.8 14.4 35.8 8.9 25.1 9.9 14.4 9.8-3.6 32.6-18.4M615.9 1277.9l4.3-10.1 10.3-10.2M655.4 1235.6l4.3-3.6 14.3-19.7 9-16.2M393.4 1362.9l31.4 3.5 26.9-7.1 39.4 3.6 5.4-5.4 -16.1-1.8 -12.6-3.6 -7.1-10.8 5.4-12.5 -1.8-12.6 12.5-43 -3.6-12.5 -8.9-7.2 16.1-14.3 5.4-12.6 1.8 10.8 8.9 7.1 12.6 5.4 7.1 12.6 3.6 14.3 7.2 14.3 10.8 10.8 7.1 14.3 5.4 12.6 -23.3 9 -10.8 14.3 3.6 17.9 9 12.6 10.8 8.9 -7.2 10.8 1.8 9 -18 10.7 -8.9 9 -1.2 7.7 1.6 8.4 -3.3 8.4 10.1 5 20.1 0 20.2-5 -1.7-11.8 10.1-10.1 5-10.1 -3.3-13.4 3.3 11.9 -3.6-26.9 -1.7-28.7 -12.6-7.1 -5.4-18 12.6-3.5 7.4-5.4M624.8 1289.4l11.6-9 12.5-17.9 17.9-19.8 16.2-28.6M392.8 1455.5l20.8-2.4 26.9-1 5 8.4 -1.6 11.8 6.7 5 30.2-1.7 53.8-5 13.5-6.7 20.1-6.8 6.8-16.8 10-8.4 13.5 1.7 10.1 25.2 13.4 6.7 13.5 8.4 13.4 6.8 10.1 8.4 6.7-8.4 1.7-16.8 -8.4-13.5 -10.1-13.4 -6.7-13.5 -16.8-1.7 -13.5 5.1 -13.4-10.1 -10.1-10.1 -2.2-17 8.9-21.5 5.4-17.9 12.6-21.5 43-23.3 1.8-14.4 1.8 32.3 -14.4 9 -8.9 17.9 -5.4 17.9 -12.6 9 3.6 10.8 9 7.1 17.9-3.6 10.8-10.7 23.3-5.4M683 1249.9l-12.6 9 5.4 19.7 -1.8 26.9 3.6 17.9 -5.4 14.4 1.8 8.9 9 3.6M712.8 1100.2l2.7 20.1 -1 26.9 -3.4 18.5 -11.1 5.1M769.9 1100.2l1.7 13.4 -8.4 16.8 -10.1 10.1 -1.7 13.4 -8.4 13.5 -1.7 23.5 -8.4 20.2 -6.7 8.4 -6.7-8.4 -6.7-15.1 -12.8-3.4M798.5 1100.2l0 47 -3.4 33.6 -3.3 20.2 -21.9 13.5 -10.1 13.4 -12.6 12.6 -4.2 4.2 -16.8 13.5 -13.4 13.4 -6.7 10.1 -6.1 13.4M894.3 1100.2l-5.1 20.1 1.7 60.5 -.4 11.9M888 1266.6l-.4 11.7 -3.4 37 -3.4 67.2 2.4 44.4 -5.7 10.1 -1.7 10.1 -8.4 6.7 -3.4 10.1 -13.4 10 -13.5 16.9 -3.3 13.4 -16.8 6.7 -13.5 6.7 -6.7-6.7 -6.7-20.1 -11.8-6.8 -5-10.1 3.3-23.5 -1.6-23.5 -8.4-13.5 -6.8-13.4 3.4-4 -10.1-6.8 -6.7-13.4 -1.7-16.8 5-13.5 6.8-10 -1.7-8.4 -6.7 0 -5.1 10 -16.8 1.7 -26.2 18.5M700 1382.5l22.9-3.3 5 20.8 5 13.4 13.5 10.1 5 16.8 -1.7 26.9 3.4 33.6 6.7 23.6 10.1 10.1 13.5 1.6 13.4-8.4 16.8 1.7 13.5 6.7 13.4-11.7 13.4-5.1 13.5 5.1 23.5 1.7 16.8-5.1 6.8-10.1 20.1-5 35.3-3.4M448.2 1442l2.4-5 5-1 4.4 4.3 -2 6.1 -5.7 1.3 -4.1-5.7M948.1 1474.6l2.3-2.7 2.7 2.7 -2.7 3 -2.3-3" fill="none" stroke="#0c0c14" stroke-width="1.9" stroke-linejoin="round" stroke-opacity="0.9"/></g>
<text transform="translate(629.4 1175.8) rotate(-55)" font-size="33.5" text-anchor="middle" fill="#15151c" fill-opacity="0.88" stroke="none" font-family="'Liberation Sans','DejaVu Sans',sans-serif" y="12.1">35.4</text>
<text transform="translate(619.3 1248.1) rotate(-35)" font-size="33.5" text-anchor="middle" fill="#15151c" fill-opacity="0.88" stroke="none" font-family="'Liberation Sans','DejaVu Sans',sans-serif" y="12.1">35.8</text>
<text transform="translate(593.8 1309.2) rotate(-38)" font-size="33.5" text-anchor="middle" fill="#15151c" fill-opacity="0.88" stroke="none" font-family="'Liberation Sans','DejaVu Sans',sans-serif" y="12.1">36.2</text>
<text transform="translate(887.6 1229.6) rotate(-90)" font-size="33.5" text-anchor="middle" fill="#15151c" fill-opacity="0.88" stroke="none" font-family="'Liberation Sans','DejaVu Sans',sans-serif" y="12.1">36.2</text>
<g class="t">
<text x="180.6" y="1094.4" font-size="48.5" text-anchor="end" fill="#262626" font-family="'Liberation Serif','DejaVu Serif',serif">0</text>
<text x="180.6" y="1201.7" font-size="48.5" text-anchor="end" fill="#262626" font-family="'Liberation Serif','DejaVu Serif',serif">20</text>
<text x="180.6" y="1309.1" font-size="48.5" text-anchor="end" fill="#262626" font-family="'Liberation Serif','DejaVu Serif',serif">40</text>
<text x="180.6" y="1416.4" font-size="48.5" text-anchor="end" fill="#262626" font-family="'Liberation Serif','DejaVu Serif',serif">60</text>
<text x="180.6" y="1523.7" font-size="48.5" text-anchor="end" fill="#262626" font-family="'Liberation Serif','DejaVu Serif',serif">80</text>
<text x="180.6" y="1631.1" font-size="48.5" text-anchor="end" fill="#262626" font-family="'Liberation Serif','DejaVu Serif',serif">100</text>
<text x="180.6" y="1738.4" font-size="48.5" text-anchor="end" fill="#262626" font-family="'Liberation Serif','DejaVu Serif',serif">120</text>
<text x="327" y="1783.4" font-size="48.5" text-anchor="middle" fill="#262626" font-family="'Liberation Serif','DejaVu Serif',serif">-88.4</text>
<text x="515.9" y="1783.4" font-size="48.5" text-anchor="middle" fill="#262626" font-family="'Liberation Serif','DejaVu Serif',serif">-88.35</text>
<text x="704.8" y="1783.4" font-size="48.5" text-anchor="middle" fill="#262626" font-family="'Liberation Serif','DejaVu Serif',serif">-88.3</text>
<text x="893.8" y="1783.4" font-size="48.5" text-anchor="middle" fill="#262626" font-family="'Liberation Serif','DejaVu Serif',serif">-88.25</text>
<rect x="984" y="1075.3" width="50.4" height="652" fill="url(#jet)" stroke="#262626" stroke-width="1.6"/>
<text x="1047.9" y="1744.8" font-size="45" text-anchor="start" fill="#262626" font-family="'Liberation Serif','DejaVu Serif',serif">35</text>
<text x="1047.9" y="1538.5" font-size="45" text-anchor="start" fill="#262626" font-family="'Liberation Serif','DejaVu Serif',serif">35.5</text>
<text x="1047.9" y="1332.1" font-size="45" text-anchor="start" fill="#262626" font-family="'Liberation Serif','DejaVu Serif',serif">36</text>
<text x="1047.9" y="1125.8" font-size="45" text-anchor="start" fill="#262626" font-family="'Liberation Serif','DejaVu Serif',serif">36.5</text>
<path d="M1034.4 1727.3h-6M1034.4 1521h-6M1034.4 1314.6h-6M1034.4 1108.3h-6" stroke="#262626" stroke-width="1.3" fill="none"/>
<text transform="translate(1176.1 1402.1) rotate(-90)" font-size="44" text-anchor="middle" fill="#262626" font-family="'Liberation Serif','DejaVu Serif',serif">PSU</text>
<text transform="translate(88.7 1402.5) rotate(-90)" font-size="53.7" text-anchor="middle" fill="#262626" font-family="'Liberation Serif','DejaVu Serif',serif">Depth (m)</text>
<text x="124.2" y="1003" font-size="50" text-anchor="start" fill="#000" font-family="'Liberation Serif','DejaVu Serif',serif">(c)</text>
</g>
<g fill="#25d825" stroke="#0b5a0b" stroke-width="2.4"><circle cx="707.5" cy="1078.6" r="5.6"/><circle cx="718.3" cy="1078.6" r="5.6"/><circle cx="726.3" cy="1078.6" r="5.6"/><circle cx="742.8" cy="1078.6" r="5.6"/><circle cx="755" cy="1078.6" r="5.6"/><circle cx="773.8" cy="1078.6" r="5.6"/><circle cx="787.3" cy="1078.6" r="5.6"/><circle cx="805.2" cy="1078.6" r="5.6"/><circle cx="819.6" cy="1078.6" r="5.6"/><circle cx="830.3" cy="1078.6" r="5.6"/><circle cx="836.5" cy="1078.6" r="5.6"/><circle cx="842.9" cy="1078.6" r="5.6"/><circle cx="858.1" cy="1078.6" r="5.6"/></g>
</g>
<g id="panel-d">
<rect x="1396.4" y="1078.9" width="770.4" height="644" fill="#fff" stroke="#262626" stroke-width="2"/>
<path d="M1396.4 1186.2h7.5M2166.8 1186.2h-7.5M1396.4 1293.6h7.5M2166.8 1293.6h-7.5M1396.4 1400.9h7.5M2166.8 1400.9h-7.5M1396.4 1508.2h7.5M2166.8 1508.2h-7.5M1396.4 1615.6h7.5M2166.8 1615.6h-7.5M1527.4 1722.9v-7.5M1527.4 1078.9v7.5M1715.4 1722.9v-7.5M1715.4 1078.9v7.5M1903.3 1722.9v-7.5M1903.3 1078.9v7.5M2091.3 1722.9v-7.5M2091.3 1078.9v7.5" stroke="#262626" stroke-width="1.6" fill="none"/>
<g clip-path="url(#cd0)"><g filter="url(#sm)">
<rect x="1384" y="1072" width="809" height="674" fill="#00009a"/>
<path fill="#0000b1" d="M1511 1085l670 0 0 650 -785 0 0-618 6 13 8 35 5 10 6 5 5 2 10 2 5-1 9-3 9-5 14-10 11-10 2-5 -1-15 1-3 10-14 15-33z"/>
<path fill="#0000c7" d="M1546 1085l635 0 0 650 -785 0 0-576 15 21 9 5 16 3 5-1 10-2 25-12 33-13 8-5 5-5 2-5 1-5 -2-15 2-10 18-30 3 0z"/>
<path fill="#0000dd" d="M1576 1085l605 0 0 650 -785 0 0-563 15 13 15 4 15 2 10-2 30-11 26-8 26-10 7-5 2-5 3-20 4-10 19-25 6-10 2 0z"/>
<path fill="#0000f4" d="M1601 1089l2-4 578 0 0 650 -785 0 0-556 9 6 12 5 19 2 10 0 60-17 20-7 20-3 5-5 10-20 13-15 27-36z"/>
<path fill="#000dff" d="M1641 1085l540 0 0 650 -785 0 0-552 15 7 25 4 10 0 55-13 25-9 20 0 5-2 15-17 10-6 30-2 5-2 5-3 3-10 1-20 3-5 13-15 2-5 3 0z"/>
<path fill="#0026ff" d="M1666 1085l515 0 0 650 -785 0 0-548 7 3 13 3 15 2 15 1 30-6 20-5 30-10 10 0 10 1 5 0 5-4 10-11 5-3 10-3 15 0 15-3 7-2 7-5 28-30 8-15 5-15z"/>
<path fill="#0040ff" d="M1686 1086l0-1 495 0 0 650 -785 0 0-546 15 5 25 3 10 0 19-2 31-7 30-10 10 0 10 2 5 0 5-3 10-10 10-6 25-2 19-4 9-5 17-13 15-6 5-4 8-12 9-20 3-9z"/>
<path fill="#0059ff" d="M1706 1085l475 0 0 650 -785 0 0-543 13 3 32 4 35-4 23-5 27-10 5 0 20 3 5-2 15-13 5-2 25-3 20-4 9-4 11-7 10-5 20-4 7-4 4-5 12-20 7-15 4-10 1 0z"/>
<path fill="#0073ff" d="M1726 1085l455 0 0 650 -785 0 0-541 15 2 35 4 42-5 18-5 20-8 10 1 15 3 5-1 15-13 5-2 25-3 20-4 8-3 17-10 10-3 20 1 5-1 10-7 13-15 20-40 2 0z"/>
<path fill="#008cff" d="M1746 1088l1-3 434 0 0 650 -785 0 0-540 45 6 40-3 20-4 25-9 10 0 15 4 5-1 15-11 5-2 20-3 25-6 10-3 20-10 10-1 20 7 5 0 7-4 26-20 6-10 6-16 15-21z"/>
<path fill="#00a6ff" d="M1776 1085l405 0 0 650 -785 0 0-538 50 5 35-2 10-2 13-3 22-8 10 1 15 4 5 0 20-13 20-3 25-7 25-10 10-2 10 1 15 8 5 1 10-2 12-5 28-18 17-7 6-5 4-5 6-15 3-10 2-15 2 0z"/>
<path fill="#00bfff" d="M1796 1085l385 0 0 650 -785 0 0-536 45 4 40-1 15-2 25-9 10-2 5 1 15 5 5 0 5-1 15-10 25-5 25-8 20-8 10-3 10 2 15 8 5 1 10 0 10-1 13-5 17-11 15-7 15-4 15-2 2-1 3-3 11-22 0-10 -3-20 2 0z"/>
<path fill="#00d9ff" d="M1811 1085l370 0 0 650 -785 0 0-535 45 4 45-1 15-3 20-7 10-1 10 2 10 5 5 0 5-1 15-9 25-6 45-17 10-2 10 2 20 9 15 1 15-2 40-21 10-2 20 3 8-4 12-15 5-10 2-10 0-5 -5-25 3 0z"/>
<path fill="#00f2ff" d="M1821 1085l360 0 0 650 -785 0 0-533 15 0 30 3 25-1 20 1 10-1 25-8 10-1 10 3 10 5 5 1 5-2 15-8 25-6 40-18 10-3 10 0 25 11 10 1 15 0 10-1 5-2 25-14 10-3 10 0 10 4 5 0 5-2 16-11 7-5 3-5 5-20 0-15 -3-20 2 0z"/>
<path fill="#0dfff2" d="M1831 1085l350 0 0 650 -785 0 0-532 15 0 30 3 25-1 25 2 10-2 20-5 10-1 5 1 15 8 5 0 10-3 10-6 25-6 36-18 14-5 5 0 10 2 20 8 30 3 10-2 25-13 10-3 5 0 5 2 10 7 5 0 15-12 18-12 3-5 7-30 -1-30 3 0z"/>
<path fill="#26ffd9" d="M1836 1085l345 0 0 650 -785 0 0-530 15-1 30 3 25-1 25 3 10-1 15-4 10-1 10 2 10 6 10 1 9-2 16-7 20-4 40-23 10-3 5-1 10 2 20 9 35 3 8-1 22-12 10-2 5 1 5 3 10 11 5-1 7-10 5-5 8-6 15-9 5-6 3-14 6-25 1-25z"/>
<path fill="#40ffbf" d="M1846 1085l335 0 0 650 -785 0 0-528 15-1 30 2 25-1 25 5 10 0 15-3 10 0 20 6 10 1 25-7 15-3 10-3 10-5 16-13 8-5 11-4 5-1 10 2 20 8 35 5 10-2 20-10 10-2 5 1 3 3 7 9 5 4 5-1 10-14 5-5 25-17 4-6 3-20 8-20 2-10 0-15 3 0z"/>
<path fill="#59ffa6" d="M1851 1085l330 0 0 650 -785 0 0-526 15-2 30 2 25-1 8 2 12 4 10 2 25-2 25 4 15 0 15-3 25-2 15-5 5-4 12-14 5-5 8-5 10-3 10 2 20 8 20 2 20 4 10-3 15-8 5-1 5-1 5 3 11 12 4 3 5-2 15-19 26-17 5-5 2-5 2-18 11-22 2-10 1-15 1 0z"/>
<path fill="#73ff8c" d="M1856 1085l325 0 0 650 -785 0 0-524 15-3 30 3 25-1 5 0 15 7 10 2 25 0 30 2 20 0 20 4 10-1 20-3 5-2 4-9 4-15 4-5 8-7 10-3 10 1 20 8 20 2 20 5 10-2 20-9 5 0 5 3 10 11 5 3 5-2 17-20 28-19 6-6 2-5 -1-15 2-5 8-10 4-10 3-10 1-15z"/>
<path fill="#8cff73" d="M1866 1085l315 0 0 650 -785 0 0-521 15-4 30 2 25-1 10 3 10 6 10 3 35 0 35 2 5 2 4 3 2 5 3 20 1 2 5 1 15-8 10-9 5-1 10 1 5-4 3-12 3-25 1-5 4-5 9-6 10-2 20 8 25 3 20 7 10-2 20-8 5 0 5 3 10 11 5 2 5-2 5-5 10-13 5-4 25-16 8-6 3-5 1-5 -1-15 3-5 8-10 5-10 2-10 2-15 4 0z"/>
<path fill="#a6ff59" d="M1871 1085l310 0 0 650 -785 0 0-518 15-5 30 2 20-2 10 1 4 2 11 8 10 3 50 0 15 1 5 3 4 5 6 30 5 5 5-1 10-7 15-5 5-1 10 2 5-1 2-2 3-6 4-49 2-5 4-5 5-4 5-1 5 0 20 7 25 2 20 9 10-1 20-7 5 1 15 12 5 1 5-1 20-22 30-18 8-8 4-10 0-15 8-12 6-13 4-10 2-15 3 0z"/>
<path fill="#bfff40" d="M1876 1085l305 0 0 650 -785 0 0-514 15-6 30 0 20-2 11 2 14 12 10 2 45-1 15 1 5 2 4 4 2 5 4 22 2 8 3 5 5 2 5-1 10-7 10-5 5-1 15 2 5-1 5-3 3-6 4-55 2-5 4-5 7-3 10 1 15 6 25 2 20 11 10 0 20-7 5 1 15 11 5 1 5-1 5-4 10-13 5-4 30-18 10-8 5-10 4-20 14-30 5-20 2 0z"/>
<path fill="#d9ff26" d="M1881 1085l300 0 0 650 -785 0 0-508 15-8 25-1 20-3 10 0 9 5 6 7 10 5 10 0 40-2 10 0 5 1 5 4 3 5 7 33 5 8 5 2 5-1 15-10 5-2 5-1 15 2 5-2 5-2 5-7 2-10 1-45 2-7 5-7 5-2 5 0 20 7 20 1 5 1 20 14 5 1 5-1 15-6 5 0 5 1 15 9 5 1 5-1 5-4 10-12 5-5 30-15 10-8 5-6 5-11 6-25 10-20 9-25z"/>
<path fill="#f2ff0d" d="M1891 1085l290 0 0 650 -785 0 0-498 15-10 5-2 15 0 25-8 5-1 5 1 5 3 5 7 5 5 5 2 15 1 40-3 10 0 5 2 5 6 2 5 4 25 4 10 5 6 5 3 5 0 5-2 10-7 5-3 20 0 10-5 5-5 3-7 2-10 1-45 1-5 3-6 5-3 5 0 5 1 15 7 22 1 8 5 10 11 5 3 5 1 5-1 15-7 5-1 5 1 15 9 5 1 5-1 5-3 10-13 5-5 20-8 10-5 10-7 5-5 8-15 7-28 3-7 9-15 10-25 3 0z"/>
<path fill="#fff200" d="M1896 1086l285-1 0 650 -785 0 0-482 15-8 20-3 5-3 9-14 9-5 7-1 6 1 9 13 5 3 5 2 15 0 40-5 10 2 5 3 5 9 4 23 3 10 3 6 5 6 5 3 5 2 5 0 15-7 15-3 5-2 10-8 5-5 5-7 2-10 0-25 1-25 1-5 4-5 7-2 5 1 15 8 5 1 10-1 10 3 4 5 6 14 5 6 5 4 5 1 5-1 5-4 10-10 5-1 20 9 5 0 5-1 5-3 4-4 11-13 5-3 15-3 5-2 15-9 10-10 8-15 11-35 9-15 12-29z"/>
<path fill="#ffd900" d="M1906 1085l275 0 0 650 -785 0 0-466 10-1 20-1 6-2 19-11 5-4 4-5 3-5 -6-10 0-5 4-1 3 1 2 4 1 6 7 5 7 2 15-1 35-5 15 0 5 1 4 3 3 5 7 35 6 12 10 11 5 3 5 1 5-1 30-12 5-4 16-20 2-5 2-10 -1-25 1-25 1-5 4-4 5-1 5 2 15 8 5 1 10 0 5 2 2 2 4 15 7 15 7 22 5 7 5 2 5 0 5-2 6-4 19-20 20-7 5-3 15-17 5-4 15-1 10-3 15-10 12-10 6-10 7-19 5-9 14-17 6-12 2-8 1-15 2-15z"/>
<path fill="#ffbf00" d="M1916 1085l265 0 0 650 -785 0 0-451 30-5 10-4 15-8 25-18 50-10 10-1 10 0 5 2 5 6 3 9 3 20 2 10 7 14 5 7 5 6 5 3 5 1 10-1 20-10 10-7 5-6 15-22 2-5 1-10 -2-20 0-25 1-5 2-5 6-2 5 1 15 10 10 3 5 3 10 25 10 34 10 21 5 3 5 1 10-2 10-6 35-34 12-17 8-8 10-5 19-2 6-2 35-20 9-8 21-39 2-6 4-30 -3-30 0-5 2 0z"/>
<path fill="#ffa600" d="M1926 1085l255 0 0 650 -785 0 0-438 35-9 19-8 11-8 15-15 10-5 20-4 20-7 10-1 7 0 8 3 4 7 7 35 4 12 10 21 5 6 5 4 5 0 5-1 10-5 25-16 9-11 12-20 4-10 1-5 -3-25 1-25 1-6 5-3 10 4 14 10 6 5 3 5 7 20 7 30 2 20 4 10 7 7 20 10 9 8 3 5 2 10 -2 20 0 5 3 6 5 2 5-2 6-6 2-5 2-20 7-20 2-20 3-15 8-15 15-24 5-6 10-6 40-11 10-2 25-2 5-3 5-5 2-6 4-30 6-30 2-35 -3-30 4 0z"/>
<path fill="#ff8c00" d="M1931 1085l250 0 0 650 -785 0 0-424 45-16 20-4 5-4 12-22 8-7 20-5 20-9 10-2 10 1 5 4 4 8 3 25 10 35 3 27 5 8 5 2 5 0 10-6 14-16 21-15 5-4 5-7 19-39 1-10 -5-20 1-20 0-5 3-5 6 0 7 5 11 10 7 10 5 17 4 23 1 10 0 15 2 10 3 6 5 6 20 13 4 5 4 10 7 30 5 14 5 9 5 1 26-19 4-5 3-5 2-25 5-25 4-35 6-15 10-15 10-7 15-5 30-3 30 5 5-2 5-7 7-21 4-20 4-54 1-26 -3-30 2 0zM1919 1280l-1 5 1 10 2 5 5 5 5-5 1-10 -1-5 -5-8 -5 0 -2 3zM1925 1320l0 5 1 2 5-2 -2-5 -3-2 -1 2zM1570 1395l1 1 1-1 -1-1 -1 1z"/>
<path fill="#ff7300" d="M1936 1085l245 0 0 650 -785 0 0-409 40-17 10-2 7 3 23 23 5 0 5-5 4-13 1-10 0-10 -7-20 2-6 5-4 10-3 10-4 9-8 6-3 10-3 10 2 4 4 3 5 1 20 8 30 0 10 -1 5 -8 15 -5 15 -3 5 -14 14 -11 16 -5 10 -1 5 1 10 16 25 15 12 5 0 20-16 10-11 15-20 18-15 3-5 1-10 -4-20 2-10 3-5 6-5 19-10 6-25 15-35 1-5 -1-5 -5-10 -1-10 2-18 5-3 8 6 8 10 3 5 10 40 1 10 -3 20 3 10 3 10 4 5 16 10 5 5 12 23 3 7 4 20 2 30 2 5 4 5 5 4 5 1 6 0 5-5 1-5 3-18 5-6 5-3 5 0 5 2 3 5 2 10 5 5 10 3 5-2 4-11 0-25 -3-10 -7-15 -3-15 5-25 -1-30 2-10 4-10 9-11 10-6 10-2 25 0 11 4 11 10 6 10 11 35 1 17 3 8 2 3 5 2 5-1 4-4 2-5 1-45 -3-20 -6-20 -1-10 5-30 3-45 2-45 -2-30z"/>
<path fill="#ff5900" d="M1946 1085l235 0 0 650 -785 0 0-385 4-5 5-5 6-4 5-2 10-1 10 2 20 13 11 12 16 25 6 25 7 13 8 7 37 25 10 0 5-2 10-8 10-5 23-35 7-7 12-8 3-3 4-7 1-5 -1-20 1-5 2-5 3-3 5-2 5 0 5 3 10 8 5 2 7-3 10-10 3-4 5-1 15 4 10 5 20 23 3 8 4 15 1 25 2 10 5 8 5 4 10 7 5 1 10 0 15-2 25 3 10-2 6-4 4-5 3-10 -5-30 0-20 -7-25 0-10 3-15 1-10 -4-30 1-5 3-7 5-6 5-4 10-3 20 0 5 0 5 3 7 7 8 15 10 26 4 24 6 20 -1 15 2 10 4 4 5 2 5-2 2-4 1-5 -5-15 1-5 11-20 2-10 0-30 -1-25 -6-35 4-30 2-75 1-15 -2-25 1-5 4 0zM1666 1220l5 0 8 10 2 5 -1 5 -4 5 -5 1 -5-3 -2-3 -2-5 1-5 3-10zM1531 1248l10 0 5 1 4 6 1 5 1 20 5 20 1 10 -2 6 -12 14 -7 15 -3 5 -23 23 -10 4 -5-1 -5-6 -1-10 6-20 2-10 4-30 0-20 1-5 13-11 5-9 6-5 4-2zM1676 1254l5 1 5 5 4 10 0 5 -2 25 2 15 0 5 -4 9 -5 5 -25-22 -3-7 1-10 12-27 5-9 5-5z"/>
<path fill="#ff4000" d="M1951 1085l230 0 0 650 -785 0 0-319 25 1 11-2 9-5 4-5 0-5 -5-15 0-10 3-5 3-3 5-2 5 3 4 7 0 10 -2 15 0 5 8 10 10 10 15 12 13 8 17 6 18 9 7 0 5-1 10-3 8-6 12-6 12-19 4-10 3-5 6-7 15-10 5-5 5-8 1-5 0-15 1-5 3-3 5-1 5 1 10 9 5 1 7-2 18-10 10-1 10 2 5 4 10 9 5 6 4 10 3 10 2 10 1 20 1 5 5 10 14 12 5 3 10 4 40 6 10-1 15-6 11-8 4-5 2-5 1-5 -2-10 -11-20 -1-5 3-20 -4-20 -1-10 5-25 1-10 -1-5 -5-15 -1-5 2-5 4-5 8-4 15-1 5 0 5 3 4 7 6 15 10 17 3 8 1 10 1 35 3 10 5 10 7 9 5 3 5 1 5-2 5-4 4-7 1-10 -1-20 6-20 1-15 -1-50 -4-35 3-25 0-35 2-20 -1-20 2-20 -2-20 2-10 3 0zM1531 1253l5-2 5 0 6 4 1 5 -1 20 6 20 1 5 -3 8 -9 7 -4 5 -7 15 -4 5 -16 15 -5 3 -5-1 -1-2 1-5 4-15 1-25 3-15 0-15 2-7 11-8 6-15 3-2zM1676 1263l5 2 3 5 1 5 -2 25 2 15 -4 6 -5 0 -14-11 -4-5 0-5 3-10 9-20 6-7z"/>
<path fill="#ff2600" d="M1956 1085l225 0 0 650 -785 0 0-293 15 3 5 0 20-8 10-2 10 0 10 3 25 14 10 4 20 3 15 5 5 1 20-4 10-7 10-4 5-5 9-15 6-15 4-5 6-6 14-9 10-10 5-10 0-10 1-3 5 1 5 4 5 2 5 0 10-3 15-7 10-2 5 0 10 5 5 4 5 7 4 7 6 20 2 25 4 10 4 5 20 17 10 5 44 18 9 5 4 5 2 5 4 15 2 16 5 7 5 2 15 2 20 9 10 1 30-4 25-2 7-1 7-5 -2-5 -17-8 -40-24 -8-8 -4-5 -4-10 -1-5 1-5 5-10 16-25 5-5 15-8 10-9 8-13 2-10 1-30 3-20 2-20 -1-45 -3-35 3-25 -1-35 2-20 -2-25 3-15 -2-15 0-5 3-10 2 0zM1536 1259l5-1 1 2 -1 6 -5 0 -1-6 1-1zM1676 1273l1 2 1 5 -2 31 -5-1 -5-4 -2-6 2-8 10-19zM1526 1284l10 3 5 4 5 6 1 8 -6 4 -10 3 -10 23 -5-2 -2-13 1-5 1-4 5-6 2-5 -3-10 1-4 5-2zM1871 1317l5-1 5 1 5 3 3 5 1 5 -1 5 -5 20 -1 10 3 10 3 5 7 7 5 8 0 8 -5 3 -15-3 -10 1 -10-1 -7-3 -5-5 0-5 5-10 1-5 -1-10 -4-15 1-9 5-10 5-7 5-4 5-3zM1846 1474l1 1 -2 0 1-1z"/>
<path fill="#ff0d00" d="M1961 1087l1-2 219 0 0 650 -785 0 0-278 15 4 5 0 5-2 15-9 10-2 10 2 10 3 15 12 10 3 10 1 20-3 20 3 20-4 5-2 20-13 13-20 7-15 10-10 10-5 25-18 15-4 20-11 7-2 8 0 5 1 6 4 4 5 5 10 6 15 2 25 3 10 3 5 26 26 21 14 4 5 5 11 10 1 5 2 10 6 4 5 3 5 1 15 2 15 2 5 7 5 6 2 5 0 9-7 6-2 5 0 25 8 45-2 30-9 7-5 2-5 -1-5 -3-4 -15-9 -7-7 -4-15 -3-20 4-40 8-50 0-30 3-40 -1-45 -2-35 2-25 -1-35 3-20 -2-25 2-15 -1-15 4-13z"/>
<path fill="#f20000" d="M1976 1085l205 0 0 650 -785 0 0-266 10 1 10 0 5-2 15-8 10-1 10 3 5 4 4 4 2 10 4 5 15-3 25-2 15-6 15-1 25-4 5-3 20-16 11-15 9-19 5-5 5-2 10-1 5 2 1 5 0 25 4 34 6 6 4 1 10-1 15-5 5-3 3-2 3-5 0-5 -2-5 -14-23 -11-22 -1-5 3-5 14-11 10-9 10-5 5 0 5 2 15 23 2 10 0 15 4 15 4 5 12 10 13 20 13 10 2 4 2 6 0 20 2 5 6 3 5-3 5-9 5-3 10 0 5 2 5 5 2 5 -1 10 2 20 2 5 5 4 15 7 5 0 15-10 5-1 25 8 40-2 10-1 30-10 7-5 3-5 1-5 -1-10 -5-6 -6-4 -5-5 -2-10 0-135 1-50 -1-80 1-30 -1-30 3-25 -3-20 2-15 0-15 3-5 8-10zM1456 1490l-8 5 2 5 9-5 4-5 -2-1 -5 1z"/>
<path fill="#d90000" d="M2001 1095l15 0 45 3 80-2 20 1 20 2 0 636 -785 0 0-258 15 0 10-2 15-8 5-1 5 0 5 2 3 2 3 5 -1 5 -5 4 -10 7 -3 4 0 5 3 6 5 3 5-1 25-15 10-4 30-3 15-7 40-6 5-3 29-30 11-20 5-2 5 4 1 3 1 55 3 9 5 5 10 4 30 4 22 8 8 1 7-1 10-5 10-10 -3-5 -4-2 -5-5 -5-8 -1-5 1-5 5-7 5-2 5 1 5 5 3 8 0 10 -3 10 4 5 11 5 5 4 9 16 4 5 7 4 5 1 5-1 5-4 5-10 5-2 7 2 4 5 0 10 2 10 -1 15 4 5 24 12 5 1 5-2 10-9 5-1 5 0 10 4 10 3 10 0 35-1 10-3 28-9 8-5 5-10 1-10 -2-10 -5-15 1-25 -3-85 2-40 -2-50 0-90 1-40 -3-60 2-10 4-5 8-3 10-2zM1706 1409l5 1 -5 3 -1-3 1-1z"/>
<path fill="#c00000" d="M1611 1443l5-2 4 4 1 3 0 7 -2 20 1 10 2 5 4 6 10 8 20 8 45 10 10 1 25-2 10 1 25 11 10 2 5 0 5-2 10-8 5 5 2 5 1 5 -2 15 2 5 2 3 5 4 25 11 5 0 5-1 10-8 5-3 5 1 10 4 10 2 10 0 30-1 10-1 35-12 8-4 4-5 4-10 2-20 2-6 5-5 10-5 15-6 10 0 10 3 34 14 16 3 40-3 30 0 15-3 0 223 -785 0 0-250 25-4 15-7 5-2 5 1 3 2 -2 5 -13 10 -2 5 0 5 1 5 3 4 5 4 5 2 5-1 35-19 30-3 20-9 35-4 7-4 13-15 20-17z"/>
<path fill="#a60000" d="M1601 1459l5-3 5 0 1 4 -2 20 2 10 3 5 8 10 18 12 10 5 10 3 50 10 40 2 30 4 5-1 10-3 5 0 2 3 -1 15 0 5 4 7 5 4 30 13 10-1 15-10 5 0 15 4 15 2 35-1 45-15 6-3 6-5 5-10 3-19 5-5 5-1 10 3 15 12 5 2 65 12 10 0 35-7 30-2 0 195 -329 0 -6-6 -10-3 -40 5 -10 0 -35-6 -15 2 -8 3 -8 5 -89 0 -12-10 -23-13 -15-11 -5-3 -5 0 -8 2 -32 16 -15 5 -10 2 -10 0 -10-2 -19-11 -6-1 -30 8 -15 1 -20-2 0-222 15-5 10 0 2 1 4 15 2 5 4 5 8 5 5 1 5-1 5-2 25-14 9-4 26-3 20-8 15-2 15-1 10-2 6-4 12-15 7-6z"/>
<path fill="#8d0000" d="M1586 1490l5-2 5 2 15 17 30 23 10 6 10 3 25 2 25 8 10 2 15 0 30-3 21 2 4 3 7 17 8 9 5 3 30 9 5 0 10-3 10-5 5-2 15 1 20 3 30 1 10-3 25-11 35-10 55 9 15 1 35-3 25 0 25-4 10 0 10 2 0 84 -50 13 -20 4 -50 1 -40-4 -15-1 -15 3 -30 10 -15 3 -60 3 -25-2 -45-14 -40-10 -15-5 -25-11 -5-2 -8 1 -22 6 -15 2 -25 1 -15-3 -25-7 -45-6 -15-4 -25-10 -10-1 -50 7 -10 5 -20 13 -15 5 -15 2 -10-2 -10-3 0-129 10-8 5-1 5 3 9 10 6 5 5 3 10 1 10-2 20-12 15-7 30-4 20-8 10-1 20 0 15-5z"/>
</g></g>
<g clip-path="url(#cdA)"><path d="M1407.3 1194.3l32.5 4.5 22.4-6.8 20.9-5.2M1495.1 1183.8l20.9-5.2 13.5-4.5 17.9 4.5 8.9-9 9-13.4 9-9 22.4 4.5 17.9-2.2 6.7-11.2 2.3-18 -4.5-14.5M1407.3 1198.8l43.7 4.4 25.2-2.8M1507.4 1192.7l8.6-2.9 4.5-6.7 13.4 0 15.7 8.9 11.2-6.7 9-11.2 17.9 0 44.8-8.9 13.5-9 11.2-4.5 11.2 4.5 11.2 11.2 11.2-11.2 31.4-20.2 6.7-13.4 1.1-13.5M1407.3 1202.1l43.7 4.5 23.3 .9M1517.8 1197.5l2.7-1 9 2.3 11.2-2.3 11.2 18 13.4-6.8 9-8.9 22.4-2.3 17.9-11.2 22.4-11.2 20.2-4.5 13.4 4.5 15.7 9 22.4 2.2 18 0 6.7-6.7 20.1-9 11.2-6.7 9 6.7 5.8 18 4.5 8.9 11.2-26.9 13.4-11.2 14.6-5.6 4.5-10.1 3.3-17.9 0-20.2M1407.3 1205.5l43.7 4.5 20.2 0 9 11.2 11.2 2.2 11.2 4.5 3.1-.4M1545.8 1225.4l26.2-2 0 22.4 2.3 26.9 17.9-13.4 11.2-2.3 6.7-13.4 9-4.5 11.2 6.7 5.6 13.5 3.4-22.4 2.2-29.2 4.5-20.1 8.9-5.6 15.7 3.3 15.7 6.7 22.4 2.3 13.5 7.8 22.4-5.6 15.7-11.2 11.2 11.2 3.5 9 9 4.5 15.6-24.7 13.5-6.7 10.1-9 14.5-6.7 6.8-6.7 3.3-13.5 7.9-17.9 5.6-15.7M1407.3 1252.5l16.8 9 15.7-11.2 15.7-6.7 -6.7-24.7 11.2-6.7 11.2 2.3 2.2 13.4 11.2 11.2 36.5-3.6M1540.7 1233.5l11.2-1.1 6.7 8.9 8.9 44.9 6.8 8.9 17.9 9 4.5-6.7 31.4-6.8 8.9-13.4 11.2-13.4 0-49.3 4.5-20.2 11.2 0 15.7 13.4 13.4-11.2 13.5 0 5.6 11.2 -5.6 13.5 8.9 11.2 9 29.1 9-15.7 13.4-8.9 13.5-20.2 14.7 11.2 9 3.4 8.9-7.9 6.7-11.2 4.5-9 20.2 3.4 17.9-12.3 15.7-13.5 5.6-15.6 3.4-15.7 6.7-9 4.5-11.2 6.7-9 2.2-15.7M1407.3 1326.5l21.3-6.7M1433.7 1315.9l12.8-9.6M1488.7 1354.8l4.9-17.1 4.5-22.4 4.5-33.6 -18-9 0-8.9 31.4 2.2 6.7-17.9 11.2-4.5 18 4.5 2.2 22.4 4.5 22.4 2.2 22.4 -13.4 11.2 -4.5 22.4 -17.9 13.5 -9 13.4 -11.2 11.2 -2.2 17.9 .4 15 -.4-6.5 6.7 9 11.2 4.5 2.2 11.2 15.7 5.6 2.3 12.3 8.9 4.5 26.9-11.2 4.5-9 11.2-6.7 4.5-24.6 4.5-8.6 20.1-11.2 4.5-17.9 -6.7-22.4 2.2-15.7 15.7-6.7 11.2 11.2 9 17.9 11.2-17.9 0-17.9 -20.2-11.2 6.7-22.4 11.2-20.2 2.3-15.7 -11.2-13.4 0-38.1 2.2 15.7 20.2 8.9 6.7 13.5 -11.2 6.7 13.5 6.7 4.4 31.4 -6.7 22.4 2.3 20.2 35.8 15.6 -4.5 11.2 18 18 2.2 24.6 -2.2 26.2 3.3-2 5.6 15.7 15.7 10.1 11.2-3.4 1.3-6.7 2.2-26.9 9-5.6 9 3.4 2.2 15.7 17.9 4.4 9 13.5 6.7-9 2.3-29.1 -1.2 4.9 2.3-17.9 -5.6-15.7 -10.1-17.9 -1.1-15.7 5.6-9 1.1-13.4 -3.4-22.4 1.2-17.9 11.2-13.5 8.9-7.8 22.4 1.1 15.7 0 2 2.2M1913.1 1311.9l3.1 25.8 6.7 5.6 11.2-1.1 5.6-6.7 1.1-20.2 0-33.6 -1.1-22.4 -5.6-13.5 -1.1-20.1 3.3-15.7 2.3-18 2.2-87.4M1967.7 1101.3l1.1 158 0 160.6 1.2 96.6 16.8 7.9 -1.2 14.5 -6.7 13.5 -20.1 4.5 -13.5 6.7 -26.9 2.2 -31.4 1.1 -22.4-11.2 -17.9 18 -13.4-7.9 -22.4-11.2 6.7-11.2 -9-13.4 -2.2-18 -6.8-1.1 -4.4 14.6 -11.2 4.5 -9-2.3 12.2 3.4 -11.2-3.4 -4.5-15.7 -4.5-24.6 -15.7-4.5 -9-31.4 -15.6-6.7 -2.3-44.8M1407.3 1476.2l21.3-3.4 15.7-8.9 9 3.3 8.9 7.9 -8.9 10.1 -13.5 4.4 -3.3 6.8 3.3 8.9 7.9 4.5 12.3-9 24.6-13.4 35.9-2.2 6.7-7.9 49.3-6.7 4.5-12.3 15.7-13.5 8.9-4.5 4.5-17.9 5.6-16.8 5.6 5.6 5.6 11.2 3.4 56 4.5 12.4 17.9 2.2 31.4-1.1 8.9 8.9 11.2 5.6 6.8-3.3 0-35.9 4.4-7.8 -4.4-14.6 -2.3-15.7 -11.2-4.5 -17.9-2.2 0-15.7 17.9-17.5 11.2 4.5 11.2 9 2.3 17.2M1567.5 1369.1l29.2-7.9 -2.3 23.6 -26.9-15.7M1678.5 1342.2l2.9-1.1 1.6 10 -1.6 11.3 -2.9-2.3 0-17.9M1651.6 1380.3l3.3-7.9 6.8-1.1 5.6 6.7 -2.3 9 -7.8 2.2 -5.6-8.9M1920.7 1379.2l2.2-6.8 6.7-1.5 5.6 4.9 0 7.8 -5.6 4.5 -6.3-2.2 -2.6-6.7M1507 1447.1l4.5-5.6 7.9 2.2 -2.3 6.7 -6.7 2.3 -3.4-5.6M1656.7 1435.9l2.7-3.4 5.6 .7 1.6 3.8 -3.8 3.3 -4.5-1.1 -1.6-3.3" fill="none" stroke="#0c0c14" stroke-width="1.9" stroke-linejoin="round" stroke-opacity="0.9"/></g>
<text transform="translate(1499.4 1193.2) rotate(-20)" font-size="33.5" text-anchor="middle" fill="#15151c" fill-opacity="0.45" stroke="none" font-family="'Liberation Sans','DejaVu Sans',sans-serif" y="12.1">35.4</text>
<text transform="translate(1511.5 1212.2) rotate(32)" font-size="33.5" text-anchor="middle" fill="#15151c" fill-opacity="0.88" stroke="none" font-family="'Liberation Sans','DejaVu Sans',sans-serif" y="12.1">35.8</text>
<text transform="translate(1462.2 1339.9) rotate(57)" font-size="33.5" text-anchor="middle" fill="#15151c" fill-opacity="0.88" stroke="none" font-family="'Liberation Sans','DejaVu Sans',sans-serif" y="12.1">36.2</text>
<text transform="translate(1909.0 1275.0) rotate(60)" font-size="33.5" text-anchor="middle" fill="#15151c" fill-opacity="0.88" stroke="none" font-family="'Liberation Sans','DejaVu Sans',sans-serif" y="12.1">36.2</text>
<g class="t">
<text x="1379.6" y="1094.4" font-size="48.5" text-anchor="end" fill="#262626" font-family="'Liberation Serif','DejaVu Serif',serif">0</text>
<text x="1379.6" y="1201.7" font-size="48.5" text-anchor="end" fill="#262626" font-family="'Liberation Serif','DejaVu Serif',serif">20</text>
<text x="1379.6" y="1309.1" font-size="48.5" text-anchor="end" fill="#262626" font-family="'Liberation Serif','DejaVu Serif',serif">40</text>
<text x="1379.6" y="1416.4" font-size="48.5" text-anchor="end" fill="#262626" font-family="'Liberation Serif','DejaVu Serif',serif">60</text>
<text x="1379.6" y="1523.7" font-size="48.5" text-anchor="end" fill="#262626" font-family="'Liberation Serif','DejaVu Serif',serif">80</text>
<text x="1379.6" y="1631.1" font-size="48.5" text-anchor="end" fill="#262626" font-family="'Liberation Serif','DejaVu Serif',serif">100</text>
<text x="1379.6" y="1738.4" font-size="48.5" text-anchor="end" fill="#262626" font-family="'Liberation Serif','DejaVu Serif',serif">120</text>
<text x="1525.9" y="1783.4" font-size="48.5" text-anchor="middle" fill="#262626" font-family="'Liberation Serif','DejaVu Serif',serif">-88.4</text>
<text x="1713.9" y="1783.4" font-size="48.5" text-anchor="middle" fill="#262626" font-family="'Liberation Serif','DejaVu Serif',serif">-88.35</text>
<text x="1901.8" y="1783.4" font-size="48.5" text-anchor="middle" fill="#262626" font-family="'Liberation Serif','DejaVu Serif',serif">-88.3</text>
<text x="2089.8" y="1783.4" font-size="48.5" text-anchor="middle" fill="#262626" font-family="'Liberation Serif','DejaVu Serif',serif">-88.25</text>
<rect x="2184.6" y="1075.3" width="49" height="652" fill="url(#jet)" stroke="#262626" stroke-width="1.6"/>
<text x="2247.1" y="1744.8" font-size="45" text-anchor="start" fill="#262626" font-family="'Liberation Serif','DejaVu Serif',serif">35</text>
<text x="2247.1" y="1538.5" font-size="45" text-anchor="start" fill="#262626" font-family="'Liberation Serif','DejaVu Serif',serif">35.5</text>
<text x="2247.1" y="1332.1" font-size="45" text-anchor="start" fill="#262626" font-family="'Liberation Serif','DejaVu Serif',serif">36</text>
<text x="2247.1" y="1125.8" font-size="45" text-anchor="start" fill="#262626" font-family="'Liberation Serif','DejaVu Serif',serif">36.5</text>
<path d="M2233.6 1727.3h-6M2233.6 1521h-6M2233.6 1314.6h-6M2233.6 1108.3h-6" stroke="#262626" stroke-width="1.3" fill="none"/>
<text transform="translate(2375.1 1402.1) rotate(-90)" font-size="44" text-anchor="middle" fill="#262626" font-family="'Liberation Serif','DejaVu Serif',serif">PSU</text>
<text x="1325" y="1005.2" font-size="50" text-anchor="start" fill="#000" font-family="'Liberation Serif','DejaVu Serif',serif">(d)</text>
</g>
<g fill="#25d825" stroke="#0b5a0b" stroke-width="2.4"><circle cx="1877.1" cy="1078.6" r="5.6"/><circle cx="1887.6" cy="1078.6" r="5.6"/><circle cx="1899" cy="1078.6" r="5.6"/><circle cx="1913.3" cy="1078.6" r="5.6"/><circle cx="1937.1" cy="1078.6" r="5.6"/><circle cx="1952.4" cy="1078.6" r="5.6"/><circle cx="1970.5" cy="1078.6" r="5.6"/><circle cx="1983.8" cy="1078.6" r="5.6"/><circle cx="1992.4" cy="1078.6" r="5.6"/><circle cx="2000" cy="1078.6" r="5.6"/><circle cx="2007.6" cy="1078.6" r="5.6"/><circle cx="2019" cy="1078.6" r="5.6"/><circle cx="2030.5" cy="1078.6" r="5.6"/></g>
</g>
<g id="panel-e">
<rect x="197.4" y="1979.2" width="770.4" height="644" fill="#fff" stroke="#262626" stroke-width="2"/>
<path d="M197.4 2086.5h7.5M967.8 2086.5h-7.5M197.4 2193.9h7.5M967.8 2193.9h-7.5M197.4 2301.2h7.5M967.8 2301.2h-7.5M197.4 2408.5h7.5M967.8 2408.5h-7.5M197.4 2515.9h7.5M967.8 2515.9h-7.5M328.5 2623.2v-7.5M328.5 1979.2v7.5M517.4 2623.2v-7.5M517.4 1979.2v7.5M706.3 2623.2v-7.5M706.3 1979.2v7.5M895.3 2623.2v-7.5M895.3 1979.2v7.5" stroke="#262626" stroke-width="1.6" fill="none"/>
<g clip-path="url(#ce0)"><g filter="url(#sm)">
<rect x="370" y="1973" width="334" height="673" fill="#0000b1"/>
<path fill="#0000c7" d="M387 1985l305 0 0 650 -27 0 -3-5 -5-4 -5-3 -10-2 -15-2 -15 1 -40 5 -35 2 -50 0 -60-5 -15 0 -15 2 -15 8 0-647 5 0z"/>
<path fill="#0000dd" d="M387 1985l305 0 0 647 -18-17 -12-8 -15-7 -15-3 -20 1 -30 7 -30 3 -35 5 -10 0 -25-4 -25-1 -25-6 -10-1 -15 1 -25 7 0-624 5 0z"/>
<path fill="#0000f4" d="M387 1985l305 0 0 623 -25-18 -10-6 -10-4 -10-1 -35 2 -35 7 -50 8 -10 0 -40-6 -30-6 -20-2 -15 1 -20 7 0-605 5 0z"/>
<path fill="#000dff" d="M387 1985l305 0 0 605 -30-22 -5-2 -10-2 -60 3 -35 9 -20 3 -40-1 -40-8 -45-3 -10 0 -15 5 0-587 5 0z"/>
<path fill="#0026ff" d="M387 1985l305 0 0 590 -25-17 -6-3 -9-2 -35 2 -32 0 -33 10 -20 2 -40 0 -15-3 -20-5 -55-4 -10 1 -10 3 0-574 5 0z"/>
<path fill="#0040ff" d="M387 1985l305 0 0 577 -25-14 -9-3 -6 0 -35 2 -35 0 -30 8 -20 3 -40 0 -40-9 -25 0 -30-2 -15 2 0-564 5 0z"/>
<path fill="#0059ff" d="M387 1985l305 0 0 567 -25-12 -15-3 -35 2 -35 0 -35 10 -20 2 -35-1 -40-8 -55-3 -15 2 0-556 5 0z"/>
<path fill="#0073ff" d="M387 1985l305 0 0 558 -25-10 -15-2 -70 2 -35 9 -25 2 -30-1 -40-7 -55-3 -15 1 0-549 5 0z"/>
<path fill="#008cff" d="M387 1985l305 0 0 550 -25-8 -15-2 -65 2 -10 1 -35 8 -25 3 -25-2 -40-7 -50-3 -20 1 0-543 5 0z"/>
<path fill="#00a6ff" d="M387 1985l305 0 0 543 -20-5 -15-3 -35 0 -40 2 -45 9 -25 2 -20-1 -40-7 -50-3 -20 1 0-538 5 0z"/>
<path fill="#00bfff" d="M387 1985l305 0 0 536 -35-6 -40-1 -35 3 -50 10 -20 1 -15-1 -35-6 -20-2 -35-2 -25 0 0-532 5 0z"/>
<path fill="#00d9ff" d="M387 1985l305 0 0 530 -40-6 -35-1 -35 4 -50 9 -20 2 -75-10 -25-2 -30 1 0-527 5 0z"/>
<path fill="#00f2ff" d="M387 1985l305 0 0 523 -50-5 -25 0 -40 4 -50 9 -15 2 -80-11 -20-1 -30 1 0-522 5 0z"/>
<path fill="#0dfff2" d="M387 1985l305 0 0 517 -55-5 -20 0 -25 2 -30 5 -35 7 -15 1 -80-11 -20-1 -30 1 0-516 5 0z"/>
<path fill="#26ffd9" d="M387 1985l305 0 0 511 -60-5 -15-1 -50 7 -40 8 -15 2 -15-2 -40-6 -25-3 -50-1 0-510 5 0z"/>
<path fill="#40ffbf" d="M387 1985l305 0 0 505 -25-2 -35-4 -15 0 -55 8 -35 8 -15 1 -15-1 -40-7 -30-4 -45 0 0-504 5 0z"/>
<path fill="#59ffa6" d="M387 1985l305 0 0 498 -30-1 -30-5 -15 0 -30 6 -30 4 -30 7 -15 1 -15-1 -70-11 -45 1 0-499 5 0z"/>
<path fill="#73ff8c" d="M387 1985l305 0 0 491 -35 0 -30-8 -10 0 -30 9 -35 4 -25 7 -15 2 -60-9 -25-5 -45 2 0-493 5 0z"/>
<path fill="#8cff73" d="M452 1985l240 0 0 484 -25 2 -10 0 -10-4 -15-8 -5-1 -10-1 -10 4 -20 10 -10 2 -25-1 -30 11 -10 1 -30-7 -30-2 -25-8 -10 0 -20 5 -15 0 0-451 15 19 5 3 5 2 5-1 5-2 10-7 13-15 3-5 3-10 2-20 4 0z"/>
<path fill="#a6ff59" d="M477 1985l133 0 -7 25 0 30 -5 30 -1 10 1 5 4 5 5 2 5 0 5-2 5-4 13-16 12-20 5-15 0-10 -4-15 -6-14 -7-11 57 0 0 477 -25 3 -10-1 -7-4 -8-9 -5-3 -10-3 -10-1 -8 1 -7 4 -10 11 -8 5 -10 0 -17-7 -5 0 -10 3 -18 14 -7 3 -10-1 -15-8 -10-2 -19 3 -6 0 -11-5 -9-8 -5-3 -5-2 -10 1 -20 12 -5 1 -10-1 0-419 16 9 9 2 10-1 15-6 23-15 6-5 3-5 11-40 2 0z"/>
<path fill="#bfff40" d="M502 1987l1-2 53 0 6 8 8 12 6 20 1 20 -2 35 2 10 5 8 5 5 5 3 10 1 14-2 9-5 17-20 22-30 3-10 3-35 1-20 21 0 0 469 -25 0 -5-2 -6-7 -8-5 -16-5 -10-1 -10-1 -9 2 -21 10 -5 0 -40-6 -15-9 -10-2 -45 5 -35 1 -10 1 -15 5 -20 12 -5 1 0-396 15 5 10 1 10 0 15-4 35-15 4-4 5-5 5-10 7-20 4-6 10-12z"/>
<path fill="#d9ff26" d="M692 1988l0 457 -10-1 -10-2 -17-7 -33-9 -15 0 -25 8 -10 0 -25-4 -25-9 -15-2 -40 4 -44 2 -11 3 -30 10 0-375 20 4 15 0 15-3 35-11 10-6 8-7 22-29 5-4 5-3 10 0 10 4 5 3 9 9 6 11 4 14 -1 25 2 10 3 10 7 13 6 7 4 4 5 2 5 1 10-1 19-6 8-5 23-28 20-21 4-11 2-20 14-37z"/>
<path fill="#f2ff0d" d="M692 2027l0 409 -10-1 -15-3 -45-13 -15 0 -25 8 -10 0 -20-3 -30-11 -15-2 -40 5 -45 1 -40 12 0-360 20 3 15-1 15-2 35-8 12-6 28-18 10-4 10 0 10 5 6 7 2 5 1 20 3 10 8 16 15 25 5 5 5 2 10 1 30-12 10-7 25-31 18-14 4-5 5-10 4-15 4-8z"/>
<path fill="#fff200" d="M507 2050l10 0 5 2 5 5 2 3 9 20 9 13 12 22 8 20 5 5 5 3 5 0 15-4 30-16 15-16 12-17 8-9 16-11 6-5 8-10 0 373 -30-3 -10-3 -25-10 -10-1 -10 1 -25 9 -15 0 -20-5 -30-12 -10-1 -40 6 -45 1 -40 11 0-347 20 1 15 0 50-8 5-1 35-16z"/>
<path fill="#ffd900" d="M507 2059l5 0 5 3 5 4 10 19 9 10 12 20 5 20 4 9 10 14 5 1 20-9 34-20 7-10 9-10 9-15 8-10 17-10 11-9 0 353 -25 0 -10-1 -25-12 -15-3 -15 2 -20 9 -5 1 -10-1 -20-5 -30-14 -5-2 -5 0 -20 6 -15 3 -50 1 -30 9 -10 2 0-335 40 0 15-2 20-4 15-1 15-7 20-6z"/>
<path fill="#ffbf00" d="M497 2069l10-3 5 1 5 3 10 17 12 13 11 20 4 20 7 15 1 13 5 7 5 1 5-1 5-3 52-37 13-15 6-5 3-5 4-10 7-10 5-4 20-13 0 338 -25 0 -10-1 -25-12 -10-2 -20 2 -20 9 -5 1 -10-1 -20-5 -12-7 -18-11 -5-2 -5 0 -5 1 -15 9 -10 3 -55 3 -40 9 0-324 35 1 10-1 30-6 15 0 25-8z"/>
<path fill="#ffa600" d="M497 2074l10-2 5 1 5 5 8 12 9 10 12 20 4 20 6 15 1 13 3 7 2 4 5 4 5 3 5 0 10-6 33-30 17-12 10-11 10-6 4-6 7-15 4-7 5-5 15-9 0 323 -30 0 -10-3 -20-11 -5-1 -30 5 -20 7 -5 1 -10-1 -15-5 -17-14 -8-4 -15-4 -10 2 -14 11 -6 2 -55 6 -40 8 0-313 20 0 20 2 35-9 16-1 24-6z"/>
<path fill="#ff8c00" d="M492 2080l15-3 5 2 21 26 9 15 1 5 4 15 5 15 2 15 3 9 10 15 5 3 5-1 10-6 40-40 20-17 12-8 4-5 13-25 6-6 10-6 0 311 -30 0 -10-4 -15-10 -5-2 -5-1 -20 7 -15 1 -20 7 -10 0 -6-2 -8-5 -11-11 -5-4 -25-6 -10-1 -8 2 -17 12 -15 5 -75 13 0-303 20 1 20 4 35-13 20-1 15-3z"/>
<path fill="#ff7300" d="M487 2085l15-3 5 0 5 3 20 26 8 14 8 30 4 21 10 25 5 7 5-1 17-12 44-45 19-17 12-8 16-30 7-5 5-3 0 300 -20 1 -10-1 -10-4 -15-12 -5-2 -5 0 -5 1 -15 7 -5 0 -10-3 -5 1 -15 8 -10 1 -5-2 -5-4 -7-8 -6-5 -22-4 -20-6 -5 0 -5 2 -25 16 -10 4 -35 7 -35 5 0-292 20 0 20 6 5-1 13-7 17-7 30-3z"/>
<path fill="#ff5900" d="M467 2090l35-4 5 0 5 4 15 20 9 15 8 30 5 20 9 30 4 9 5 2 5-2 20-15 25-25 31-34 19-14 14-26 6-6 5-3 0 290 -20 2 -10-1 -10-6 -15-12 -5-1 -10 0 -15 5 -15-3 -15 0 -10-4 -10 4 -5-1 -15-5 -20-4 -15-7 -5-1 -10 3 -30 19 -10 4 -30 7 -35 4 0-282 20 0 20 6 5 0 25-14 15-4z"/>
<path fill="#ff4000" d="M492 2090l10-1 5 2 5 4 17 25 4 10 8 25 13 55 3 6 5 4 5 1 5-2 25-19 25-25 31-35 14-10 4-5 11-21 5-6 5-3 0 281 -20 2 -10-1 -5-3 -20-16 -5-2 -5-1 -10 3 -5-1 -3-2 -2-3 -5-1 -5 4 -5 2 -8-2 -6-5 -1-2 -5 0 -10 5 -10 3 -30-5 -10-4 -10-10 -55 31 -35 8 -20 2 -10 0 0-272 10-1 10 1 15 6 5 1 5-1 20-11 15-6 30-5zM552 2295l-15 5 -15 9 -10 10 -3 6 3 3 30-6 15 1 10 5 10 11 5-2 7-7 -2-5 -10-10 -11-15 -4-3 -5-2 -5 0zM605 2335l-1 5 3 6 0-1 8-5 2-5 -5-1 -7 1z"/>
<path fill="#ff2600" d="M482 2095l20-2 5 2 5 6 12 19 6 10 9 30 13 55 5 8 5 3 5 0 5-2 31-24 28-30 22-25 5-5 13-10 11-20 5-7 5-4 0 272 -20 2 -5 0 -8-3 -19-20 -2-5 -2-10 -4-6 -5-3 -5-2 -20 0 -5-2 -9-7 -4-5 -7-12 -5-8 -5-4 -10-3 -10 1 -10 4 -20 11 -12 11 -13 25 -6 5 -39 24 -5 2 -35 6 -15 2 -10-1 0-262 15-2 5 1 15 7 5 1 5-1 20-12 11-5 9-3 15-2zM527 2335l15-4 10 0 10 4 3 5 -3 5 -5 2 -5 2 -10 0 -16-4 -9-5 10-5z"/>
<path fill="#ff0d00" d="M472 2100l25-3 5 1 4 2 4 5 13 20 4 10 9 30 11 51 5 9 5 5 5 3 5 0 5-2 12-11 13-9 10-9 30-32 21-25 13-10 5-5 7-15 4-6 5-5 0 258 -5 3 -10 3 -10 0 -5-2 -4-6 -1-5 3-5 7-8 13-7 0-5 -8-5 -10-2 -30-10 -10 0 -15 3 -5 0 -5-1 -5-5 -3-5 -3-15 -4-10 -5-5 -5-4 -10-2 -10 2 -10 3 -20 9 -11 7 -9 8 -5 7 -9 25 -4 5 -37 23 -5 3 -35 7 -15 1 -10-3 0-248 7-3 8-1 5 1 15 8 5 0 10-3 14-10 10-5 16-5z"/>
<path fill="#f20000" d="M472 2104l20-3 5 1 5 1 5 5 11 17 5 10 9 30 5 25 4 25 4 10 9 15 1 5 -2 5 -4 5 -6 5 -11 7 -26 13 -13 10 -6 10 -7 25 -3 6 -21 14 -14 8 -35 8 -10 0 -5-1 -7-5 -3-4 0-41 7-35 9-25 0-5 -8-30 -8-45 0-18 2-12 5-10 3-5 5-1 5 1 5 4 5 2 5 0 15-5 24-16 16-6zM692 2113l0 193 -35-6 -18-5 -14-5 -23-17 -16-18 -4-5 -2-5 2-10 6-10 19-16 45-49 14-15 11-8 4-7 6-11 5-6z"/>
<path fill="#d90000" d="M472 2110l15-3 10 1 5 3 5 6 8 13 12 34 5 21 4 30 3 15 -1 10 -5 10 -11 9 -46 21 -4 5 -1 20 -2 10 -3 5 -4 4 -15 7 -15 9 -10 2 -5 0 -4-2 -1-5 5-20 -1-25 2-10 9-20 1-10 -1-10 -6-20 -1-10 1-10 3-15 -1-5 -6-15 0-10 2-5 3-5 10-10 20-16 10-6 10-3zM692 2130l0 154 -25-2 -15-3 -10-4 -24-15 -6-5 -9-10 -2-5 -1-5 1-5 3-5 27-35 21-21 20-13 13-16 7-10z"/>
<path fill="#c00000" d="M477 2115l10-1 5 1 5 2 5 4 7 9 4 10 13 40 2 15 1 20 0 10 -2 10 -3 5 -4 5 -8 5 -10 4 -10 3 -10 1 -10-1 -10-2 -5-3 -5-6 -5-9 -4-12 -2-10 0-35 -4-20 1-10 2-5 11-15 12-10 14-5zM687 2169l5-3 0 95 -15 2 -10-1 -15-3 -10-4 -14-10 -6-10 -1-10 5-15 11-17 15-14 10-5 15-1 10-4zM442 2290l5 0 5 5 2 5 -1 5 -6 7 -5 3 -5 0 -4-5 -1-5 4-10 6-5z"/>
<path fill="#a60000" d="M477 2123l10-1 5 1 5 3 5 6 5 9 12 34 2 10 2 25 -1 9 -2 6 -3 6 -5 5 -5 3 -10 3 -15-1 -11-6 -9-10 -4-10 -2-10 -5-40 1-15 4-10 6-7 5-5 10-5zM662 2185l10 0 20 4 0 45 -15 5 -15 0 -10-2 -5-3 -5-5 -2-4 -2-10 2-10 2-5 4-5 5-5 11-5z"/>
<path fill="#8d0000" d="M477 2135l5-2 5 0 5 1 5 5 3 6 5 15 8 20 2 25 -1 10 -2 6 -5 5 -5 1 -10 0 -5-2 -5-4 -5-6 -5-11 -6-34 0-15 3-10 3-5 5-5z"/>
</g></g>
<g clip-path="url(#ce1)"><g filter="url(#sm)">
<rect x="678" y="1973" width="314" height="673" fill="#0000b1"/>
<path fill="#0000c7" d="M695 1985l285 0 0 649 -10-7 -5-3 -10-2 -10 0 -55 3 -30 1 -85-2 -50-3 -20 3 -15 6 0-645 5 0z"/>
<path fill="#0000dd" d="M695 1985l285 0 0 624 -20-7 -10-1 -20 1 -30 6 -35 0 -30 2 -35-4 -30-1 -30-6 -20-1 -10 2 -20 6 0-621 5 0z"/>
<path fill="#0000f4" d="M695 1985l285 0 0 604 -10-4 -10-2 -20 1 -55 6 -25 1 -55-2 -45-6 -40-3 -15 0 -15 4 0-599 5 0z"/>
<path fill="#000dff" d="M695 1985l285 0 0 588 -15-4 -10 0 -75 8 -20 1 -55-3 -40-6 -45-3 -15 0 -15 3 0-584 5 0z"/>
<path fill="#0026ff" d="M695 1985l285 0 0 576 -15-3 -10 0 -75 8 -20 0 -55-2 -45-6 -45-3 -10 0 -15 2 0-572 5 0z"/>
<path fill="#0040ff" d="M695 1985l285 0 0 566 -10-2 -10 0 -30 3 -30 2 -25 3 -15 0 -60-3 -40-6 -50-3 -20 2 0-562 5 0z"/>
<path fill="#0059ff" d="M695 1985l285 0 0 557 -15-2 -35 4 -30 1 -20 3 -15 1 -30-2 -35-1 -35-6 -30-1 -30-2 -15 1 0-553 5 0z"/>
<path fill="#0073ff" d="M695 1985l285 0 0 550 -15-2 -30 4 -35 1 -20 3 -15 1 -30-3 -35 0 -35-7 -30 0 -30-3 -15 2 0-546 5 0z"/>
<path fill="#008cff" d="M695 1985l285 0 0 543 -15-1 -30 4 -35 1 -20 3 -15 1 -30-3 -35 0 -35-7 -30 0 -30-3 -15 1 0-539 5 0z"/>
<path fill="#00a6ff" d="M695 1985l285 0 0 538 -15-2 -35 5 -30 0 -25 4 -15 0 -25-2 -30 0 -40-7 -30 0 -30-3 -15 1 0-534 5 0z"/>
<path fill="#00bfff" d="M695 1985l285 0 0 533 -15-1 -40 4 -65 4 -55-2 -40-6 -60-4 -15 1 0-529 5 0z"/>
<path fill="#00d9ff" d="M695 1985l285 0 0 528 -25 0 -75 6 -25 1 -45-2 -40-5 -35-3 -45-1 0-524 5 0z"/>
<path fill="#00f2ff" d="M695 1985l285 0 0 524 -30 0 -50 5 -65 1 -100-10 -45 0 0-520 5 0z"/>
<path fill="#0dfff2" d="M695 1985l285 0 0 520 -35-1 -45 6 -30 0 -35 1 -40-5 -30-2 -30-5 -45 2 0-516 5 0z"/>
<path fill="#26ffd9" d="M695 1985l285 0 0 515 -40-2 -40 7 -30-1 -35 3 -40-6 -30-1 -30-6 -10 0 -20 3 -15-1 0-511 5 0z"/>
<path fill="#40ffbf" d="M695 1985l285 0 0 511 -15-1 -25-3 -10 1 -20 6 -10 2 -30-2 -35 3 -10-1 -30-5 -30-1 -30-8 -10 0 -20 5 -15-1 0-506 5 0z"/>
<path fill="#59ffa6" d="M695 1985l285 0 0 506 -10 0 -25-5 -10 0 -10 2 -15 6 -10 2 -30-3 -35 5 -10-2 -20-5 -10-1 -30 0 -20-9 -10-3 -10 1 -20 7 -5 1 -10-1 0-501 5 0z"/>
<path fill="#73ff8c" d="M695 1985l285 0 0 500 -10 0 -20-7 -15-1 -10 2 -15 7 -10 4 -20-4 -10 0 -10 1 -20 5 -10 0 -25-8 -10-2 -10 1 -15 2 -5-1 -7-4 -13-10 -10-2 -15 2 -15 9 -5 1 -10-2 0-493 5 0z"/>
<path fill="#8cff73" d="M695 1985l285 0 0 492 -10-1 -20-8 -15-2 -15 3 -20 10 -15-2 -10-1 -15 3 -20 6 -10 1 -30-11 -10-2 -20 1 -5-2 -14-12 -6-2 -5-1 -15 3 -25 2 -10-2 0-475 5 0z"/>
<path fill="#a6ff59" d="M695 1985l285 0 0 481 -25-7 -20-2 -15 0 -40 8 -40 12 -10 1 -20-9 -14-4 -21-4 -28-11 -7 0 -10 4 -10 1 -10-1 -20-6 0-463 5 0z"/>
<path fill="#bfff40" d="M695 1985l285 0 0 472 -35-7 -20-1 -10 0 -34 6 -36 12 -10 3 -5-1 -24-9 -31-6 -28-9 -7 0 -10 5 -10 1 -10-1 -15-7 -5-1 0-457 5 0z"/>
<path fill="#d9ff26" d="M695 1985l285 0 0 466 -40-7 -20-1 -35 5 -40 12 -10 1 -30-7 -30-5 -25-7 -10 0 -15 6 -10 0 -5-1 -15-8 -5-2 0-452 5 0z"/>
<path fill="#f2ff0d" d="M695 1985l285 0 0 461 -15-2 -30-6 -15-1 -55 10 -25 6 -10 1 -25-6 -25-2 -30-8 -10 1 -15 7 -10 0 -5-2 -15-9 -5-2 0-448 5 0z"/>
<path fill="#fff200" d="M735 1985l245 0 0 456 -13-1 -32-8 -10-1 -45 8 -20 2 -25 6 -10 0 -20-5 -25-1 -25-6 -5 0 -10 2 -15 7 -5 1 -10-3 -15-10 -5-2 0-397 13 7 7 1 5-3 15-16 15-9 3-3 0-5 -3-6 -12-14 2 0z"/>
<path fill="#ffd900" d="M775 1985l205 0 0 450 -12 0 -33-10 -10 0 -45 8 -25-1 -15 6 -10 1 -5 0 -20-6 -25 3 -20-4 -10 0 -10 3 -15 7 -5 1 -5-1 -5-2 -15-12 -5-2 0-350 25 5 5-1 5-3 4-7 13-30 5-5 18-10 3-5 4-10 2-25 1 0zM860 1990l-5 3 -5 5 -3 7 -3 10 -15 105 -2 15 2 10 2 5 14 21 7 14 8 25 5 30 5 5 2-15 4-15 4-50 0-20 -3-80 6-55 -1-10 -7-7 -10-3 -5 0zM782 2245l-7 5 -10 10 -2 5 -1 10 3 7 14 18 4 15 10 15 2 5 2 10 -1 25 1 5 8 14 5 5 5 0 5-1 3-3 6-10 6-16 4-19 1-15 -4-40 -3-15 -3-11 -5-9 -5-5 -5-3 -10-4 -10-1 -5 0 -8 3z"/>
<path fill="#ffbf00" d="M890 1985l90 0 0 442 -10 1 -5-1 -25-9 -10-1 -10 1 -30 7 -15 0 -25-8 -4-2 -3-5 -1-5 1-10 16-45 8-35 4-10 8-15 2-10 -1-25 5-50 2-40 -2-100 6-55 -1-12 -4-13 4 0zM800 2045l0 5 0-5zM765 2090l10-3 5 1 5 3 10 10 3 4 3 5 0 5 -2 5 -14 17 -16 23 -9 10 -15 13 -5 7 -3 10 0 10 3 9 8 11 5 10 0 5 -2 20 1 15 3 7 9 13 6 17 8 13 4 10 1 10 -2 20 0 5 9 20 1 10 0 10 -1 5 -3 5 -7 3 -5 1 -15-1 -10 1 -25 11 -5 1 -5-1 -5-2 -10-9 -10-6 0-323 15 4 15 9 5 1 5 1 9-5 16-14 10-6z"/>
<path fill="#ffa600" d="M895 1985l85 0 0 429 -15-1 -15-7 -10-2 -10 1 -40 10 -15 0 -12-5 -5-5 -2-5 1-10 11-25 17-53 5-17 1-10 0-10 -4-15 -1-10 3-20 4-60 -4-105 7-55 -1-25zM695 2120l15 3 30 10 4 2 3 5 1 5 -2 10 -14 25 -6 15 -2 10 1 5 3 10 10 15 5 10 2 28 3 12 13 25 12 30 1 10 -1 25 7 25 -1 10 -4 7 -6 3 -19 5 -20 11 -10 3 -5-1 -5-2 -10-10 -10-7 0-299 5 0z"/>
<path fill="#ff8c00" d="M905 1985l75 0 0 413 -10-2 -5-3 -10-9 -5-3 -5-1 -10 1 -25 10 -15 4 -15 3 -5-3 8-15 3-10 11-45 3-30 1-10 -2-10 -7-20 -1-5 3-15 0-20 2-15 -1-15 2-15 -3-105 6-50 2-30 3 0zM695 2144l10-1 5 1 7 6 2 5 -2 20 -7 25 1 10 4 10 15 19 5 8 2 8 4 25 3 10 15 30 6 15 2 10 -1 30 4 20 -1 10 -3 5 -7 5 -29 18 -5 3 -5 1 -5-1 -5-3 -10-11 -10-7 0-270 5-1z"/>
<path fill="#ff7300" d="M910 1989l2-4 68 0 0 399 -10-2 -5-3 -15-11 -20-11 -7-7 -3-5 -3-10 -7-60 -3-10 -7-9 -2-6 3-15 -2-20 3-15 -1-15 2-15 -2-35 0-30 -2-15 0-30 6-45 1-15 4-11zM690 2225l30 17 8 8 4 10 4 25 3 10 5 10 10 15 6 20 0 10 -1 25 1 20 -1 5 -7 10 -14 15 -8 6 -10 4 -5-1 -5-4 -10-12 -10-9 0-184z"/>
<path fill="#ff5900" d="M945 1985l35 0 0 385 -5 0 -5-2 -4-3 -12-15 -5-10 -22-65 -2-10 2-15 -2-10 -2-5 -8-12 -3-8 1-15 -1-15 1-15 -3-15 -1-20 1-7 5-11 2-2 0-5 -7-14 -1-6 -3-30 4-17 11-13 1-5 -1-15 2-5 17-10 5-10zM700 2259l15-3 5 2 2 2 3 6 10 39 14 20 4 15 0 15 -4 35 -4 15 -4 10 -7 10 -9 6 -5 1 -5-1 -5-5 -20-27 0-137 10-3z"/>
<path fill="#ff4000" d="M975 1999l5-3 0 106 -10-9 -5-8 -1-5 2-5 9-15 3-10 -1-10 -9-20 -2-5 1-5 2-5 6-6zM975 2244l5-3 0 46 -5-7 -5-10 -2-10 0-5 1-5 6-6zM705 2289l5 0 5 1 4 5 8 20 12 15 3 10 0 15 -4 25 -2 25 -1 10 -3 5 -4 5 -8 3 -6-3 -9-15 -10-29 -5-9 0-78 15-5z"/>
<path fill="#ff2600" d="M720 2401l5 9 0 5 -5 5 -5-10 1-5 4-4z"/>
</g></g>
<g clip-path="url(#ceA)"><path d="M392.8 2060.7l20.8 3.3 16.8-5 16.8-11.8 20.2-5 6.7-11.8 6.7-30.2M583.4 2000.2l1.6 30.2 -1.6 33.6 -3.4 23.6 8.4 13.4 23.5 5.1 10.1-3.4M665.7 2040.5l0-16.8 -1.7-23.5M392.8 2080.8l71.2-3.3 23.6 0 10-10.1 11.8-6.7 8.4 6.7 10.1 23.5 13.4 10.1 10.1 20.2 3.4 23.5 6.7 30.3 47.1-26.9 20.9-9M636.9 2134.1l12-9.6 13.5 0 6.7-20.1 6.7-16.8 8.4-10.1M392.8 2102.7l14.1 1.7 16.8 8.4 16.8-11.8 23.5-10.1 23.6-3.3 21.8-1.7 25.2 38.6 10.1 33.7 6.7 30.2 10.1 31.9 13.5-8.4 15.1-8.4 6.4-6.4M646.3 2142.5l26.1-31.4 11.8-16.8M392.8 2380.7l20.8-2.7 33.6-6.7 7.6-4.6M519.3 2328.3l5.2-3.1 16.8-6.7 10.1-8.4 6.8-8.4 6.7 11.7 6.7 10.1 16.8 5.1 -13.4 8.4 -5.1 7.5 -1.7 2.6 3.4 10 -13.4 10.1 0 6.7 10 1.7 13.5-6.7 16.8 0 13.4 3.4 1.7-8.4 -10.1-6.8 -1.7-10 8.5-10.1 8.4 5 10 15.1 13.5 6.8 10.1 10 10.1 6.8 21.8-1.7M392.8 2409.2l27.5-10 26.9 1.6 20.2 0 23.5-5 20.2-11.8 10.1 10.1 20.1 10.1 20.2 6.7 20.2 3.4 13.4-10.1 13.5-5 20.1 1.6 16.8 10.1 12.8 6.7M392.8 2449.6l17.5-8.4 15.1-4.1 12.2-.6M509.4 2430.7l11.8-1.3 13.4 18.5 20.2-5 13.4 1.6 16.8 3.4 13.5-10.1 16.8-3.3 20.2 3.3 22.8 6.7M781.7 2000.2l-3.4 36.9 -11.7 3.4 -16.9-3.4 -3.3 16.8 -8.4 13.5 1.7 16.8 -6.8 16.8 -6.7 10.1 -6.7-13.5 -8.4-6.7 -11.1-3.3M833.8 2000.2l-13.5 90.7 -6.7 37 -13.4 23.5 -16.8 20.2 -20.2 13.4 -18.5 6.8 -3.4 20.1 8.4 10.1 21.9 6.7 -8.4 20.2 -11.8 13.5 1.7 20.1 13.5 13.5 5 24.2 1.7 0 13.4 13.4 1.7 23.5 -6.7 16.8 13.4 13.5 3.4 16.8 3.3 23.5 11.8-13.4 16.8-10.1 15.1-37 6.8-23.5 1.6-23.5 -3.3 0 -3.4-20.9 0-40.3 6.7-16.8 6.8 6.7 11.7 40.3 5.1-6.7 6.7-67.2 3.4-60.5 -3.4-90.8 5-40.3 1.7-23.5M827.1 2166.6l-16.8 15.1 -21.9 30.2 8.4 15.2 20.2 5 33.6-.7 3.3-16.1 -13.4-33.6 -13.4-15.1M956.5 2000.2l0 23.5 -1.7 20.2 -.6 17.9M952 2133.5l-.6 54.9 -23.5 3.4 -1.7 16.8 13.5 6.7 1.6 13.4 -10 16.8 -3.4 20.2 5 16.8 11.8 16.8 3.4 20.9 3.3-3.4 3.4 23.5 15.1 30.3M700 2275.8l24.5-20.2 5.1 26.9 1.7 23.6 1.6-6.1 3.4 13.4 13.4 6.8 3.4 23.5 -1.7 16.8M731.3 2431.1l-5.1 3.4 -10.1 3.3 -8.4-10.1 -7.7-13.4M700 2427.7l7.7 10.1 15.2 5.1 13.4-8.4 2.7-1.1M744.4 2431.4l5.3-2 16.9 5.1 16.8 3.3 16.8-8.4 16.8 5.1 10.1 5 16.8-5 10-10.1 23.6 8.4 20.1-3.4 20.2-6.7 13.5-1.7 38.6 16.8M700 2441.2l16.1 6.7 10.1 3.4 10.1-10.1 5.8 1.9M812.7 2463.3l6 1.4 10 11.8 38.7-15.2 23.5-8.4 26.9-3.3 52.1 3.3M864 2323.5l15.2-8.4 1.6 20.2 -16.8-1.7 0-10.1M684.2 2235.5l-8.4 10 1.7 13.5 6.7 3.4" fill="none" stroke="#0c0c14" stroke-width="1.9" stroke-linejoin="round" stroke-opacity="0.9"/></g>
<text transform="translate(643.9 2071.4) rotate(-55)" font-size="33.5" text-anchor="middle" fill="#15151c" fill-opacity="0.88" stroke="none" font-family="'Liberation Sans','DejaVu Sans',sans-serif" y="12.1">20.6</text>
<text transform="translate(622.0 2170.9) rotate(-50)" font-size="33.5" text-anchor="middle" fill="#15151c" fill-opacity="0.88" stroke="none" font-family="'Liberation Sans','DejaVu Sans',sans-serif" y="12.1">21.6</text>
<text transform="translate(953.1 2097.6) rotate(-90)" font-size="33.5" text-anchor="middle" fill="#15151c" fill-opacity="0.88" stroke="none" font-family="'Liberation Sans','DejaVu Sans',sans-serif" y="12.1">21.6</text>
<text transform="translate(485.9 2347.1) rotate(-30)" font-size="33.5" text-anchor="middle" fill="#15151c" fill-opacity="0.88" stroke="none" font-family="'Liberation Sans','DejaVu Sans',sans-serif" y="12.1">21.6</text>
<text transform="translate(474.1 2437.8) rotate(-3)" font-size="33.5" text-anchor="middle" fill="#15151c" fill-opacity="0.88" stroke="none" font-family="'Liberation Sans','DejaVu Sans',sans-serif" y="12.1">20.6</text>
<text transform="translate(744.7 2396.8) rotate(-65)" font-size="33.5" text-anchor="middle" fill="#15151c" fill-opacity="0.88" stroke="none" font-family="'Liberation Sans','DejaVu Sans',sans-serif" y="12.1">21.6</text>
<text transform="translate(776.6 2454.6) rotate(15)" font-size="33.5" text-anchor="middle" fill="#15151c" fill-opacity="0.88" stroke="none" font-family="'Liberation Sans','DejaVu Sans',sans-serif" y="12.1">20.6</text>
<g class="t">
<text x="180.6" y="1994.7" font-size="48.5" text-anchor="end" fill="#262626" font-family="'Liberation Serif','DejaVu Serif',serif">0</text>
<text x="180.6" y="2102" font-size="48.5" text-anchor="end" fill="#262626" font-family="'Liberation Serif','DejaVu Serif',serif">20</text>
<text x="180.6" y="2209.4" font-size="48.5" text-anchor="end" fill="#262626" font-family="'Liberation Serif','DejaVu Serif',serif">40</text>
<text x="180.6" y="2316.7" font-size="48.5" text-anchor="end" fill="#262626" font-family="'Liberation Serif','DejaVu Serif',serif">60</text>
<text x="180.6" y="2424" font-size="48.5" text-anchor="end" fill="#262626" font-family="'Liberation Serif','DejaVu Serif',serif">80</text>
<text x="180.6" y="2531.4" font-size="48.5" text-anchor="end" fill="#262626" font-family="'Liberation Serif','DejaVu Serif',serif">100</text>
<text x="180.6" y="2638.7" font-size="48.5" text-anchor="end" fill="#262626" font-family="'Liberation Serif','DejaVu Serif',serif">120</text>
<text x="327" y="2683.7" font-size="48.5" text-anchor="middle" fill="#262626" font-family="'Liberation Serif','DejaVu Serif',serif">-88.4</text>
<text x="515.9" y="2683.7" font-size="48.5" text-anchor="middle" fill="#262626" font-family="'Liberation Serif','DejaVu Serif',serif">-88.35</text>
<text x="704.8" y="2683.7" font-size="48.5" text-anchor="middle" fill="#262626" font-family="'Liberation Serif','DejaVu Serif',serif">-88.3</text>
<text x="893.8" y="2683.7" font-size="48.5" text-anchor="middle" fill="#262626" font-family="'Liberation Serif','DejaVu Serif',serif">-88.25</text>
<rect x="984" y="1978.5" width="50.4" height="646.1" fill="url(#jet)" stroke="#262626" stroke-width="1.6"/>
<text x="1047.9" y="2617.2" font-size="45" text-anchor="start" fill="#262626" font-family="'Liberation Serif','DejaVu Serif',serif">18.5</text>
<text x="1047.9" y="2539.4" font-size="45" text-anchor="start" fill="#262626" font-family="'Liberation Serif','DejaVu Serif',serif">19</text>
<text x="1047.9" y="2461.7" font-size="45" text-anchor="start" fill="#262626" font-family="'Liberation Serif','DejaVu Serif',serif">19.5</text>
<text x="1047.9" y="2383.9" font-size="45" text-anchor="start" fill="#262626" font-family="'Liberation Serif','DejaVu Serif',serif">20</text>
<text x="1047.9" y="2306.1" font-size="45" text-anchor="start" fill="#262626" font-family="'Liberation Serif','DejaVu Serif',serif">20.5</text>
<text x="1047.9" y="2228.4" font-size="45" text-anchor="start" fill="#262626" font-family="'Liberation Serif','DejaVu Serif',serif">21</text>
<text x="1047.9" y="2150.6" font-size="45" text-anchor="start" fill="#262626" font-family="'Liberation Serif','DejaVu Serif',serif">21.5</text>
<text x="1047.9" y="2072.8" font-size="45" text-anchor="start" fill="#262626" font-family="'Liberation Serif','DejaVu Serif',serif">22</text>
<text x="1047.9" y="1995.1" font-size="45" text-anchor="start" fill="#262626" font-family="'Liberation Serif','DejaVu Serif',serif">22.5</text>
<path d="M1034.4 2602.2h-6M1034.4 2524.4h-6M1034.4 2446.7h-6M1034.4 2368.9h-6M1034.4 2291.1h-6M1034.4 2213.4h-6M1034.4 2135.6h-6M1034.4 2057.8h-6M1034.4 1980.1h-6" stroke="#262626" stroke-width="1.3" fill="none"/>
<text transform="translate(1187.7 2301.6) rotate(-90)" font-size="45" text-anchor="middle" fill="#262626" font-family="'Liberation Serif','DejaVu Serif',serif"><tspan dy="-22" font-size="33">o</tspan><tspan dy="22">C</tspan></text>
<text transform="translate(88.7 2302.8) rotate(-90)" font-size="53.7" text-anchor="middle" fill="#262626" font-family="'Liberation Serif','DejaVu Serif',serif">Depth (m)</text>
<text x="434.8" y="2764.2" font-size="53.7" text-anchor="start" fill="#262626" font-family="'Liberation Serif','DejaVu Serif',serif">Longitude (<tspan dx="2" dy="-27.5" font-size="40">o</tspan><tspan dx="2.5" dy="27.5">)</tspan></text>
<text x="133" y="1910.8" font-size="50" text-anchor="start" fill="#000" font-family="'Liberation Serif','DejaVu Serif',serif">(e)</text>
</g>
<g fill="#25d825" stroke="#0b5a0b" stroke-width="2.4"><circle cx="707.5" cy="1978.9" r="5.6"/><circle cx="718.3" cy="1978.9" r="5.6"/><circle cx="726.3" cy="1978.9" r="5.6"/><circle cx="742.8" cy="1978.9" r="5.6"/><circle cx="755" cy="1978.9" r="5.6"/><circle cx="773.8" cy="1978.9" r="5.6"/><circle cx="787.3" cy="1978.9" r="5.6"/><circle cx="805.2" cy="1978.9" r="5.6"/><circle cx="819.6" cy="1978.9" r="5.6"/><circle cx="830.3" cy="1978.9" r="5.6"/><circle cx="836.5" cy="1978.9" r="5.6"/><circle cx="842.9" cy="1978.9" r="5.6"/><circle cx="858.1" cy="1978.9" r="5.6"/></g>
</g>
<g id="panel-f">
<rect x="1396.4" y="1979.2" width="770.4" height="644" fill="#fff" stroke="#262626" stroke-width="2"/>
<path d="M1396.4 2086.5h7.5M2166.8 2086.5h-7.5M1396.4 2193.9h7.5M2166.8 2193.9h-7.5M1396.4 2301.2h7.5M2166.8 2301.2h-7.5M1396.4 2408.5h7.5M2166.8 2408.5h-7.5M1396.4 2515.9h7.5M2166.8 2515.9h-7.5M1527.4 2623.2v-7.5M1527.4 1979.2v7.5M1715.4 2623.2v-7.5M1715.4 1979.2v7.5M1903.3 2623.2v-7.5M1903.3 1979.2v7.5M2091.3 2623.2v-7.5M2091.3 1979.2v7.5" stroke="#262626" stroke-width="1.6" fill="none"/>
<g clip-path="url(#cf0)"><g filter="url(#sm)">
<rect x="1384" y="1973" width="809" height="673" fill="#00009a"/>
<path fill="#0000b1" d="M1401 1985l780 0 0 650 -448 0 -42-1 -50 1 -245 0 0-650 5 0z"/>
<path fill="#0000c7" d="M1401 1985l780 0 0 650 -183 0 -32-4 -120-9 -50 2 -40-4 -50-3 -65 2 -45-2 -80 3 -50 4 -45 1 -10 1 -5 2 -10 6 0-649 5 0z"/>
<path fill="#0000dd" d="M1401 1985l780 0 0 644 -15-7 -15-2 -15 1 -40 6 -15 0 -105-11 -65-1 -65-7 -50 2 -40-4 -50-2 -65 1 -55-2 -60 3 -65 4 -30 1 -15 2 -20 6 0-634 5 0z"/>
<path fill="#0000f4" d="M1401 1985l780 0 0 625 -20-6 -15-2 -15 1 -35 9 -10 1 -35-4 -30-2 -60-5 -35 3 -20-1 -50-8 -55 0 -80-5 -35 0 -115-1 -135 8 -20 3 -20 6 0-622 5 0z"/>
<path fill="#000dff" d="M1401 1985l780 0 0 608 -20-7 -10-1 -30 3 -10 3 -15 5 -10 2 -35-4 -60 0 -35-3 -25 4 -15 1 -15-1 -10-2 -25-9 -5-1 -35 3 -30-3 -35 0 -30-5 -45 2 -20-1 -25-3 -45 3 -40-3 -45 7 -50 0 -45 7 -20 6 0-611 5 0z"/>
<path fill="#0026ff" d="M1401 1985l780 0 0 592 -15-6 -10-1 -40 3 -25 1 -15 4 -15 2 -35 0 -35 4 -35-2 -25 5 -15 1 -20-2 -10-3 -16-8 -9-1 -20 3 -15 0 -30-5 -20 2 -15 0 -30-6 -40 3 -20-1 -30-5 -45 4 -40-4 -10 1 -25 6 -15 2 -15 0 -30-2 -25 5 -25 4 -15 4 0-600 5 0z"/>
<path fill="#0040ff" d="M1401 1985l780 0 0 579 -13-4 -7-1 -45 2 -25 0 -35 8 -35 1 -20 4 -15 2 -30-1 -25 5 -15 1 -20-2 -25-10 -10-1 -30 3 -10-1 -25-4 -20 1 -15 0 -30-5 -40 1 -15-1 -35-5 -45 3 -40-3 -10 1 -25 5 -15 2 -15 1 -30-2 -25 6 -25 2 -15 4 0-591 5 0z"/>
<path fill="#0059ff" d="M1401 1985l780 0 0 570 -15-4 -10-1 -60 2 -10 2 -30 6 -35 2 -30 7 -15 1 -20 0 -25 4 -15 1 -20-2 -25-9 -10-1 -35 2 -30-4 -30 0 -35-5 -45-1 -45-5 -45 2 -40-2 -50 8 -45 0 -25 5 -25 3 -15 3 0-584 5 0z"/>
<path fill="#0073ff" d="M1401 1985l780 0 0 562 -15-4 -10-1 -20 0 -20 1 -30 3 -35 7 -30 3 -35 7 -30 2 -35 5 -20-2 -35-9 -40 0 -30-3 -30-1 -35-5 -40-2 -55-5 -85 1 -45 7 -45 2 -65 10 0-578 5 0z"/>
<path fill="#008cff" d="M1401 1985l780 0 0 554 -30-5 -15 0 -15 0 -100 16 -45 9 -55 6 -20-2 -35-7 -45-2 -160-15 -35-2 -75 2 -50 6 -40 2 -65 10 0-572 5 0z"/>
<path fill="#00a6ff" d="M1401 1985l780 0 0 547 -35-6 -25 0 -55 10 -100 20 -40 4 -20-1 -40-7 -40-2 -45-4 -110-13 -55-3 -40 1 -40 3 -80 9 -60 9 0-567 5 0z"/>
<path fill="#00bfff" d="M1401 1985l780 0 0 541 -35-8 -10 0 -15 0 -30 7 -30 5 -35 9 -25 4 -40 10 -35 2 -20 0 -50-8 -65-4 -120-17 -60-3 -35 2 -55 5 -75 9 -35 7 -15 1 0-562 5 0z"/>
<path fill="#00d9ff" d="M1401 1985l780 0 0 534 -35-8 -10-1 -15 1 -35 8 -30 5 -30 9 -30 5 -35 10 -10 2 -20 1 -25-1 -50-7 -60-4 -30-5 -40-5 -55-9 -55-4 -35 2 -70 7 -45 7 -30 3 -25 6 -15 1 0-557 5 0z"/>
<path fill="#00f2ff" d="M1401 1985l780 0 0 527 -35-9 -15-1 -15 1 -60 14 -35 11 -25 4 -40 13 -15 1 -35 0 -50-7 -60-4 -30-6 -35-4 -60-12 -50-4 -30 2 -85 8 -20 3 -20 5 -30 2 -25 6 -15 1 0-551 5 0z"/>
<path fill="#0dfff2" d="M1401 1985l780 0 0 520 -30-9 -20-1 -15 1 -65 15 -30 10 -30 6 -35 13 -30 2 -25-1 -40-6 -62-5 -28-6 -40-5 -60-14 -40-3 -25 1 -55 5 -60 7 -30 6 -25 2 -25 6 -15 1 0-545 5 0z"/>
<path fill="#26ffd9" d="M1401 1985l780 0 0 513 -15-6 -10-2 -25-2 -20 1 -60 14 -30 10 -25 6 -40 15 -10 2 -30 2 -15-1 -35-5 -65-7 -25-5 -50-7 -55-15 -15-2 -25-1 -25 0 -75 10 -35 3 -35 5 -30 3 -25 6 -10 0 0-537 5 0z"/>
<path fill="#40ffbf" d="M1401 1985l780 0 0 506 -20-6 -25-3 -25 0 -65 15 -45 13 -15 5 -30 14 -10 2 -35 3 -15-2 -30-5 -35-3 -50-9 -45-6 -20-4 -35-12 -15-4 -40-2 -15 0 -35 7 -40 5 -45 2 -55 7 -40 6 0-529 5 0z"/>
<path fill="#59ffa6" d="M1401 1985l780 0 0 501 -15-5 -20-3 -30-3 -10 1 -20 5 -45 10 -35 9 -20 8 -30 15 -45 6 -15-1 -25-5 -35-3 -50-11 -55-6 -15-4 -35-14 -20-4 -45-2 -10 2 -35 8 -30 4 -15 1 -35 0 -50 5 -45 6 0-520 5 0z"/>
<path fill="#73ff8c" d="M1401 1985l780 0 0 497 -35-9 -35-4 -10 1 -25 7 -40 7 -25 6 -30 13 -25 13 -40 8 -10 1 -10-1 -25-7 -35-2 -40-11 -45-3 -20-3 -15-5 -35-16 -20-5 -20 1 -25-2 -10 2 -30 9 -30 5 -20 1 -30-2 -25 3 -30 2 -45 5 0-511 5 0zM1436 2055l-5 6 -3 9 0 10 2 5 6 3 5 1 5-1 8-3 7-5 2-5 1-5 -2-5 -6-5 -10-5 -5-1 -5 1z"/>
<path fill="#8cff73" d="M1401 1985l3 0 1 35 9 40 3 20 3 5 5 5 6 3 10 1 15-3 12-6 7-5 5-5 6-10 1-5 -1-6 -5-6 -11-8 -3-5 0-5 0-10 4-11 5-9 11-15 694 0 0 493 -35-8 -20-3 -15-3 -10 0 -35 9 -50 8 -40 17 -20 11 -5 1 -15 2 -20 7 -10 1 -10-1 -15-6 -10-2 -25 0 -10-1 -10-3 -15-7 -10-3 -50-1 -20-3 -15-6 -30-16 -15-5 -10-2 -20 1 -30-1 -35 12 -20 4 -15 2 -15 1 -20-5 -10-1 -25 5 -30 0 -45 7 0-504 5 0z"/>
<path fill="#a6ff59" d="M1676 1985l505 0 0 490 -15-3 -20-6 -20-2 -15-4 -10-1 -35 9 -55 7 -20 11 -35 15 -10 2 -15-1 -15 10 -10 3 -10-2 -15-8 -10-4 -10 0 -15 3 -5 1 -15-4 -20-10 -10-1 -35 1 -25-3 -15-5 -32-18 -15-5 -13-3 -25 2 -25-3 -10 3 -25 11 -35 6 -15 0 -20-7 -10-1 -10 1 -20 7 -20-2 -35 7 -15 1 0-425 5 7 8 16 8 10 9 5 5 2 10 0 13-2 28-10 10-5 37-25 2-2 5-1 6 3 9 1 26-11 4-3 10-9 5-1 5 2 3 11 4 5 8 2 10-1 6-6 5-20 5-10 9-10 20-15 5-5zM1531 2034l5 1 2 5 -2 6 -5 0 -3-6 1-5 2-1z"/>
<path fill="#bfff40" d="M1751 1985l430 0 0 487 -15-3 -20-6 -20-2 -15-5 -6-1 -24 6 -15 3 -55 6 -20 12 -35 14 -10 1 -15-6 -5 0 -15 14 -5 1 -5 0 -23-11 -12-3 -10 2 -10 3 -10 0 -10-3 -15-8 -5-2 -35 2 -35-4 -10-4 -30-17 -20-6 -15-3 -25 2 -20-3 -10 0 -35 14 -20 3 -15 2 -10-2 -20-8 -15-1 -7 1 -18 7 -20 0 -25 6 -25 3 0-401 15 15 8 5 12 4 10 1 10-2 20-5 16-3 9-3 20-9 10-3 10 1 15 5 5-1 10-7 10-3 30-1 20-3 12-6 13-11 5-2 5-1 5 2 15 8 10 0 25-8 10-7 5-5 7-11 7-15 3-10 2-15 1 0z"/>
<path fill="#d9ff26" d="M1786 1985l395 0 0 484 -15-2 -20-7 -20-2 -15-6 -5 0 -25 6 -45 6 -25 2 -25 14 -30 12 -10 0 -15-6 -5-1 -5 2 -10 6 -5 2 -5 1 -35-9 -25 4 -5 0 -5-2 -15-7 -10-3 -30 2 -35-5 -10-3 -30-16 -40-10 -25 4 -20-5 -10 0 -35 12 -15 3 -15 1 -10-1 -25-9 -15-2 -25 7 -20 3 -20 7 -15 2 -15 0 0-385 17 11 12 5 11 2 10-1 25-5 21-1 9-3 15-7 10-3 10 1 15 5 5 0 20-9 25-1 15-3 20-7 15-10 5-2 5 0 5 1 15 7 10 2 30-7 10-3 10-6 5-5 15-18 18-12 5-10 2-20z"/>
<path fill="#f2ff0d" d="M1821 1985l360 0 0 481 -10-1 -20-7 -25-3 -15-6 -5 0 -25 6 -25 2 -25 4 -20 1 -5 2 -20 12 -30 12 -10 0 -15-6 -5-1 -5 1 -15 6 -10 1 -30-7 -20 3 -10-1 -15-6 -10-3 -10 0 -20 2 -10-1 -35-9 -20-11 -10-3 -45-10 -25 4 -20-5 -10-1 -35 10 -15 3 -10 0 -15-2 -25-9 -15-1 -40 10 -25 11 -10 1 -20-2 0-373 23 11 12 3 15 0 25-5 20 3 10-2 15-9 10-3 10 1 15 5 5 1 5-1 15-6 20-1 15-2 15-5 30-17 5 0 5 1 15 7 15 3 30-2 25-7 10-2 5 1 15 5 5-1 20-22 5-10 3-10 1-10 1-30 5 0z"/>
<path fill="#fff200" d="M1841 1989l0-4 340 0 0 477 -10 0 -20-6 -20-2 -20-8 -5 0 -20 5 -30 2 -25 4 -20 1 -5 2 -25 15 -20 8 -10 2 -5-1 -15-6 -5-1 -20 5 -15 1 -25-6 -20 3 -5 0 -20-8 -8-2 -7 0 -20 2 -10 0 -20-7 -15-4 -20-10 -10-3 -50-9 -25 4 -10-2 -10-3 -10-2 -35 9 -20 1 -15-2 -35-10 -10-1 -5 1 -19 6 -16 4 -18 11 -7 3 -10 1 -20-5 0-361 25 10 14 2 11 0 25-5 5 1 15 5 5 0 5-1 20-12 10-2 10 3 15 6 5 0 15-4 25-2 20-6 30-19 5-2 5-1 5 2 20 9 14 3 31 3 20-6 10 0 5 1 15 8 5 0 5-2 5-4 18-20 11-15 8-20 8-36z"/>
<path fill="#ffd900" d="M1871 1985l310 0 0 473 -10 1 -20-7 -20-1 -15-7 -10-2 -20 6 -30 1 -25 4 -20 1 -10 5 -20 12 -25 9 -5 1 -5-1 -15-6 -5 0 -35 3 -10-1 -10-5 -5-1 -15 3 -10 0 -15-6 -10-2 -35 2 -6-2 -14-8 -20-3 -20-10 -10-3 -45-6 -10 0 -20 4 -5-1 -15-5 -10-1 -35 6 -20 0 -15-3 -35-10 -10-2 -10 2 -15 7 -15 1 -5 2 -15 15 -5 2 -5 1 -5-1 -10-4 -10-3 0-349 28 9 7 2 15-1 25-4 5 1 15 7 5 1 5-1 5-3 15-10 10-2 10 3 20 12 30 1 5-1 15-8 15-4 9-13 5-5 11-7 5-2 5 0 5 1 20 9 30 7 15 5 10 0 15-4 5 0 5 2 10 6 5 2 5 0 5-2 15-13 15-9 15-15 6-10 9-24 15-31 4-10 1 0zM1917 2015l-2 5 -2 15 -1 30 -6 25 -1 5 2 5 4 4 5 3 5 0 5-8 2-59 -2-23 -5-4 -4 2zM1773 2225l-2 1 -3 4 -2 10 0 10 4 15 -1 10 -4 5 -13 10 -2 5 -1 10 2 10 5 5 5 0 10-17 16-8 6-5 6-10 1-10 -2-15 -5-15 -7-11 -5-3 -5-2 -3 1z"/>
<path fill="#ffbf00" d="M1921 1985l260 0 0 469 -10 1 -20-6 -20-2 -15-7 -10-1 -20 6 -35 0 -20 4 -20 1 -10 5 -20 11 -25 9 -5 1 -5-1 -10-3 -10-2 -30 1 -10-1 -9-5 -6-7 -5-4 -5 1 -10 7 -5 2 -25-5 -35 2 -5-1 -16-10 -24-3 -15-7 -15-4 -50-7 -25 5 -25-8 -10 1 -25 3 -20 1 -15-3 -35-11 -15-3 -10 2 -15 7 -20 3 -6 4 -14 13 -5 1 -15-5 -10-2 0-338 35 9 15 0 25-4 5 2 10 6 10 3 10-3 17-12 8-1 5 1 9 5 11 12 17 13 13 25 5 3 5 0 5-3 4-10 5-20 3-5 3-3 10-3 5-3 7-21 3-5 6-5 9-4 5-1 5 1 20 9 25 6 9 4 11 7 25 7 20 17 10 4 10-1 20-13 5-2 10 1 10 4 22 21 8 4 25 10 5 3 8 8 4 10 1 10 -5 30 0 15 4 10 3 4 5 2 5-1 4-5 2-5 0-20 2-20 -2-15 1-20 -5-25 6-30 2-50 -1-45 -4-9 -14-16 4 0zM1763 2175l-7 5 -3 5 -2 10 -1 25 3 45 -8 15 -3 10 0 20 2 10 2 4 10 11 5 5 5 3 5 2 5 0 5-3 10-8 5-2 5-1 20 0 5-1 5-3 5-7 2-5 1-10 -3-15 -19-35 -11-40 -10-22 -6-8 -9-8 -10-3 -8 1zM1881 2033l1 2 0 20 -3 5 -3 2 -5-3 0-8 5-9 3-2 2-7z"/>
<path fill="#ffa600" d="M1936 1985l245 0 0 464 -10 0 -15-3 -20-3 -25-7 -10 0 -12 4 -8 1 -30-1 -40 6 -25 11 -20 5 -10 4 -10 2 -20-4 -35 0 -8-4 -12-14 -5-2 -8 1 -17 7 -50 1 -5-1 -20-8 -20-1 -30-11 -50-9 -10 0 -20 3 -25-5 -35 2 -15 0 -15-3 -36-10 -19-3 -10 1 -18 7 -17 5 -20 13 -5 1 -25-4 0-328 35 8 15-1 20-3 5 0 5 3 10 7 10 2 10-2 15-11 5-2 5-1 5 2 8 6 20 25 12 21 5 7 5 4 5 2 5 0 5-1 5-3 5-5 4-10 6-20 4-5 6-4 5-6 6-25 4-5 5-3 5-2 5-1 20 8 25 6 10 4 29 28 6 10 2 5 0 10 -12 25 -3 10 -2 10 1 15 4 25 3 20 -1 10 -6 25 0 15 2 15 5 10 12 14 15 11 10 5 20-9 25-4 10-4 5-4 8-9 7-15 1-10 -3-15 -5-10 -18-25 -3-10 -5-65 3-8 5-5 5-3 10-1 40 5 10 4 5 5 2 8 -2 7 -7 18 -2 10 1 15 4 10 9 11 5 3 5 2 5-1 5-3 5-7 5-9 1-6 0-20 2-15 0-35 -4-30 4-30 2-50 -1-45 -3-10 -5-15 4 0z"/>
<path fill="#ff8c00" d="M1941 1985l240 0 0 457 -15 1 -30-5 -20-6 -10 0 -20 4 -35-1 -30 4 -10 2 -15 7 -10 3 -10-1 -10-5 -5 1 -15 9 -5 1 -45 0 -5-1 -5-3 -10-13 -5-3 -5-1 -10 1 -20 6 -30 3 -10 0 -30-7 -20 0 -5-1 -25-10 -50-12 -10-1 -20 2 -25-2 -30 1 -15 0 -15-3 -30-9 -30-3 -15 2 -25 9 -10 5 -10 7 -10 4 -5 0 -20-4 0-318 10 1 25 5 15 0 20-3 5 1 15 10 10 3 10-2 5-2 10-9 5-2 5-1 5 2 7 7 17 25 11 20 10 13 5 4 10 2 10-2 5-2 5-5 5-6 4-9 5-20 10-20 4-20 3-5 4-4 5-2 5 0 20 6 20 4 10 4 7 7 6 10 7 15 2 10 0 15 -9 30 -2 15 1 10 9 20 3 15 1 20 -3 20 0 20 2 15 3 10 12 15 21 21 7 4 3 1 5 0 15-5 25 1 10-2 5-1 10-8 13-16 10-15 4-10 2-10 -1-10 -14-30 -4-5 -14-10 -2-5 1-5 9-15 2-5 0-10 1-5 3-4 5 0 2 4 -2 9 -4 6 0 5 7 20 4 5 3 3 16 12 4 5 6 15 4 5 5 3 10 1 5-2 6-7 1-5 1-20 7-20 1-5 -2-15 4-25 0-30 -3-30 3-30 1-65 -1-30 -3-20 0-5z"/>
<path fill="#ff7300" d="M1951 1985l230 0 0 451 -15 1 -45-8 -15-1 -20 2 -35 0 -30 2 -10 3 -20 8 -5 1 -5-2 -10-5 -10-3 -10 1 -20 7 -25 1 -10-2 -15-15 -5-3 -10-2 -5 1 -19 8 -6 1 -35 3 -30-2 -25 1 -10-3 -60-24 -10-3 -15-1 -40 5 -35 1 -15-3 -30-13 -15-2 -25 1 -25 6 -15 6 -10 6 -10 8 -10 4 -5 0 -20-6 0-307 10 0 25 5 35-3 5 1 15 11 10 3 10-1 5-2 15-10 5-1 6 4 11 15 9 15 14 25 10 14 5 4 5 2 10 0 10-4 5-3 9-8 6-8 4-12 4-25 4-15 3-15 5-9 5-3 5 0 20 5 15 3 10 3 7 6 3 5 5 25 1 15 -3 15 -7 25 -2 20 1 5 3 5 8 10 5 10 2 25 1 50 3 15 6 10 14 15 13 17 10 6 10 3 20 3 25 10 10 2 10-1 9-5 13-15 33-46 5-4 15-5 7-5 3-5 7-20 2-10 -2-25 3-15 -1-20 4-25 0-25 -2-35 3-30 -1-15 1-35 0-40 -2-20 0-10 3 0z"/>
<path fill="#ff5900" d="M1961 1985l220 0 0 442 -15 2 -20-4 -35-2 -85 2 -15 2 -20 8 -5 0 -24-15 -5-5 -8-10 -4-10 -3-10 -2-25 2-15 9-31 4-29 0-15 -3-15 1-20 -2-15 5-20 0-10 0-55 1-80 -1-55 2-15 3 0zM1656 2093l5-1 5 1 34 7 8 5 2 5 4 30 -1 15 -2 10 -5 15 -5 25 0 10 5 12 10 13 1 5 -1 10 1 5 4 8 3 12 2 35 2 15 7 15 13 15 9 15 9 8 17 12 4 5 4 5 1 5 -2 5 -8 5 -6 2 -25 4 -10 0 -14-6 -28-15 -23-17 -30-9 -5 0 -5 2 -15 14 -10 4 -10 1 -15 0 -10-2 -11-3 -6-5 -3-5 0-5 4-5 6-4 4-6 6-20 15-10 4-10 1-10 -1-10 -4-4 -5-1 -5 2 -4 3 -3 5 -3 18 -5 6 -10 6 -15 15 -30 18 -17 7 -46 15 -8 5 -9 9 -5 4 -5 1 -5-1 -20-6 0-296 10-1 25 4 35-1 5 2 15 11 10 2 15-2 15-8 5 0 5 4 5 6 12 17 23 46 5 5 5 4 10 3 10-2 10-6 15-15 7-10 3-6 2-9 1-25 4-25 3-8 5-4z"/>
<path fill="#ff4000" d="M1971 1985l210 0 0 432 -15 3 -25-2 -125 0 -25 4 -5-2 -5-4 -5-6 -4-10 -6-25 -7-45 5-50 0-10 -4-20 1-15 -1-15 4-20 1-15 -1-70 1-65 -1-45 4-20 3 0zM1656 2098l5-2 5 1 25 5 10 3 4 5 2 30 0 10 -1 10 -7 20 -4 35 1 7 8 18 0 5 -4 15 1 5 3 5 11 10 2 5 3 15 0 30 3 15 5 10 8 10 16 30 2 10 -2 5 -6 4 -5 0 -10-4 -19-15 -16-22 -10-10 -10-4 -25-5 -15 0 -5 1 -9 5 -3 5 -4 15 -3 5 -6 5 -10 1 -10-2 -4-4 -1-5 2-10 6-10 12-10 2-5 0-5 0-15 2-30 -4-7 -5-3 -5-1 -10 2 -35 13 -4 6 -4 15 -6 10 -21 19 -14 16 -11 8 -15 7 -25 8 -25 16 -5 0 -20-5 0-284 10-2 25 3 31-1 4 1 5 3 15 10 10 3 10-1 20-5 5 0 10 9 8 10 6 10 16 39 5 7 15 17 5 2 5 0 5-3 10-9 20-25 8-13 3-10 2-10 -1-25 1-10 2-10 5-7z"/>
<path fill="#ff2600" d="M1981 1990l3-5 197 0 0 420 -10 4 -10 2 -20-1 -30 2 -35-2 -35 1 -20-2 -20 1 -5-1 -5-2 -5-7 -3-10 -4-35 -8-25 -1-10 4-40 -1-10 -4-20 1-15 -1-15 4-25 1-20 -1-60 1-60 -1-40 2-15 6-10zM1656 2105l5-4 5 0 24 4 8 5 2 5 2 20 0 15 -8 30 -4 35 1 7 5 18 1 5 -3 20 2 6 11 14 3 5 2 10 -1 18 -5 11 -5 5 -5 1 -30 1 -35 7 -10 0 -5-3 -3-5 -4-10 1-10 4-20 0-5 -3-10 -5-9 -5-5 -5-2 -5 1 -21 10 -29 10 -7 5 -5 5 -13 20 -10 14 -16 26 -9 10 -7 5 -8 5 -20 7 -25 12 -10 0 -15-4 0-270 15-4 20 3 30 0 5 1 15 11 10 3 10 1 25-3 5 0 5 3 5 5 8 10 18 45 19 35 5 6 5 4 5 0 5-2 5-5 38-63 3-10 2-10 -2-30 1-10 3-5z"/>
<path fill="#ff0d00" d="M2026 1986l1-1 154 0 0 404 -10 7 -9 4 -51 5 -35-5 -35 2 -35-6 -6-6 -1-10 -1-35 -7-20 -2-10 -1-15 1-20 -5-30 -2-30 7-50 0-20 -4-40 2-80 1-10 3-6 3-4 5-5 22-14 5-5zM1666 2105l10 1 14 4 5 5 1 5 2 10 -1 15 -7 35 -4 40 5 25 -3 15 1 10 2 5 9 15 2 5 0 10 -2 5 -3 5 -6 4 -10 1 -20 0 -10 3 -16 7 -9 2 -5-2 -4-5 -1-5 8-20 1-5 0-10 -2-25 2-20 3-15 6-15 22-45 2-10 1-10 -3-20 0-10 2-5 3-4 5-1zM1401 2125l10-4 5-1 15 2 25 1 8 2 17 10 10 3 10 1 25-2 5 1 5 2 6 5 6 10 8 23 15 37 4 20 0 10 -1 5 -7 10 -7 5 -29 15 -40 30 -4 5 -2 20 -3 10 -5 10 -6 7 -12 8 -33 14 -10 2 -8-1 -12-4 0-253 5-3z"/>
<path fill="#f20000" d="M2111 2020l25-1 20 3 10 4 15 14 0 97 -7 13 -3 10 4 40 1 20 -1 20 -5 45 1 10 7 20 2 10 0 10 -1 10 -8 25 -5 10 -5 6 -10 4 -20 1 -20 3 -35-11 -30-1 -5-2 -5-4 -4-6 -1-10 5-18 5-9 18-23 5-10 0-5 -1-5 -7-10 -23-25 -7-10 -5-12 0-13 3-10 3-5 28-30 6-10 0-5 -1-5 -7-10 -27-25 -4-5 -5-10 -2-15 1-10 3-10 6-10 6-5 20-13 20-11 20-7 20-4zM1666 2110l10 1 10 3 5 5 2 6 -1 15 -8 40 1 20 -3 20 3 25 -5 20 2 10 9 15 1 5 -1 6 -5 5 -5 1 -25-3 -10-4 -5-9 -4-21 0-30 3-20 7-25 12-25 3-10 2-15 -4-25 1-6 5-4zM1411 2129l10-2 25 1 10 2 15 7 20 6 10 0 25-2 10 3 5 4 5 9 7 23 9 25 3 10 1 10 -1 10 -3 10 -6 8 -10 8 -30 18 -10 4 -15 3 -25 1 -5 2 -5 4 -4 7 0 5 1 5 3 5 12 10 3 5 1 5 -3 10 -6 10 -4 5 -7 5 -22 10 -9 3 -5 0 -10-3 -10-5 0-64 12-6 4-5 0-5 -9-25 -5-20 0-15 3-25 -1-10 -4-11 0-34 9-15 6-6z"/>
<path fill="#d90000" d="M1666 2120l5-4 10 2 5 5 1 7 -5 15 0 15 -4 15 2 25 -5 25 1 15 -1 5 -4 8 -10 12 -5-5 -4-15 -2-15 0-15 1-10 2-10 4-10 6-10 5-10 4-20 0-5 -5-15 -1-5zM1461 2149l15-3 25 3 25-3 5 0 5 2 6 7 6 25 10 25 1 10 -1 15 -5 10 -7 8 -25 17 -10 5 -5 1 -10 0 -16-6 -24-15 -5-5 -5-10 -1-5 1-5 9-15 1-5 -4-20 1-20 2-10 4-5 2-1zM1416 2324l10-1 5 2 5 5 5 13 4 7 0 5 -3 5 -10 5 -11 3 -5 0 -6-3 -8-10 -5-10 0-5 2-5 4-5 8-5 5-1z"/>
<path fill="#c00000" d="M1486 2155l20 0 20-4 5 0 5 2 4 7 3 20 10 25 1 5 -1 10 -2 5 -5 9 -10 9 -25 13 -5 1 -5-1 -5-6 -5-10 -5-15 -6-15 -6-20 -2-15 2-10 2-5 5-3 5-2zM1666 2188l5 2 4 10 -1 5 -3 7 -5 3 -5-3 -2-7 2-10 5-7z"/>
<path fill="#a60000" d="M1521 2159l5-2 5 1 3 2 2 5 3 20 8 20 -1 10 -2 5 -3 4 -5 5 -5 2 -10-1 -9-5 -6-5 -10-15 -5-15 0-10 1-5 4-5 7-5 18-6z"/>
<path fill="#8d0000" d="M1516 2174l5-1 5 2 2 5 4 20 -1 6 -5 2 -5-2 -5-4 -5-7 -2-5 0-5 1-5 6-6z"/>
</g></g>
<g clip-path="url(#cfA)"><path d="M1407.3 2087.6l10.1 8.9 13.5 5.6 17.9 0 5.7-2.1M1524.1 2073l5.4-2.2 11.2 5.6 11.2 7.8 8.9-12.3 13.5-6.7 22.4 2.2 22.4-1.1 20.2-3.4 6.7-13.4 6.7-15.7 5.6-5.6 5.6 5.6 6.7 13.4 9 11.2 13.4-6.7 15.7-4.5 15.7-11.2 11.2-24.6M1407.3 2102.1l21.3 6.8 22.4-1.2 6-1.8M1477.9 2108.4l11.2 6.1 17.9-2.3 13.5-13.4 9-3.4 11.2 3.4 4.4 4.4M1561.7 2116.9l8.1-1.3 13.4 5.6 4.5 15.7 0 15.6 4.5 4.5 5.6-6.7 3.4-13.4 4.4-22.4 4.5-10.1 9-1.2 11.2 6.8 6.7 2.2 0-26.9 11.2-8.9 10.1-6.8 28 15.7 22.4 6.7 15.7 6.8 20.2-2.3 17.9-6.7 12.5 17.9 9 9 8.9-9 9-20.1 22.4-1.2 4.5-7.8 17.9-13.4 4.5-18 6.7-20.1 11.2-11.2 2.3-6.8M1407.3 2106.6l21.3 5.6 27.7-2.6M1473 2110.4l7.2 10.8 8.9 7.8 17.9-1.1 13.5-4.5 6.7-13.4 4.5 4.5M1553.4 2151.6l16.4 31.2 2.2 12.3 13.5 6.7 8.9 12.4 9-10.1 15.7-6.7 9-11.2 15.6-15.7 3.4-20.2 -2.2-26.9 3.3-26.9 9-6.7 13.4 5.6 11.2 2.2 13.5-1.1 13.4 2.3 2.3 11.2 -4.5 13.4 4.5 13.5 0 22.4 -9 17.9 -2.2 17.9 -4.5 22.4 8.9 13.5 15.7 10.1 -8.9 10 -9 6.8 0 8.9 21.3 1.2 2.2 25.7 1.2 26.2 2.2 13.7 4.5 11.2 15.7 11.2 4.4 17.9 9 9 13.5 6.7 4.4 13.5 -2.2 17.9 -38.1 7.9 -13.4-7.9 -13.5-9 -15.7-8.9 -8.9-13.5 -11.2-8.9 -20.2-2.3 -9-13.4 -11.2-3.4 -6.7 5.6 -6.7 18 -7.9 12.3 -19 1.1 -24.7-1.1 -11.2-5.6 -2.2-9 15.7-11.2 0-15.7 6.7-8.9 15.7-6.8 2.2-17.9 -1.1-22.4 1.1 4.9 2.3-8.9 -15.7 0 -9 6.7 -2.2 17.5 -22.4 13.4 -4.5 12.3 -17.9 5.6 -13.5 6.8 -6.7 11.2 -17.9 8.9 -18 6.8 -22.4 4.4 -15.7 9 -4.4 13.4 -9 4.5 -14.6-8.9M1827.7 2319.9l1.1-21.7 -4.5-13.4 -13.4-20.2 -13.5-42.6 -11.2-15.7 -11.2-4.5 9.9 2.3 -11.2-4.5 -6.7-13.4 -4.5-2.3 -2.2 20.2 -4.5 22.4 0 22.4 6.7 17.9 -4.5 11.2 -13.4 4.5 -3.4 11.2 1.1 26.5 11.2 8.9 9 13.5 6.7-2.3 4.5-33.6 34.9-6.7 6.7 11.2 9 11.2 4.5-22.4M1903.9 2009.1l-1.2 49.3 -5.6 22.4 -10.1 11.2 -17.9 10.1 -6.7 10.1 -1.1 11.2 10.1 9 15.6 4.5 9-9 4.5-9 13.4-3.3 15.7 7.8 4.5-11.2 2.2-42.6 -.4-63.8M1928.5 2148.1l-7.8 11.2 1.1 22.4 -2.3 44.8 4.5 13.4 5.6 4.5 5.6-8.9 0-31.4 -3.3-22.4 3.3-17.9 -3.3-11.3 -3.4-4.4M1958.8 2003.5l1.1 43.7 -1.1 67.3 1.1 67.2 -1.1 22.4 -5.6 15.7 4.4 11.2 -3.3 17.9 4.5 17.9 -1.2 26.9 -3.3 26.2 -2.3 2.5 -2.2 26.9 4.5 33.6 6.7 11.2 2.2 17.9 2.3 9 13.4 6.7 12.3 11.2 7.9-6.7 9-9 32.4-.1M2115.8 2422.3l28.9-.2 23.6 7.9M1407.3 2441.2l10.1 11.2 9 2.2 8.9-11.2 4.5-13.4 9-3.4 17.9 4.5 11.2-11.2 11.2-3.4 40.4 13.5 22.4 5.6 22.4 0 22.4-4.5 17.9-2.2 11.2 7.8 11.2 4.5 11.2-4.5 9-4.5 13.4 3.4 15.7 2.2 22.4 0 18 2.3 15.6 12.3 20.2-3.4 11.2 12.3 1.3 4.5 11.2 2.3 17.9-4.5 18-2.3 11.2 5.6 11.2 7.9 11.2-2.3 7.8-6.7 2.3-13.4 3.3 2.2 2.3 13.5 11.2 8.9 17.9-3.3 17.9 1.1 17.9 2.2 13.5 6.8 38.1-15.7 11.2-9 11.2-6.7 11.2 0 11.2 2.2 11.2-6.7 13.5-1.1 25.7 2.8M2095.4 2445.9l13.5-5.8 9 3.3 8.9 9 29.2 0 12.3 8.9M1407.3 2478.2l21.3-5.7 16.8-6.7 10.1 4.5 11.2 3.4 11.2-7.9 11.2-5.6 17.9 2.3 22.5 12.3 22.4-3.4 22.4-4.5 17.9-7.8 15.7-9 11.2 1.2 17.9 3.3 20.2-4.5 40.3 13.5 15.7 11.2 17.9 10.1 22.4 2.2 21.5 0 13.4-1.1 15.7-2.2 11.2 4.4 11.2 10.1 18 5.6 6.7-8.9 13.4-4.5 13.5 4.5 11.2 6.7 4.5 8.9 11.2 3.4 8.9-3.4 9-13.4 4.5-13.4 11.2 11.2 11.2 2.2 38.1-13.4 11.2-6.8 11.2-8.9 9 1.1 5.8-.5M2097.9 2455.1l8.8-2.7 6.7 4.5 11.2 3.3 17.9 1.1 13.5 4.5 12.3 5.6M1610.1 2262.4l5.6-3.4 3.4 12.3 -1.1 15.7 -4.5 3.4 -3.4-10.1 0-17.9M1631.4 2341.5l3.4-6.1 6.7 0 4.5 6.1 -3.4 6.7 -6.7 .7 -4.5-7.4M1526.1 2410.9l3.4-3.3 4 3.3 -2.9 3.8 -3.8-.4 -.7-3.4M1631.4 2405.3l4.5-3.3 5.2 3.3 -3 5.6 -4.9-.6 -1.8-5M1795 2427.7l-12.3 2.3 -3.4 5.6 5.6 5.6 10.1 .4M1778.4 2435.6l4.4-5.6 10.1-1.1 7.2 4.4 -2.7 6.8 -10.1 2.9 -7.8-2.3 -1.1-5.1M1775 2302.7l22.4-9 9-5.6 6.7 3.4 -3.4 8.9 10.1 15.7M1926.9 2134.6l3.2 0 0 5.6 -3.2 0 0-5.6" fill="none" stroke="#0c0c14" stroke-width="1.9" stroke-linejoin="round" stroke-opacity="0.9"/></g>
<text transform="translate(1558.0 2136.0) rotate(52)" font-size="30" text-anchor="middle" fill="#15151c" fill-opacity="0.88" stroke="none" font-family="'Liberation Sans','DejaVu Sans',sans-serif" y="10.8">21.6</text>
<text transform="translate(1489.1 2087.6) rotate(-20)" font-size="33.5" text-anchor="middle" fill="#15151c" fill-opacity="0.88" stroke="none" font-family="'Liberation Sans','DejaVu Sans',sans-serif" y="12.1">20.6</text>
<text transform="translate(2077.5 2422.8) rotate(-3)" font-size="33.5" text-anchor="middle" fill="#15151c" fill-opacity="0.88" stroke="none" font-family="'Liberation Sans','DejaVu Sans',sans-serif" y="12.1">21.6</text>
<text transform="translate(2063.0 2469.9) rotate(-15)" font-size="33.5" text-anchor="middle" fill="#15151c" fill-opacity="0.88" stroke="none" font-family="'Liberation Sans','DejaVu Sans',sans-serif" y="12.1">20.6</text>
<g class="t">
<text x="1379.6" y="1994.7" font-size="48.5" text-anchor="end" fill="#262626" font-family="'Liberation Serif','DejaVu Serif',serif">0</text>
<text x="1379.6" y="2102" font-size="48.5" text-anchor="end" fill="#262626" font-family="'Liberation Serif','DejaVu Serif',serif">20</text>
<text x="1379.6" y="2209.4" font-size="48.5" text-anchor="end" fill="#262626" font-family="'Liberation Serif','DejaVu Serif',serif">40</text>
<text x="1379.6" y="2316.7" font-size="48.5" text-anchor="end" fill="#262626" font-family="'Liberation Serif','DejaVu Serif',serif">60</text>
<text x="1379.6" y="2424" font-size="48.5" text-anchor="end" fill="#262626" font-family="'Liberation Serif','DejaVu Serif',serif">80</text>
<text x="1379.6" y="2531.4" font-size="48.5" text-anchor="end" fill="#262626" font-family="'Liberation Serif','DejaVu Serif',serif">100</text>
<text x="1379.6" y="2638.7" font-size="48.5" text-anchor="end" fill="#262626" font-family="'Liberation Serif','DejaVu Serif',serif">120</text>
<text x="1525.9" y="2683.7" font-size="48.5" text-anchor="middle" fill="#262626" font-family="'Liberation Serif','DejaVu Serif',serif">-88.4</text>
<text x="1713.9" y="2683.7" font-size="48.5" text-anchor="middle" fill="#262626" font-family="'Liberation Serif','DejaVu Serif',serif">-88.35</text>
<text x="1901.8" y="2683.7" font-size="48.5" text-anchor="middle" fill="#262626" font-family="'Liberation Serif','DejaVu Serif',serif">-88.3</text>
<text x="2089.8" y="2683.7" font-size="48.5" text-anchor="middle" fill="#262626" font-family="'Liberation Serif','DejaVu Serif',serif">-88.25</text>
<rect x="2184.6" y="1978.5" width="49" height="646.1" fill="url(#jet)" stroke="#262626" stroke-width="1.6"/>
<text x="2247.1" y="2617.2" font-size="45" text-anchor="start" fill="#262626" font-family="'Liberation Serif','DejaVu Serif',serif">18.5</text>
<text x="2247.1" y="2539.4" font-size="45" text-anchor="start" fill="#262626" font-family="'Liberation Serif','DejaVu Serif',serif">19</text>
<text x="2247.1" y="2461.7" font-size="45" text-anchor="start" fill="#262626" font-family="'Liberation Serif','DejaVu Serif',serif">19.5</text>
<text x="2247.1" y="2383.9" font-size="45" text-anchor="start" fill="#262626" font-family="'Liberation Serif','DejaVu Serif',serif">20</text>
<text x="2247.1" y="2306.1" font-size="45" text-anchor="start" fill="#262626" font-family="'Liberation Serif','DejaVu Serif',serif">20.5</text>
<text x="2247.1" y="2228.4" font-size="45" text-anchor="start" fill="#262626" font-family="'Liberation Serif','DejaVu Serif',serif">21</text>
<text x="2247.1" y="2150.6" font-size="45" text-anchor="start" fill="#262626" font-family="'Liberation Serif','DejaVu Serif',serif">21.5</text>
<text x="2247.1" y="2072.8" font-size="45" text-anchor="start" fill="#262626" font-family="'Liberation Serif','DejaVu Serif',serif">22</text>
<text x="2247.1" y="1995.1" font-size="45" text-anchor="start" fill="#262626" font-family="'Liberation Serif','DejaVu Serif',serif">22.5</text>
<path d="M2233.6 2602.2h-6M2233.6 2524.4h-6M2233.6 2446.7h-6M2233.6 2368.9h-6M2233.6 2291.1h-6M2233.6 2213.4h-6M2233.6 2135.6h-6M2233.6 2057.8h-6M2233.6 1980.1h-6" stroke="#262626" stroke-width="1.3" fill="none"/>
<text transform="translate(2386.7 2301.6) rotate(-90)" font-size="45" text-anchor="middle" fill="#262626" font-family="'Liberation Serif','DejaVu Serif',serif"><tspan dy="-22" font-size="33">o</tspan><tspan dy="22">C</tspan></text>
<text x="1633.8" y="2764.2" font-size="53.7" text-anchor="start" fill="#262626" font-family="'Liberation Serif','DejaVu Serif',serif">Longitude (<tspan dx="2" dy="-27.5" font-size="40">o</tspan><tspan dx="2.5" dy="27.5">)</tspan></text>
<text x="1325" y="1908.5" font-size="50" text-anchor="start" fill="#000" font-family="'Liberation Serif','DejaVu Serif',serif">(f)</text>
</g>
<g fill="#25d825" stroke="#0b5a0b" stroke-width="2.4"><circle cx="1877.1" cy="1978.9" r="5.6"/><circle cx="1887.6" cy="1978.9" r="5.6"/><circle cx="1899" cy="1978.9" r="5.6"/><circle cx="1913.3" cy="1978.9" r="5.6"/><circle cx="1937.1" cy="1978.9" r="5.6"/><circle cx="1952.4" cy="1978.9" r="5.6"/><circle cx="1970.5" cy="1978.9" r="5.6"/><circle cx="1983.8" cy="1978.9" r="5.6"/><circle cx="1992.4" cy="1978.9" r="5.6"/><circle cx="2000" cy="1978.9" r="5.6"/><circle cx="2007.6" cy="1978.9" r="5.6"/><circle cx="2019" cy="1978.9" r="5.6"/><circle cx="2030.5" cy="1978.9" r="5.6"/></g>
</g>
</svg></body></html>
